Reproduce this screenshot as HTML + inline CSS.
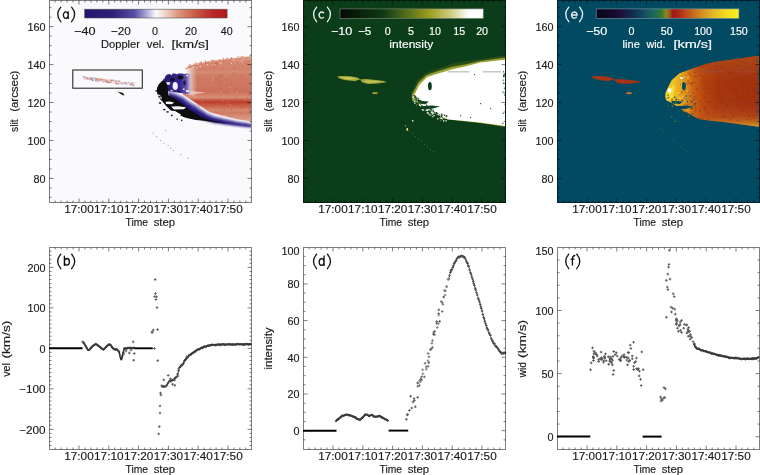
<!DOCTYPE html>
<html><head><meta charset="utf-8"><style>
html,body{margin:0;padding:0;background:#fff;}
svg{display:block;will-change:transform;}
</style></head><body>
<svg width="760" height="475" viewBox="0 0 760 475">
<rect width="760" height="475" fill="#fff"/>
<rect x="49" y="0" width="203" height="203" fill="#fafafd"/>
<rect x="303" y="0" width="203" height="203" fill="#0b3d1a"/>
<rect x="557" y="0" width="203" height="203" fill="#024a61"/>
<defs><linearGradient id="gA" x1="0" y1="56" x2="0" y2="124" gradientUnits="userSpaceOnUse"><stop offset="0" stop-color="#dc9c86"/><stop offset="0.08" stop-color="#d48a72"/><stop offset="0.2" stop-color="#d28068"/><stop offset="0.24" stop-color="#d48c76"/><stop offset="0.28" stop-color="#d07c64"/><stop offset="0.45" stop-color="#cc7560"/><stop offset="0.529" stop-color="#cc7058"/><stop offset="0.574" stop-color="#d4826a"/><stop offset="0.61" stop-color="#d68e78"/><stop offset="0.647" stop-color="#c85a44"/><stop offset="0.676" stop-color="#bc3c2c"/><stop offset="0.706" stop-color="#c4503a"/><stop offset="0.75" stop-color="#cc6a52"/><stop offset="0.794" stop-color="#d48870"/><stop offset="0.838" stop-color="#d07a62"/><stop offset="0.91" stop-color="#d89480"/><stop offset="1" stop-color="#e2ae9e"/></linearGradient><linearGradient id="gAw" x1="187" y1="0" x2="197" y2="0" gradientUnits="userSpaceOnUse"><stop offset="0" stop-color="#f4eef2" stop-opacity="0.95"/><stop offset="0.4" stop-color="#f0d8cf" stop-opacity="0.6"/><stop offset="1" stop-color="#eed0c4" stop-opacity="0"/></linearGradient><linearGradient id="gAb" x1="160" y1="0" x2="193" y2="0" gradientUnits="userSpaceOnUse"><stop offset="0" stop-color="#2a1970"/><stop offset="0.6" stop-color="#35258a"/><stop offset="0.82" stop-color="#6a5eb0"/><stop offset="1" stop-color="#e8e4f2" stop-opacity="0"/></linearGradient><linearGradient id="gAband" x1="0" y1="0" x2="0" y2="1"><stop offset="0" stop-color="#c8c2e2"/><stop offset="0.3" stop-color="#6e62b4"/><stop offset="0.7" stop-color="#3a2a8c"/><stop offset="1" stop-color="#2a1a78"/></linearGradient><linearGradient id="cbA" x1="0" x2="1" y1="0" y2="0"><stop offset="0" stop-color="#24146e"/><stop offset="0.2" stop-color="#2e2078"/><stop offset="0.35" stop-color="#5a4ea6"/><stop offset="0.44" stop-color="#b4b0da"/><stop offset="0.5" stop-color="#fbfbfc"/><stop offset="0.56" stop-color="#f2d8cc"/><stop offset="0.66" stop-color="#dc9478"/><stop offset="0.78" stop-color="#c85a44"/><stop offset="0.9" stop-color="#b8262a"/><stop offset="1" stop-color="#b4161c"/></linearGradient><filter id="bl" x="-5%" y="-5%" width="110%" height="110%"><feGaussianBlur stdDeviation="0.55"/></filter><filter id="bl2" x="-10%" y="-20%" width="120%" height="140%"><feGaussianBlur stdDeviation="0.8"/></filter><clipPath id="clipA"><rect x="50" y="1" width="201" height="201"/></clipPath></defs>
<g clip-path="url(#clipA)" filter="url(#bl)">
<polygon points="187.0,67.5 189.0,66.0 200.0,63.0 220.0,60.0 234.0,58.3 248.0,56.6 252.0,56.2 252.0,121.6 236.8,119.2 225.0,116.3 214.0,113.5 207.7,111.0 201.8,107.0 195.9,103.0 190.0,99.3 186.0,96.5 183.0,94.5 184.5,80.0" fill="url(#gA)"/>
<rect x="200.7" y="64.3" width="1.3" height="1.3" fill="#cc6e58"/>
<rect x="245.5" y="57.9" width="1.3" height="1.3" fill="#d88a70"/>
<rect x="189.3" y="64.2" width="1.3" height="1.3" fill="#d47c64"/>
<rect x="202.1" y="62.2" width="1.3" height="1.3" fill="#f0d0c4"/>
<rect x="216.0" y="63.6" width="1.3" height="1.3" fill="#d47c64"/>
<rect x="211.2" y="64.5" width="1.3" height="1.3" fill="#e8b8a6"/>
<rect x="226.9" y="62.4" width="1.3" height="1.3" fill="#d88a70"/>
<rect x="210.7" y="59.7" width="1.3" height="1.3" fill="#dc9a82"/>
<rect x="195.5" y="68.0" width="1.3" height="1.3" fill="#dc9a82"/>
<rect x="204.9" y="60.6" width="1.3" height="1.3" fill="#cc6e58"/>
<rect x="216.2" y="62.9" width="1.3" height="1.3" fill="#d47c64"/>
<rect x="232.1" y="62.1" width="1.3" height="1.3" fill="#d47c64"/>
<rect x="233.1" y="60.0" width="1.3" height="1.3" fill="#e8b8a6"/>
<rect x="243.0" y="56.0" width="1.3" height="1.3" fill="#e8b8a6"/>
<rect x="217.7" y="60.0" width="1.3" height="1.3" fill="#f0d0c4"/>
<rect x="213.8" y="62.8" width="1.3" height="1.3" fill="#cc6e58"/>
<rect x="212.8" y="64.1" width="1.3" height="1.3" fill="#d88a70"/>
<rect x="208.2" y="63.4" width="1.3" height="1.3" fill="#d88a70"/>
<rect x="200.3" y="63.1" width="1.3" height="1.3" fill="#dc9a82"/>
<rect x="241.5" y="61.3" width="1.3" height="1.3" fill="#f0d0c4"/>
<rect x="230.9" y="60.9" width="1.3" height="1.3" fill="#cc6e58"/>
<rect x="248.7" y="60.0" width="1.3" height="1.3" fill="#d88a70"/>
<rect x="191.9" y="67.2" width="1.3" height="1.3" fill="#f0d0c4"/>
<rect x="239.9" y="59.1" width="1.3" height="1.3" fill="#cc6e58"/>
<rect x="193.2" y="65.8" width="1.3" height="1.3" fill="#f0d0c4"/>
<rect x="250.3" y="55.1" width="1.3" height="1.3" fill="#dc9a82"/>
<rect x="212.1" y="60.3" width="1.3" height="1.3" fill="#cc6e58"/>
<rect x="213.2" y="61.6" width="1.3" height="1.3" fill="#dc9a82"/>
<rect x="187.9" y="68.6" width="1.3" height="1.3" fill="#dc9a82"/>
<rect x="209.9" y="63.1" width="1.3" height="1.3" fill="#d88a70"/>
<rect x="243.1" y="61.1" width="1.3" height="1.3" fill="#d88a70"/>
<rect x="200.6" y="61.3" width="1.3" height="1.3" fill="#dc9a82"/>
<rect x="190.1" y="67.4" width="1.3" height="1.3" fill="#dc9a82"/>
<rect x="247.6" y="60.5" width="1.3" height="1.3" fill="#cc6e58"/>
<rect x="225.3" y="58.5" width="1.3" height="1.3" fill="#dc9a82"/>
<rect x="249.7" y="56.6" width="1.3" height="1.3" fill="#cc6e58"/>
<rect x="248.3" y="60.0" width="1.3" height="1.3" fill="#d47c64"/>
<rect x="209.9" y="64.8" width="1.3" height="1.3" fill="#d47c64"/>
<rect x="227.5" y="60.7" width="1.3" height="1.3" fill="#d88a70"/>
<rect x="191.8" y="69.1" width="1.3" height="1.3" fill="#d88a70"/>
<rect x="202.9" y="64.4" width="1.3" height="1.3" fill="#f0d0c4"/>
<rect x="200.7" y="62.8" width="1.3" height="1.3" fill="#cc6e58"/>
<rect x="219.4" y="61.5" width="1.3" height="1.3" fill="#dc9a82"/>
<rect x="237.0" y="61.9" width="1.3" height="1.3" fill="#cc6e58"/>
<rect x="186.3" y="69.8" width="1.3" height="1.3" fill="#f0d0c4"/>
<rect x="193.8" y="66.6" width="1.3" height="1.3" fill="#cc6e58"/>
<rect x="215.8" y="62.8" width="1.3" height="1.3" fill="#cc6e58"/>
<rect x="225.2" y="59.2" width="1.3" height="1.3" fill="#d47c64"/>
<rect x="186.5" y="66.5" width="1.3" height="1.3" fill="#f0d0c4"/>
<rect x="186.4" y="68.3" width="1.3" height="1.3" fill="#f0d0c4"/>
<rect x="215.1" y="62.4" width="1.3" height="1.3" fill="#cc6e58"/>
<rect x="196.7" y="63.2" width="1.3" height="1.3" fill="#cc6e58"/>
<rect x="240.7" y="57.2" width="1.3" height="1.3" fill="#d47c64"/>
<rect x="191.9" y="68.1" width="1.3" height="1.3" fill="#d88a70"/>
<rect x="230.1" y="57.7" width="1.3" height="1.3" fill="#d88a70"/>
<rect x="199.7" y="65.9" width="1.3" height="1.3" fill="#e8b8a6"/>
<rect x="206.6" y="64.1" width="1.3" height="1.3" fill="#f0d0c4"/>
<rect x="231.1" y="57.4" width="1.3" height="1.3" fill="#cc6e58"/>
<rect x="247.6" y="58.8" width="1.3" height="1.3" fill="#e8b8a6"/>
<rect x="213.9" y="64.1" width="1.3" height="1.3" fill="#e8b8a6"/>
<rect x="190.3" y="68.2" width="1.3" height="1.3" fill="#e8b8a6"/>
<rect x="243.4" y="58.0" width="1.3" height="1.3" fill="#e8b8a6"/>
<rect x="236.9" y="56.3" width="1.3" height="1.3" fill="#e8b8a6"/>
<rect x="205.8" y="65.2" width="1.3" height="1.3" fill="#d88a70"/>
<rect x="197.1" y="63.6" width="1.3" height="1.3" fill="#f0d0c4"/>
<rect x="190.6" y="67.3" width="1.3" height="1.3" fill="#d88a70"/>
<rect x="193.6" y="64.6" width="1.3" height="1.3" fill="#cc6e58"/>
<rect x="215.7" y="62.5" width="1.3" height="1.3" fill="#cc6e58"/>
<rect x="212.7" y="61.7" width="1.3" height="1.3" fill="#d47c64"/>
<rect x="195.3" y="62.5" width="1.3" height="1.3" fill="#d88a70"/>
<rect x="250.1" y="57.1" width="1.3" height="1.3" fill="#f0d0c4"/>
<rect x="199.7" y="65.6" width="1.3" height="1.3" fill="#f0d0c4"/>
<rect x="234.4" y="62.0" width="1.3" height="1.3" fill="#d88a70"/>
<rect x="207.5" y="61.4" width="1.3" height="1.3" fill="#dc9a82"/>
<rect x="241.6" y="61.2" width="1.3" height="1.3" fill="#dc9a82"/>
<rect x="238.5" y="56.2" width="1.3" height="1.3" fill="#f0d0c4"/>
<rect x="218.8" y="59.5" width="1.3" height="1.3" fill="#d47c64"/>
<rect x="223.1" y="57.9" width="1.3" height="1.3" fill="#f0d0c4"/>
<rect x="193.0" y="66.0" width="1.3" height="1.3" fill="#e8b8a6"/>
<rect x="228.8" y="60.2" width="1.3" height="1.3" fill="#d47c64"/>
<rect x="188.5" y="69.9" width="1.3" height="1.3" fill="#dc9a82"/>
<rect x="207.5" y="61.5" width="1.3" height="1.3" fill="#d88a70"/>
<rect x="216.5" y="63.3" width="1.3" height="1.3" fill="#cc6e58"/>
<rect x="199.6" y="62.0" width="1.3" height="1.3" fill="#dc9a82"/>
<rect x="196.3" y="66.8" width="1.3" height="1.3" fill="#e8b8a6"/>
<rect x="239.4" y="55.9" width="1.3" height="1.3" fill="#f0d0c4"/>
<rect x="222.7" y="60.2" width="1.3" height="1.3" fill="#cc6e58"/>
<rect x="201.4" y="64.6" width="1.3" height="1.3" fill="#d88a70"/>
<rect x="212.9" y="62.0" width="1.3" height="1.3" fill="#dc9a82"/>
<rect x="241.6" y="60.1" width="1.3" height="1.3" fill="#dc9a82"/>
<rect x="193.2" y="63.4" width="1.3" height="1.3" fill="#dc9a82"/>
<rect x="241.4" y="56.1" width="1.3" height="1.3" fill="#d88a70"/>
<rect x="217.3" y="59.5" width="1.3" height="1.3" fill="#dc9a82"/>
<rect x="208.2" y="63.7" width="1.3" height="1.3" fill="#d88a70"/>
<rect x="205.1" y="62.0" width="1.3" height="1.3" fill="#cc6e58"/>
<rect x="213.3" y="59.9" width="1.3" height="1.3" fill="#dc9a82"/>
<rect x="232.3" y="58.9" width="1.3" height="1.3" fill="#dc9a82"/>
<rect x="222.4" y="58.2" width="1.3" height="1.3" fill="#d47c64"/>
<rect x="224.9" y="62.1" width="1.3" height="1.3" fill="#d47c64"/>
<rect x="227.0" y="57.6" width="1.3" height="1.3" fill="#d47c64"/>
<rect x="188.5" y="68.2" width="1.3" height="1.3" fill="#f0d0c4"/>
<rect x="205.8" y="65.8" width="1.3" height="1.3" fill="#d47c64"/>
<rect x="215.4" y="60.3" width="1.3" height="1.3" fill="#d88a70"/>
<rect x="202.8" y="64.2" width="1.3" height="1.3" fill="#d47c64"/>
<rect x="199.8" y="62.0" width="1.3" height="1.3" fill="#dc9a82"/>
<rect x="246.8" y="57.1" width="1.3" height="1.3" fill="#d88a70"/>
<rect x="237.2" y="57.6" width="1.3" height="1.3" fill="#d47c64"/>
<rect x="230.6" y="62.4" width="1.3" height="1.3" fill="#f0d0c4"/>
<rect x="228.7" y="62.3" width="1.3" height="1.3" fill="#d47c64"/>
<rect x="229.1" y="61.4" width="1.3" height="1.3" fill="#d88a70"/>
<rect x="220.1" y="62.9" width="1.3" height="1.3" fill="#f0d0c4"/>
<rect x="185.3" y="67.9" width="1.3" height="1.3" fill="#d47c64"/>
<rect x="187.9" y="65.5" width="1.3" height="1.3" fill="#dc9a82"/>
<rect x="228.5" y="59.3" width="1.3" height="1.3" fill="#dc9a82"/>
<rect x="207.5" y="65.0" width="1.3" height="1.3" fill="#dc9a82"/>
<rect x="240.7" y="59.6" width="1.3" height="1.3" fill="#f0d0c4"/>
<rect x="247.9" y="58.2" width="1.3" height="1.3" fill="#dc9a82"/>
<rect x="187.4" y="69.9" width="1.3" height="1.3" fill="#d88a70"/>
<rect x="219.9" y="59.6" width="1.3" height="1.3" fill="#d88a70"/>
<rect x="234.4" y="61.9" width="1.3" height="1.3" fill="#dc9a82"/>
<rect x="223.6" y="109.8" width="1.5" height="1" fill="#c85a44" opacity="0.7"/>
<rect x="240.5" y="75.3" width="1.5" height="1" fill="#c85a44" opacity="0.7"/>
<rect x="229.4" y="87.0" width="1.5" height="1" fill="#e0a890" opacity="0.7"/>
<rect x="205.4" y="95.0" width="1.5" height="1" fill="#d08068" opacity="0.7"/>
<rect x="224.0" y="115.1" width="1.5" height="1" fill="#e0a890" opacity="0.7"/>
<rect x="220.5" y="115.5" width="1.5" height="1" fill="#e0a890" opacity="0.7"/>
<rect x="241.5" y="115.2" width="1.5" height="1" fill="#e0a890" opacity="0.7"/>
<rect x="232.1" y="103.6" width="1.5" height="1" fill="#c04a34" opacity="0.7"/>
<rect x="231.8" y="70.6" width="1.5" height="1" fill="#e0a890" opacity="0.7"/>
<rect x="244.7" y="70.2" width="1.5" height="1" fill="#d89078" opacity="0.7"/>
<rect x="220.4" y="88.6" width="1.5" height="1" fill="#c04a34" opacity="0.7"/>
<rect x="248.0" y="94.3" width="1.5" height="1" fill="#c85a44" opacity="0.7"/>
<rect x="198.3" y="103.4" width="1.5" height="1" fill="#c85a44" opacity="0.7"/>
<rect x="225.7" y="79.3" width="1.5" height="1" fill="#c85a44" opacity="0.7"/>
<rect x="241.9" y="91.6" width="1.5" height="1" fill="#d08068" opacity="0.7"/>
<rect x="231.0" y="109.0" width="1.5" height="1" fill="#c04a34" opacity="0.7"/>
<rect x="242.1" y="94.2" width="1.5" height="1" fill="#d08068" opacity="0.7"/>
<rect x="244.3" y="78.9" width="1.5" height="1" fill="#d08068" opacity="0.7"/>
<rect x="219.2" y="83.1" width="1.5" height="1" fill="#c85a44" opacity="0.7"/>
<rect x="224.8" y="75.1" width="1.5" height="1" fill="#e0a890" opacity="0.7"/>
<rect x="237.2" y="69.9" width="1.5" height="1" fill="#e0a890" opacity="0.7"/>
<rect x="232.8" y="73.3" width="1.5" height="1" fill="#c04a34" opacity="0.7"/>
<rect x="240.9" y="107.2" width="1.5" height="1" fill="#c04a34" opacity="0.7"/>
<rect x="191.7" y="116.6" width="1.5" height="1" fill="#d89078" opacity="0.7"/>
<rect x="242.3" y="84.0" width="1.5" height="1" fill="#d89078" opacity="0.7"/>
<rect x="218.5" y="74.6" width="1.5" height="1" fill="#c85a44" opacity="0.7"/>
<rect x="229.5" y="104.8" width="1.5" height="1" fill="#d89078" opacity="0.7"/>
<rect x="248.5" y="109.0" width="1.5" height="1" fill="#c85a44" opacity="0.7"/>
<rect x="244.3" y="104.7" width="1.5" height="1" fill="#c85a44" opacity="0.7"/>
<rect x="201.4" y="100.8" width="1.5" height="1" fill="#d89078" opacity="0.7"/>
<rect x="244.9" y="76.0" width="1.5" height="1" fill="#d89078" opacity="0.7"/>
<rect x="209.1" y="85.3" width="1.5" height="1" fill="#d89078" opacity="0.7"/>
<rect x="197.2" y="76.5" width="1.5" height="1" fill="#d08068" opacity="0.7"/>
<rect x="192.2" y="86.9" width="1.5" height="1" fill="#d08068" opacity="0.7"/>
<rect x="190.4" y="80.4" width="1.5" height="1" fill="#e0a890" opacity="0.7"/>
<rect x="213.2" y="66.3" width="1.5" height="1" fill="#c04a34" opacity="0.7"/>
<rect x="235.3" y="88.9" width="1.5" height="1" fill="#c85a44" opacity="0.7"/>
<rect x="223.2" y="68.6" width="1.5" height="1" fill="#d08068" opacity="0.7"/>
<rect x="194.7" y="85.8" width="1.5" height="1" fill="#e0a890" opacity="0.7"/>
<rect x="244.1" y="112.0" width="1.5" height="1" fill="#d89078" opacity="0.7"/>
<rect x="222.2" y="100.5" width="1.5" height="1" fill="#d08068" opacity="0.7"/>
<rect x="236.2" y="78.3" width="1.5" height="1" fill="#d08068" opacity="0.7"/>
<rect x="196.5" y="113.9" width="1.5" height="1" fill="#d08068" opacity="0.7"/>
<rect x="231.0" y="91.5" width="1.5" height="1" fill="#d89078" opacity="0.7"/>
<rect x="230.7" y="90.0" width="1.5" height="1" fill="#d89078" opacity="0.7"/>
<rect x="233.8" y="99.3" width="1.5" height="1" fill="#c04a34" opacity="0.7"/>
<rect x="235.3" y="97.5" width="1.5" height="1" fill="#c85a44" opacity="0.7"/>
<rect x="200.9" y="110.9" width="1.5" height="1" fill="#e0a890" opacity="0.7"/>
<rect x="197.5" y="113.3" width="1.5" height="1" fill="#c85a44" opacity="0.7"/>
<rect x="246.2" y="97.5" width="1.5" height="1" fill="#c04a34" opacity="0.7"/>
<rect x="215.6" y="78.5" width="1.5" height="1" fill="#c85a44" opacity="0.7"/>
<rect x="217.9" y="79.2" width="1.5" height="1" fill="#c85a44" opacity="0.7"/>
<rect x="233.0" y="67.9" width="1.5" height="1" fill="#c85a44" opacity="0.7"/>
<rect x="236.0" y="91.9" width="1.5" height="1" fill="#e0a890" opacity="0.7"/>
<rect x="211.9" y="76.6" width="1.5" height="1" fill="#e0a890" opacity="0.7"/>
<rect x="193.3" y="69.5" width="1.5" height="1" fill="#e0a890" opacity="0.7"/>
<rect x="220.8" y="75.6" width="1.5" height="1" fill="#c04a34" opacity="0.7"/>
<rect x="211.6" y="80.3" width="1.5" height="1" fill="#e0a890" opacity="0.7"/>
<rect x="217.3" y="106.5" width="1.5" height="1" fill="#d89078" opacity="0.7"/>
<rect x="211.5" y="108.6" width="1.5" height="1" fill="#d89078" opacity="0.7"/>
<rect x="199.2" y="94.5" width="1.5" height="1" fill="#d89078" opacity="0.7"/>
<rect x="224.4" y="112.0" width="1.5" height="1" fill="#d89078" opacity="0.7"/>
<rect x="201.3" y="72.4" width="1.5" height="1" fill="#e0a890" opacity="0.7"/>
<rect x="230.9" y="83.5" width="1.5" height="1" fill="#c85a44" opacity="0.7"/>
<rect x="226.1" y="70.1" width="1.5" height="1" fill="#e0a890" opacity="0.7"/>
<rect x="238.7" y="92.0" width="1.5" height="1" fill="#c85a44" opacity="0.7"/>
<rect x="224.7" y="73.1" width="1.5" height="1" fill="#d08068" opacity="0.7"/>
<rect x="212.5" y="78.1" width="1.5" height="1" fill="#e0a890" opacity="0.7"/>
<rect x="244.4" y="114.2" width="1.5" height="1" fill="#e0a890" opacity="0.7"/>
<rect x="209.3" y="111.8" width="1.5" height="1" fill="#d08068" opacity="0.7"/>
<rect x="228.7" y="115.7" width="1.5" height="1" fill="#d08068" opacity="0.7"/>
<rect x="244.6" y="98.7" width="1.5" height="1" fill="#d89078" opacity="0.7"/>
<rect x="226.7" y="102.0" width="1.5" height="1" fill="#d89078" opacity="0.7"/>
<rect x="196.6" y="103.6" width="1.5" height="1" fill="#c85a44" opacity="0.7"/>
<rect x="220.0" y="90.8" width="1.5" height="1" fill="#e0a890" opacity="0.7"/>
<rect x="202.1" y="105.0" width="1.5" height="1" fill="#c85a44" opacity="0.7"/>
<rect x="192.3" y="89.5" width="1.5" height="1" fill="#e0a890" opacity="0.7"/>
<rect x="196.8" y="77.6" width="1.5" height="1" fill="#c85a44" opacity="0.7"/>
<rect x="198.3" y="105.6" width="1.5" height="1" fill="#c04a34" opacity="0.7"/>
<rect x="246.3" y="63.4" width="1.5" height="1" fill="#c04a34" opacity="0.7"/>
<polygon points="185.0,70.0 197.0,66.0 197.0,98.0 186.0,93.0" fill="url(#gAw)"/>
<polygon points="184.0,90.4 195.0,91.5 205.6,92.6 195.0,94.0 186.0,94.6" fill="#efd8d0" opacity="0.75"/>
<polygon points="164.0,78.0 167.0,74.5 173.0,73.6 181.0,73.6 188.0,73.8 193.0,74.5 195.0,80.0 195.5,88.0 193.0,94.0 186.0,94.0 178.0,92.5 170.0,92.0 164.0,89.0 161.0,84.0" fill="url(#gAb)"/>
<ellipse cx="175.2" cy="86" rx="2.6" ry="4.0" fill="#f6f4fa"/>
<ellipse cx="180.5" cy="77.2" rx="2.8" ry="2.0" fill="#0a0a14"/>
<ellipse cx="172.5" cy="79.5" rx="2.2" ry="1.6" fill="#0a0a14"/>
<ellipse cx="168" cy="83.5" rx="2.4" ry="1.4" fill="#e4e0f0"/>
<ellipse cx="184.5" cy="83" rx="1.2" ry="2.4" fill="#1a1050"/>
<rect x="175.5" y="72.5" width="2.5" height="1.6" fill="#f8f8fb"/>
<rect x="183.5" y="72.3" width="2" height="1.4" fill="#f8f8fb"/>
<rect x="170.5" y="73.5" width="1.6" height="1.6" fill="#f8f8fb"/>
<rect x="160.5" y="84" width="3" height="3" fill="#0a0a12"/>
<rect x="163" y="88" width="4" height="3" fill="#0a0a12"/>
<rect x="186" y="90" width="3" height="2" fill="#e0dcee"/>
<rect x="163" y="77" width="2" height="1.5" fill="#f4f2f8"/>
<rect x="166" y="88" width="2.5" height="1.5" fill="#0a0a14"/>
<rect x="170.5" y="90" width="2" height="1.5" fill="#e8e4f2"/>
<rect x="186" y="75" width="2" height="1.2" fill="#e8e4f2"/>
<rect x="178" y="91" width="2" height="1.3" fill="#0a0a14"/>
<rect x="169" y="76" width="1.5" height="1.2" fill="#0a0a14"/>
<rect x="183" y="88.5" width="1.6" height="1.4" fill="#f0eef6"/>
<g filter="url(#bl2)">
<polygon points="168.0,91.5 172.0,92.4 175.0,93.0 179.0,94.8 183.0,96.5 186.5,99.0 190.0,101.5 193.0,103.3 195.9,105.1 199.0,107.3 201.8,109.2 205.0,111.4 207.7,113.3 211.0,114.6 214.0,115.7 219.0,117.0 225.0,118.5 231.0,119.9 236.8,121.2 244.0,122.2 252.0,123.4 252.0,124.0 244.0,122.9 236.8,121.9 231.0,120.7 225.0,119.4 219.0,118.0 214.0,116.8 211.0,115.7 207.7,114.5 205.0,112.8 201.8,110.7 199.0,108.8 195.9,106.7 193.0,105.0 190.0,103.2 186.5,100.6 183.0,98.0 179.0,96.0 175.0,94.1 172.0,93.3 168.0,92.2" fill="#a098d0"/>
<polygon points="168.0,92.1 172.0,93.2 175.0,94.0 179.0,95.9 183.0,97.8 186.5,100.4 190.0,103.0 193.0,104.8 195.9,106.6 199.0,108.7 201.8,110.6 205.0,112.6 207.7,114.4 211.0,115.6 214.0,116.7 219.0,117.9 225.0,119.3 231.0,120.6 236.8,121.8 244.0,122.8 252.0,123.9 252.0,124.8 244.0,123.7 236.8,122.8 231.0,121.7 225.0,120.5 219.0,119.2 214.0,118.1 211.0,117.1 207.7,116.0 205.0,114.4 201.8,112.7 199.0,110.8 195.9,108.8 193.0,107.0 190.0,105.2 186.5,102.6 183.0,99.9 179.0,97.7 175.0,95.5 172.0,94.4 168.0,93.1" fill="#4e40a0"/>
<polygon points="168.0,93.0 172.0,94.4 175.0,95.4 179.0,97.5 183.0,99.7 186.5,102.4 190.0,105.1 193.0,106.9 195.9,108.6 199.0,110.7 201.8,112.5 205.0,114.3 207.7,115.8 211.0,117.0 214.0,118.0 219.0,119.1 225.0,120.4 231.0,121.6 236.8,122.7 244.0,123.7 252.0,124.7 252.0,127.5 244.0,126.7 236.8,126.1 231.0,125.3 225.0,124.6 219.0,123.6 214.0,122.9 211.0,122.1 207.7,121.3 205.0,120.5 201.8,119.6 199.0,118.0 195.9,116.2 193.0,114.5 190.0,112.7 186.5,109.7 183.0,106.6 179.0,103.5 175.0,100.4 172.0,98.6 168.0,96.2" fill="#281880"/>
</g>
<polygon points="157.0,88.0 159.0,84.0 162.0,81.0 165.0,80.5 167.0,84.0 168.0,90.0 168.0,95.0 175.0,98.5 183.0,104.0 190.0,109.8 195.9,113.3 201.8,116.9 207.7,119.2 214.0,121.0 225.0,123.0 227.0,123.8 220.0,123.0 214.0,122.2 207.7,121.2 201.8,120.6 195.9,120.0 190.0,118.8 185.0,117.5 179.7,115.2 171.0,110.8 166.0,105.7 160.0,99.0 157.0,93.0" fill="#08080f"/>
<polygon points="165.6,101.8 170.0,101.6 174.0,102.6 172.0,104.2 166.0,104.0" fill="#f8f8fb"/>
<polygon points="171.0,106.4 178.0,106.2 186.0,107.2 184.0,109.3 174.0,109.5" fill="#f8f8fb"/>
<polygon points="163.0,107.0 167.0,108.5 170.0,111.5 168.0,113.0 164.0,110.5" fill="#f8f8fb"/>
<polygon points="169.5,110.5 175.0,111.0 181.0,114.5 179.0,116.8 173.0,115.0" fill="#f8f8fb"/>
<polygon points="158.5,99.5 162.0,101.0 164.5,105.0 161.0,104.0" fill="#f8f8fb"/>
<polygon points="158.0,94.0 161.0,96.0 162.0,99.0 159.0,98.0" fill="#f8f8fb"/>
<rect x="155.5" y="90.2" width="1.8" height="1.4" fill="#111"/>
<rect x="158.4" y="96.1" width="2.3" height="1.4" fill="#111"/>
<rect x="158.9" y="102.3" width="2.3" height="1.4" fill="#111"/>
<rect x="163.2" y="108.9" width="2.1" height="1.4" fill="#111"/>
<rect x="166.5" y="111.2" width="2.2" height="1.4" fill="#111"/>
<rect x="170.9" y="114.7" width="1.7" height="1.4" fill="#111"/>
<rect x="176.5" y="118.5" width="1.2" height="1.4" fill="#111"/>
<rect x="181.1" y="119.7" width="1.3" height="1.4" fill="#111"/>
<rect x="72.8" y="70" width="69.5" height="18.2" fill="none" stroke="#2a2a2a" stroke-width="1.1"/>
<polygon points="82.0,76.2 95.0,77.5 110.0,79.5 122.0,81.5 134.0,83.5 134.0,85.0 122.0,84.0 110.0,82.5 95.0,80.2 82.0,78.2" fill="#ecd8dc" opacity="0.7"/>
<rect x="90.4" y="78.3" width="1.6" height="1.3" fill="#e3a58c" opacity="0.85"/>
<rect x="109.9" y="80.6" width="1.6" height="1.3" fill="#f0e0e0" opacity="0.85"/>
<rect x="97.8" y="79.2" width="1.6" height="1.3" fill="#d07050" opacity="0.85"/>
<rect x="104.8" y="80.0" width="1.6" height="1.3" fill="#d9896a" opacity="0.85"/>
<rect x="119.4" y="81.7" width="1.6" height="1.3" fill="#e8bca8" opacity="0.5"/>
<rect x="105.3" y="79.8" width="1.6" height="1.3" fill="#d07050" opacity="0.85"/>
<rect x="93.6" y="77.2" width="1.6" height="1.3" fill="#a7a2da" opacity="0.85"/>
<rect x="95.5" y="78.6" width="1.6" height="1.3" fill="#f0e0e0" opacity="0.85"/>
<rect x="109.8" y="79.8" width="1.6" height="1.3" fill="#d9896a" opacity="0.85"/>
<rect x="90.9" y="78.1" width="1.6" height="1.3" fill="#8c86cc" opacity="0.85"/>
<rect x="115.1" y="80.4" width="1.6" height="1.3" fill="#8c86cc" opacity="0.85"/>
<rect x="105.0" y="79.3" width="1.6" height="1.3" fill="#d9896a" opacity="0.85"/>
<rect x="103.0" y="79.4" width="1.6" height="1.3" fill="#d9896a" opacity="0.85"/>
<rect x="118.6" y="80.6" width="1.6" height="1.3" fill="#d07050" opacity="0.5"/>
<rect x="84.0" y="77.4" width="1.6" height="1.3" fill="#a7a2da" opacity="0.85"/>
<rect x="94.6" y="78.5" width="1.6" height="1.3" fill="#a7a2da" opacity="0.85"/>
<rect x="90.6" y="78.7" width="1.6" height="1.3" fill="#e8bca8" opacity="0.85"/>
<rect x="129.5" y="83.7" width="1.6" height="1.3" fill="#c8c4e8" opacity="0.5"/>
<rect x="96.3" y="79.9" width="1.6" height="1.3" fill="#f0e0e0" opacity="0.85"/>
<rect x="123.0" y="84.0" width="1.6" height="1.3" fill="#f0e0e0" opacity="0.5"/>
<rect x="95.0" y="78.2" width="1.6" height="1.3" fill="#e8bca8" opacity="0.85"/>
<rect x="114.7" y="81.0" width="1.6" height="1.3" fill="#e3a58c" opacity="0.85"/>
<rect x="84.9" y="77.4" width="1.6" height="1.3" fill="#e3a58c" opacity="0.85"/>
<rect x="112.8" y="79.7" width="1.6" height="1.3" fill="#d9896a" opacity="0.85"/>
<rect x="117.4" y="80.4" width="1.6" height="1.3" fill="#d9896a" opacity="0.85"/>
<rect x="107.1" y="79.5" width="1.6" height="1.3" fill="#e8bca8" opacity="0.85"/>
<rect x="92.4" y="80.0" width="1.6" height="1.3" fill="#f0e0e0" opacity="0.85"/>
<rect x="99.7" y="79.4" width="1.6" height="1.3" fill="#e8bca8" opacity="0.85"/>
<rect x="130.9" y="82.2" width="1.6" height="1.3" fill="#c8c4e8" opacity="0.5"/>
<rect x="121.1" y="82.7" width="1.6" height="1.3" fill="#d07050" opacity="0.5"/>
<rect x="86.6" y="77.2" width="1.6" height="1.3" fill="#d07050" opacity="0.85"/>
<rect x="88.0" y="77.6" width="1.6" height="1.3" fill="#e8bca8" opacity="0.85"/>
<rect x="109.9" y="81.7" width="1.6" height="1.3" fill="#d07050" opacity="0.85"/>
<rect x="91.1" y="79.1" width="1.6" height="1.3" fill="#d07050" opacity="0.85"/>
<rect x="125.5" y="83.0" width="1.6" height="1.3" fill="#8c86cc" opacity="0.5"/>
<rect x="100.9" y="79.4" width="1.6" height="1.3" fill="#a7a2da" opacity="0.85"/>
<rect x="105.1" y="80.8" width="1.6" height="1.3" fill="#e8bca8" opacity="0.85"/>
<rect x="96.0" y="78.0" width="1.6" height="1.3" fill="#d07050" opacity="0.85"/>
<rect x="131.4" y="82.3" width="1.6" height="1.3" fill="#8c86cc" opacity="0.5"/>
<rect x="119.0" y="80.6" width="1.6" height="1.3" fill="#f0e0e0" opacity="0.5"/>
<rect x="86.8" y="78.4" width="1.6" height="1.3" fill="#e3a58c" opacity="0.85"/>
<rect x="98.6" y="79.7" width="1.6" height="1.3" fill="#d9896a" opacity="0.85"/>
<rect x="127.7" y="84.3" width="1.6" height="1.3" fill="#f0e0e0" opacity="0.5"/>
<rect x="106.3" y="81.5" width="1.6" height="1.3" fill="#e8bca8" opacity="0.85"/>
<rect x="133.8" y="82.5" width="1.6" height="1.3" fill="#a7a2da" opacity="0.5"/>
<rect x="102.8" y="81.3" width="1.6" height="1.3" fill="#e3a58c" opacity="0.85"/>
<rect x="99.6" y="78.9" width="1.6" height="1.3" fill="#f0e0e0" opacity="0.85"/>
<rect x="86.2" y="78.2" width="1.6" height="1.3" fill="#a7a2da" opacity="0.85"/>
<rect x="117.8" y="83.3" width="1.6" height="1.3" fill="#8c86cc" opacity="0.85"/>
<rect x="112.4" y="79.7" width="1.6" height="1.3" fill="#a7a2da" opacity="0.85"/>
<rect x="97.0" y="78.3" width="1.6" height="1.3" fill="#d07050" opacity="0.85"/>
<rect x="108.3" y="81.9" width="1.6" height="1.3" fill="#e8bca8" opacity="0.85"/>
<rect x="123.0" y="82.7" width="1.6" height="1.3" fill="#a7a2da" opacity="0.5"/>
<rect x="106.3" y="80.7" width="1.6" height="1.3" fill="#d9896a" opacity="0.85"/>
<rect x="124.9" y="81.7" width="1.6" height="1.3" fill="#d9896a" opacity="0.5"/>
<rect x="126.7" y="81.8" width="1.6" height="1.3" fill="#c8c4e8" opacity="0.5"/>
<rect x="86.5" y="77.7" width="1.6" height="1.3" fill="#a7a2da" opacity="0.85"/>
<rect x="124.9" y="83.4" width="1.6" height="1.3" fill="#e3a58c" opacity="0.5"/>
<rect x="115.4" y="82.3" width="1.6" height="1.3" fill="#e8bca8" opacity="0.85"/>
<rect x="102.9" y="80.4" width="1.6" height="1.3" fill="#e3a58c" opacity="0.85"/>
<rect x="97.2" y="80.5" width="1.6" height="1.3" fill="#f0e0e0" opacity="0.85"/>
<rect x="124.4" y="81.9" width="1.6" height="1.3" fill="#d9896a" opacity="0.5"/>
<rect x="106.1" y="81.0" width="1.6" height="1.3" fill="#e3a58c" opacity="0.85"/>
<rect x="99.8" y="78.6" width="1.6" height="1.3" fill="#e3a58c" opacity="0.85"/>
<rect x="130.0" y="84.0" width="1.6" height="1.3" fill="#e8bca8" opacity="0.5"/>
<rect x="104.0" y="80.5" width="1.6" height="1.3" fill="#a7a2da" opacity="0.85"/>
<rect x="95.0" y="79.9" width="1.6" height="1.3" fill="#d9896a" opacity="0.85"/>
<rect x="99.4" y="79.3" width="1.6" height="1.3" fill="#e3a58c" opacity="0.85"/>
<rect x="95.0" y="78.4" width="1.6" height="1.3" fill="#a7a2da" opacity="0.85"/>
<rect x="119.8" y="83.3" width="1.6" height="1.3" fill="#f0e0e0" opacity="0.5"/>
<rect x="130.4" y="83.6" width="1.6" height="1.3" fill="#d07050" opacity="0.5"/>
<rect x="101.1" y="78.8" width="1.6" height="1.3" fill="#d07050" opacity="0.85"/>
<rect x="107.2" y="81.3" width="1.6" height="1.3" fill="#d07050" opacity="0.85"/>
<rect x="106.4" y="80.7" width="1.6" height="1.3" fill="#d9896a" opacity="0.85"/>
<rect x="97.2" y="80.5" width="1.6" height="1.3" fill="#8c86cc" opacity="0.85"/>
<rect x="128.4" y="81.9" width="1.6" height="1.3" fill="#8c86cc" opacity="0.5"/>
<rect x="97.3" y="79.3" width="1.6" height="1.3" fill="#f0e0e0" opacity="0.85"/>
<rect x="84.1" y="78.2" width="1.6" height="1.3" fill="#c8c4e8" opacity="0.85"/>
<rect x="107.6" y="79.2" width="1.6" height="1.3" fill="#f0e0e0" opacity="0.85"/>
<rect x="120.6" y="83.0" width="1.6" height="1.3" fill="#c8c4e8" opacity="0.5"/>
<rect x="89.4" y="78.0" width="1.6" height="1.3" fill="#d07050" opacity="0.85"/>
<rect x="105.1" y="79.3" width="1.6" height="1.3" fill="#f0e0e0" opacity="0.85"/>
<rect x="121.7" y="83.0" width="1.6" height="1.3" fill="#d07050" opacity="0.5"/>
<rect x="132.9" y="85.0" width="1.6" height="1.3" fill="#e8bca8" opacity="0.5"/>
<rect x="131.0" y="83.4" width="1.6" height="1.3" fill="#f0e0e0" opacity="0.5"/>
<rect x="106.7" y="81.9" width="1.6" height="1.3" fill="#a7a2da" opacity="0.85"/>
<rect x="100.7" y="80.7" width="1.6" height="1.3" fill="#c8c4e8" opacity="0.85"/>
<rect x="83.5" y="77.0" width="1.6" height="1.3" fill="#e8bca8" opacity="0.85"/>
<rect x="124.0" y="82.1" width="1.6" height="1.3" fill="#a7a2da" opacity="0.5"/>
<rect x="130.4" y="83.6" width="1.6" height="1.3" fill="#d9896a" opacity="0.5"/>
<rect x="88.8" y="78.2" width="1.6" height="1.3" fill="#d9896a" opacity="0.85"/>
<rect x="90.6" y="77.0" width="1.6" height="1.3" fill="#a7a2da" opacity="0.85"/>
<rect x="133.2" y="84.8" width="1.6" height="1.3" fill="#e8bca8" opacity="0.5"/>
<rect x="132.9" y="84.7" width="1.6" height="1.3" fill="#d9896a" opacity="0.5"/>
<rect x="107.5" y="79.7" width="1.6" height="1.3" fill="#c8c4e8" opacity="0.85"/>
<rect x="104.5" y="79.7" width="1.6" height="1.3" fill="#d9896a" opacity="0.85"/>
<rect x="113.4" y="82.2" width="1.6" height="1.3" fill="#f0e0e0" opacity="0.85"/>
<rect x="98.2" y="78.6" width="1.6" height="1.3" fill="#f0e0e0" opacity="0.85"/>
<rect x="103.7" y="79.3" width="1.6" height="1.3" fill="#d9896a" opacity="0.85"/>
<rect x="83.5" y="76.0" width="1.6" height="1.3" fill="#8c86cc" opacity="0.85"/>
<rect x="129.5" y="84.3" width="1.6" height="1.3" fill="#a7a2da" opacity="0.5"/>
<rect x="131.6" y="84.4" width="1.6" height="1.3" fill="#d07050" opacity="0.5"/>
<rect x="108.5" y="81.7" width="1.6" height="1.3" fill="#8c86cc" opacity="0.85"/>
<rect x="96.5" y="78.1" width="1.6" height="1.3" fill="#d9896a" opacity="0.85"/>
<rect x="107.3" y="79.2" width="1.6" height="1.3" fill="#f0e0e0" opacity="0.85"/>
<rect x="106.3" y="80.9" width="1.6" height="1.3" fill="#d07050" opacity="0.85"/>
<rect x="101.3" y="80.1" width="1.6" height="1.3" fill="#c8c4e8" opacity="0.85"/>
<rect x="91.5" y="79.0" width="1.6" height="1.3" fill="#e3a58c" opacity="0.85"/>
<rect x="103.2" y="79.5" width="1.6" height="1.3" fill="#f0e0e0" opacity="0.85"/>
<rect x="96.5" y="78.4" width="1.6" height="1.3" fill="#c8c4e8" opacity="0.85"/>
<rect x="131.9" y="82.7" width="1.6" height="1.3" fill="#e8bca8" opacity="0.5"/>
<rect x="89.3" y="76.8" width="1.6" height="1.3" fill="#f0e0e0" opacity="0.85"/>
<rect x="126.3" y="84.0" width="1.6" height="1.3" fill="#c8c4e8" opacity="0.5"/>
<rect x="83.6" y="77.6" width="1.6" height="1.3" fill="#e3a58c" opacity="0.85"/>
<rect x="107.4" y="79.9" width="1.6" height="1.3" fill="#c8c4e8" opacity="0.85"/>
<rect x="87.3" y="78.4" width="1.6" height="1.3" fill="#e8bca8" opacity="0.85"/>
<rect x="83.7" y="77.4" width="1.6" height="1.3" fill="#f0e0e0" opacity="0.85"/>
<rect x="92.1" y="79.8" width="1.6" height="1.3" fill="#8c86cc" opacity="0.85"/>
<rect x="116.0" y="83.0" width="1.6" height="1.3" fill="#d07050" opacity="0.85"/>
<rect x="98.4" y="78.7" width="1.6" height="1.3" fill="#d9896a" opacity="0.85"/>
<rect x="131.1" y="83.1" width="1.6" height="1.3" fill="#d07050" opacity="0.5"/>
<rect x="110.9" y="79.6" width="1.6" height="1.3" fill="#d07050" opacity="0.85"/>
<rect x="95.0" y="80.3" width="1.6" height="1.3" fill="#e3a58c" opacity="0.85"/>
<rect x="107.8" y="81.9" width="1.6" height="1.3" fill="#e3a58c" opacity="0.85"/>
<rect x="118.3" y="80.8" width="1.6" height="1.3" fill="#e3a58c" opacity="0.85"/>
<rect x="114.8" y="82.4" width="1.6" height="1.3" fill="#d9896a" opacity="0.85"/>
<rect x="131.0" y="85.0" width="1.6" height="1.3" fill="#e3a58c" opacity="0.5"/>
<rect x="104.4" y="81.6" width="1.6" height="1.3" fill="#f0e0e0" opacity="0.85"/>
<rect x="95.9" y="79.2" width="1.6" height="1.3" fill="#d9896a" opacity="0.85"/>
<rect x="91.1" y="78.3" width="1.6" height="1.3" fill="#8c86cc" opacity="0.85"/>
<path d="M117.5,91.5 L123,93 L124.5,95.8 L121,94.2 Z" fill="#111"/>
<rect x="152.5" y="132.5" width="1.2" height="1.2" fill="#c8a0a8"/>
<rect x="156" y="136" width="1.2" height="1.2" fill="#b0b0d0"/>
<rect x="160" y="140" width="1.2" height="1.2" fill="#c8a0a8"/>
<rect x="163.5" y="142.5" width="1.2" height="1.2" fill="#c8a0a8"/>
<rect x="167.5" y="145" width="1.2" height="1.2" fill="#b0b0d0"/>
<rect x="170" y="147.5" width="1.2" height="1.2" fill="#c8a0a8"/>
<rect x="172.5" y="150" width="1.2" height="1.2" fill="#c8a0a8"/>
<rect x="180" y="154" width="1.2" height="1.2" fill="#c8a0a8"/>
<rect x="187.5" y="157.5" width="1.2" height="1.2" fill="#c0a0b0"/>
<rect x="165" y="130" width="1.2" height="1.2" fill="#b8b8d8"/>
</g>
<rect x="84.7" y="9.2" width="142.4" height="8.8" fill="url(#cbA)" stroke="#555" stroke-width="0.6"/>
<defs><linearGradient id="cbC" x1="0" x2="1" y1="0" y2="0"><stop offset="0" stop-color="#020a02"/><stop offset="0.3" stop-color="#0f3a14"/><stop offset="0.45" stop-color="#4c6a18"/><stop offset="0.62" stop-color="#9c9c1c"/><stop offset="0.78" stop-color="#cfcf86"/><stop offset="0.9" stop-color="#ffffff"/><stop offset="1" stop-color="#ffffff"/></linearGradient><clipPath id="clipC"><rect x="304" y="1" width="201" height="201"/></clipPath></defs>
<g clip-path="url(#clipC)" filter="url(#bl)">
<polygon points="411.2,97.0 411.6,92.5 413.7,88.0 417.6,80.3 425.5,73.2 436.6,69.2 452.4,63.7 465.0,61.3 480.3,59.3 502.1,55.9 507.0,55.5 507.0,127.0 503.8,126.8 480.3,123.4 465.0,121.5 455.0,120.6 444.5,119.0 430.0,111.0 418.0,103.0 412.5,100.5" fill="#2c5018"/>
<polygon points="411.8,97.2 412.4,93.5 414.5,90.0 418.4,82.6 426.3,75.2 436.6,71.6 452.4,66.8 465.0,64.4 480.3,61.0 502.1,58.0 507.0,57.6 507.0,126.6 503.8,126.4 480.3,123.0 465.0,121.2 455.0,120.3 444.5,118.6 430.0,110.6 418.5,102.8 413.0,100.2" fill="#9ca030"/>
<polygon points="412.4,97.4 415.3,92.9 419.2,85.0 427.1,77.1 436.6,74.0 452.4,69.2 465.0,66.6 480.3,62.6 502.1,60.1 507.0,59.8 507.0,126.3 503.8,125.8 480.3,122.4 455.0,119.9 448.0,119.5 441.2,116.5 433.8,112.8 426.4,108.4 419.0,102.5" fill="#ffffff"/>
<rect x="447.6" y="71.3" width="22" height="1.1" fill="#a8b8a4"/>
<rect x="482.8" y="71.3" width="18" height="1.1" fill="#a8b8a4"/>
<ellipse cx="429.9" cy="86.2" rx="1.9" ry="4.1" fill="#0b3d1a"/>
<polygon points="420.8,106.2 432.0,105.4 440.0,106.6 432.0,108.8 421.0,109.4" fill="#0b3d1a"/>
<polygon points="417.6,100.8 428.7,101.6 426.0,104.0 418.0,103.6" fill="#0b3d1a"/>
<polygon points="424.0,110.0 432.0,113.5 436.0,116.5 428.0,114.5" fill="#0b3d1a"/>
<rect x="417.8" y="98.3" width="1.4" height="1.3" fill="#1a4a20"/>
<rect x="435.8" y="112.0" width="1.4" height="1.3" fill="#0b3d1a"/>
<rect x="434.3" y="112.3" width="1.4" height="1.3" fill="#1a4a20"/>
<rect x="418.9" y="100.2" width="1.4" height="1.3" fill="#0b3d1a"/>
<rect x="419.3" y="99.8" width="1.4" height="1.3" fill="#1a4a20"/>
<rect x="414.6" y="95.7" width="1.4" height="1.3" fill="#3a5a2a"/>
<rect x="420.1" y="100.6" width="1.4" height="1.3" fill="#0b3d1a"/>
<rect x="425.9" y="104.5" width="1.4" height="1.3" fill="#0b3d1a"/>
<rect x="416.4" y="99.9" width="1.4" height="1.3" fill="#0b3d1a"/>
<rect x="417.2" y="99.7" width="1.4" height="1.3" fill="#3a5a2a"/>
<rect x="415.5" y="98.9" width="1.4" height="1.3" fill="#0b3d1a"/>
<rect x="445.9" y="115.1" width="1.4" height="1.3" fill="#1a4a20"/>
<rect x="415.1" y="97.5" width="1.4" height="1.3" fill="#0b3d1a"/>
<rect x="416.4" y="97.5" width="1.4" height="1.3" fill="#0b3d1a"/>
<rect x="413.7" y="97.0" width="1.4" height="1.3" fill="#3a5a2a"/>
<rect x="441.2" y="114.8" width="1.4" height="1.3" fill="#0b3d1a"/>
<rect x="428.3" y="107.5" width="1.4" height="1.3" fill="#0b3d1a"/>
<rect x="417.9" y="99.9" width="1.4" height="1.3" fill="#0b3d1a"/>
<rect x="419.6" y="100.8" width="1.4" height="1.3" fill="#3a5a2a"/>
<rect x="441.0" y="115.5" width="1.4" height="1.3" fill="#1a4a20"/>
<rect x="423.5" y="103.1" width="1.4" height="1.3" fill="#1a4a20"/>
<rect x="414.8" y="95.8" width="1.4" height="1.3" fill="#0b3d1a"/>
<rect x="433.3" y="111.6" width="1.4" height="1.3" fill="#3a5a2a"/>
<rect x="413.5" y="95.1" width="1.4" height="1.3" fill="#0b3d1a"/>
<rect x="445.7" y="116.0" width="1.4" height="1.3" fill="#3a5a2a"/>
<rect x="436.0" y="112.7" width="1.4" height="1.3" fill="#0b3d1a"/>
<rect x="430.8" y="109.3" width="1.4" height="1.3" fill="#1a4a20"/>
<rect x="432.5" y="111.0" width="1.4" height="1.3" fill="#0b3d1a"/>
<rect x="429.7" y="108.9" width="1.4" height="1.3" fill="#0b3d1a"/>
<rect x="432.5" y="109.5" width="1.4" height="1.3" fill="#3a5a2a"/>
<rect x="443.9" y="114.6" width="1.4" height="1.3" fill="#0b3d1a"/>
<rect x="422.5" y="101.8" width="1.4" height="1.3" fill="#0b3d1a"/>
<rect x="419.0" y="100.3" width="1.4" height="1.3" fill="#1a4a20"/>
<rect x="437.2" y="113.1" width="1.4" height="1.3" fill="#3a5a2a"/>
<rect x="421.2" y="102.6" width="1.4" height="1.3" fill="#0b3d1a"/>
<rect x="427.9" y="107.5" width="1.4" height="1.3" fill="#3a5a2a"/>
<rect x="439.0" y="114.5" width="1.4" height="1.3" fill="#3a5a2a"/>
<rect x="430.4" y="109.1" width="1.4" height="1.3" fill="#3a5a2a"/>
<rect x="414.7" y="97.5" width="1.4" height="1.3" fill="#3a5a2a"/>
<rect x="441.0" y="113.6" width="1.4" height="1.3" fill="#1a4a20"/>
<rect x="420.0" y="105.2" width="1.4" height="1.3" fill="#e8eee0"/>
<rect x="445.4" y="120.2" width="1.4" height="1.3" fill="#e8eee0"/>
<rect x="413.9" y="100.9" width="1.4" height="1.3" fill="#ffffff"/>
<rect x="426.7" y="112.5" width="1.4" height="1.3" fill="#c8d0a0"/>
<rect x="412.4" y="99.3" width="1.4" height="1.3" fill="#c8d0a0"/>
<rect x="425.6" y="109.6" width="1.4" height="1.3" fill="#ffffff"/>
<rect x="431.9" y="112.6" width="1.4" height="1.3" fill="#e8eee0"/>
<rect x="412.0" y="120.1" width="1.4" height="1.3" fill="#ffffff"/>
<rect x="416.7" y="101.4" width="1.4" height="1.3" fill="#c8d0a0"/>
<rect x="426.8" y="109.8" width="1.4" height="1.3" fill="#ffffff"/>
<rect x="430.3" y="114.9" width="1.4" height="1.3" fill="#6a7a2a"/>
<rect x="437.1" y="118.2" width="1.4" height="1.3" fill="#e8eee0"/>
<rect x="427.0" y="111.9" width="1.4" height="1.3" fill="#ffffff"/>
<rect x="429.3" y="114.3" width="1.4" height="1.3" fill="#e8eee0"/>
<rect x="428.2" y="113.5" width="1.4" height="1.3" fill="#c8d0a0"/>
<rect x="430.8" y="111.8" width="1.4" height="1.3" fill="#e8eee0"/>
<rect x="432.4" y="112.6" width="1.4" height="1.3" fill="#ffffff"/>
<rect x="439.1" y="117.3" width="1.4" height="1.3" fill="#6a7a2a"/>
<rect x="440.3" y="117.1" width="1.4" height="1.3" fill="#c8d0a0"/>
<rect x="416.8" y="101.9" width="1.4" height="1.3" fill="#6a7a2a"/>
<rect x="431.9" y="116.0" width="1.4" height="1.3" fill="#c8d0a0"/>
<rect x="426.8" y="109.4" width="1.4" height="1.3" fill="#ffffff"/>
<rect x="414.2" y="102.8" width="1.4" height="1.3" fill="#c8d0a0"/>
<rect x="414.2" y="99.2" width="1.4" height="1.3" fill="#6a7a2a"/>
<rect x="443.0" y="120.3" width="1.4" height="1.3" fill="#ffffff"/>
<rect x="440.1" y="117.6" width="1.4" height="1.3" fill="#6a7a2a"/>
<rect x="442.0" y="118.1" width="1.4" height="1.3" fill="#c8d0a0"/>
<rect x="418.9" y="104.3" width="1.4" height="1.3" fill="#ffffff"/>
<rect x="413.8" y="100.9" width="1.4" height="1.3" fill="#e8eee0"/>
<rect x="431.5" y="112.1" width="1.4" height="1.3" fill="#e8eee0"/>
<rect x="439.9" y="119.6" width="1.4" height="1.3" fill="#6a7a2a"/>
<rect x="421.7" y="109.1" width="1.4" height="1.3" fill="#e8eee0"/>
<rect x="418.9" y="104.0" width="1.4" height="1.3" fill="#e8eee0"/>
<rect x="431.8" y="113.4" width="1.4" height="1.3" fill="#c8d0a0"/>
<rect x="422.7" y="109.4" width="1.4" height="1.3" fill="#e8eee0"/>
<rect x="427.2" y="112.2" width="1.4" height="1.3" fill="#c8d0a0"/>
<rect x="433.4" y="114.9" width="1.4" height="1.3" fill="#e8eee0"/>
<rect x="418.2" y="102.7" width="1.4" height="1.3" fill="#6a7a2a"/>
<rect x="416.1" y="104.4" width="1.4" height="1.3" fill="#6a7a2a"/>
<rect x="440.6" y="117.8" width="1.4" height="1.3" fill="#ffffff"/>
<rect x="503.0" y="76.0" width="1.2" height="1.2" fill="#2a5a2a"/>
<rect x="504.6" y="104.3" width="1.2" height="1.2" fill="#2a5a2a"/>
<rect x="504.2" y="75.4" width="1.2" height="1.2" fill="#2a5a2a"/>
<rect x="503.1" y="74.5" width="1.2" height="1.2" fill="#2a5a2a"/>
<rect x="502.9" y="82.5" width="1.2" height="1.2" fill="#2a5a2a"/>
<rect x="502.2" y="122.8" width="1.2" height="1.2" fill="#2a5a2a"/>
<rect x="504.2" y="73.5" width="1.2" height="1.2" fill="#2a5a2a"/>
<rect x="502.9" y="71.2" width="1.2" height="1.2" fill="#2a5a2a"/>
<rect x="502.5" y="91.4" width="1.2" height="1.2" fill="#2a5a2a"/>
<rect x="502.6" y="112.7" width="1.2" height="1.2" fill="#2a5a2a"/>
<rect x="503.1" y="75.1" width="1.2" height="1.2" fill="#2a5a2a"/>
<rect x="504.1" y="94.5" width="1.2" height="1.2" fill="#2a5a2a"/>
<rect x="503.8" y="87.6" width="1.2" height="1.2" fill="#2a5a2a"/>
<rect x="502.5" y="79.6" width="1.2" height="1.2" fill="#2a5a2a"/>
<rect x="474" y="74" width="1.2" height="1.2" fill="#3a6a3a"/>
<rect x="470" y="117" width="1.2" height="1.2" fill="#3a6a3a"/>
<rect x="460" y="115" width="1.2" height="1.2" fill="#3a6a3a"/>
<rect x="480" y="103" width="1.2" height="1.2" fill="#3a6a3a"/>
<rect x="490" y="108" width="1.2" height="1.2" fill="#3a6a3a"/>
<polygon points="337.0,76.8 341.0,75.9 350.0,76.3 357.0,77.6 360.5,79.2 355.0,80.9 346.0,80.3 340.0,78.8" fill="#aaad38"/>
<polygon points="360.0,79.6 366.0,79.0 376.0,80.0 384.0,81.0 386.5,82.2 378.0,83.6 368.0,84.0 362.0,82.2" fill="#a4a836"/>
<polygon points="341.0,77.2 350.0,77.2 357.0,78.4 350.0,79.4 343.0,78.6" fill="#c8c868"/>
<polygon points="364.0,80.6 374.0,80.8 382.0,81.6 374.0,82.6 366.0,82.2" fill="#c4c464"/>
<ellipse cx="375" cy="93.2" rx="3" ry="1.1" fill="#9a9a30"/>
<rect x="406.5" y="128" width="1.6" height="2.8" fill="#d8d890"/>
<rect x="412" y="133" width="1" height="1" fill="#3a6a2a"/>
<rect x="415" y="136" width="1" height="1" fill="#3a6a2a"/>
<rect x="418" y="139" width="1" height="1" fill="#3a6a2a"/>
<rect x="421" y="141" width="1" height="1" fill="#3a6a2a"/>
<rect x="424" y="144" width="1" height="1" fill="#3a6a2a"/>
<rect x="427" y="146" width="1" height="1" fill="#3a6a2a"/>
<rect x="430" y="149" width="1" height="1" fill="#3a6a2a"/>
<rect x="433" y="151" width="1" height="1" fill="#3a6a2a"/>
<rect x="409" y="131" width="1" height="1" fill="#3a6a2a"/>
<rect x="405" y="125" width="1" height="1.5" fill="#8a9a40"/>
</g>
<rect x="340" y="8.9" width="143.2" height="9.4" fill="url(#cbC)" stroke="#7a8c7a" stroke-width="0.6"/>
<defs><linearGradient id="gE" x1="665" y1="0" x2="760" y2="0" gradientUnits="userSpaceOnUse"><stop offset="0" stop-color="#f4d628"/><stop offset="0.1" stop-color="#eebc26"/><stop offset="0.2" stop-color="#e09a20"/><stop offset="0.3" stop-color="#cc6616"/><stop offset="0.42" stop-color="#b84610"/><stop offset="0.55" stop-color="#a63612"/><stop offset="1" stop-color="#982c12"/></linearGradient><linearGradient id="cbE" x1="0" x2="1" y1="0" y2="0"><stop offset="0" stop-color="#0a0618"/><stop offset="0.12" stop-color="#140a2c"/><stop offset="0.17" stop-color="#1e1040"/><stop offset="0.24" stop-color="#12284a"/><stop offset="0.32" stop-color="#144660"/><stop offset="0.38" stop-color="#18625e"/><stop offset="0.43" stop-color="#24704a"/><stop offset="0.46" stop-color="#3a7a30"/><stop offset="0.49" stop-color="#8a8a22"/><stop offset="0.515" stop-color="#9a5a1c"/><stop offset="0.535" stop-color="#a01c18"/><stop offset="0.56" stop-color="#a81c18"/><stop offset="0.62" stop-color="#b8441a"/><stop offset="0.72" stop-color="#d08422"/><stop offset="0.82" stop-color="#e4b828"/><stop offset="0.92" stop-color="#f4e020"/><stop offset="1" stop-color="#fcf01a"/></linearGradient><clipPath id="clipE"><rect x="558" y="1" width="201" height="201"/></clipPath><clipPath id="clipEb"><polygon points="665.2,97.0 665.6,92.5 667.7,88.0 671.6,80.3 679.5,73.2 690.6,69.2 706.4,63.7 719.0,61.3 734.3,59.3 756.1,55.9 761.0,55.5 761.0,127.0 757.8,126.8 734.3,123.4 719.0,121.5 709.0,120.6 698.5,119.0 684.0,111.0 672.0,103.0 666.5,100.5"/></clipPath></defs>
<g clip-path="url(#clipE)" filter="url(#bl)">
<polygon points="665.2,97.0 665.6,92.5 667.7,88.0 671.6,80.3 679.5,73.2 690.6,69.2 706.4,63.7 719.0,61.3 734.3,59.3 756.1,55.9 761.0,55.5 761.0,127.0 757.8,126.8 734.3,123.4 719.0,121.5 709.0,120.6 698.5,119.0 684.0,111.0 672.0,103.0 666.5,100.5" fill="url(#gE)"/>
<defs><linearGradient id="gEv" x1="0" y1="56" x2="0" y2="127" gradientUnits="userSpaceOnUse"><stop offset="0" stop-color="#c86a28" stop-opacity="0.5"/><stop offset="0.2" stop-color="#b84a14" stop-opacity="0.3"/><stop offset="0.45" stop-color="#a83608" stop-opacity="0.35"/><stop offset="0.65" stop-color="#b04010" stop-opacity="0.2"/><stop offset="0.85" stop-color="#d07020" stop-opacity="0.35"/><stop offset="0.96" stop-color="#e0a028" stop-opacity="0.7"/><stop offset="1" stop-color="#e8b830" stop-opacity="0.8"/></linearGradient></defs>
<defs><linearGradient id="mEg" x1="686" y1="0" x2="712" y2="0" gradientUnits="userSpaceOnUse"><stop offset="0" stop-color="#000"/><stop offset="1" stop-color="#fff"/></linearGradient><mask id="mE" maskUnits="userSpaceOnUse" x="557" y="0" width="203" height="203"><rect x="557" y="0" width="203" height="203" fill="url(#mEg)"/></mask></defs>
<g mask="url(#mE)">
<polygon points="674.0,56.0 761.0,55.0 761.0,128.0 674.0,128.0" fill="url(#gEv)" clip-path="url(#clipEb)"/>
<polygon points="679.5,73.2 690.6,69.2 706.4,63.7 719.0,61.3 734.3,59.3 756.1,55.9 761.0,55.5 761.0,71.0 734.0,70.5 709.0,71.5 692.0,73.5 682.0,75.0" fill="#a84418" opacity="0.5" clip-path="url(#clipEb)"/>
</g>
<rect x="708.0" y="63.3" width="1.6" height="1.2" fill="#a03414" opacity="0.55" clip-path="url(#clipEb)"/>
<rect x="746.8" y="90.8" width="1.6" height="1.2" fill="#a03414" opacity="0.55" clip-path="url(#clipEb)"/>
<rect x="692.1" y="92.8" width="1.6" height="1.2" fill="#922c12" opacity="0.55" clip-path="url(#clipEb)"/>
<rect x="732.9" y="72.9" width="1.6" height="1.2" fill="#a03414" opacity="0.55" clip-path="url(#clipEb)"/>
<rect x="756.9" y="81.2" width="1.6" height="1.2" fill="#a03414" opacity="0.55" clip-path="url(#clipEb)"/>
<rect x="716.7" y="70.0" width="1.6" height="1.2" fill="#922c12" opacity="0.55" clip-path="url(#clipEb)"/>
<rect x="705.1" y="107.1" width="1.6" height="1.2" fill="#a03414" opacity="0.55" clip-path="url(#clipEb)"/>
<rect x="703.7" y="81.4" width="1.6" height="1.2" fill="#8c2810" opacity="0.55" clip-path="url(#clipEb)"/>
<rect x="746.1" y="90.0" width="1.6" height="1.2" fill="#a03414" opacity="0.55" clip-path="url(#clipEb)"/>
<rect x="690.2" y="119.8" width="1.6" height="1.2" fill="#b04a1c" opacity="0.55" clip-path="url(#clipEb)"/>
<rect x="717.4" y="97.0" width="1.6" height="1.2" fill="#8c2810" opacity="0.55" clip-path="url(#clipEb)"/>
<rect x="727.9" y="105.0" width="1.6" height="1.2" fill="#a03414" opacity="0.55" clip-path="url(#clipEb)"/>
<rect x="725.4" y="97.1" width="1.6" height="1.2" fill="#b04a1c" opacity="0.55" clip-path="url(#clipEb)"/>
<rect x="721.3" y="124.2" width="1.6" height="1.2" fill="#b04a1c" opacity="0.55" clip-path="url(#clipEb)"/>
<rect x="751.9" y="86.3" width="1.6" height="1.2" fill="#a03414" opacity="0.55" clip-path="url(#clipEb)"/>
<rect x="736.8" y="81.5" width="1.6" height="1.2" fill="#922c12" opacity="0.55" clip-path="url(#clipEb)"/>
<rect x="707.6" y="70.2" width="1.6" height="1.2" fill="#b04a1c" opacity="0.55" clip-path="url(#clipEb)"/>
<rect x="733.8" y="95.7" width="1.6" height="1.2" fill="#922c12" opacity="0.55" clip-path="url(#clipEb)"/>
<rect x="735.0" y="79.7" width="1.6" height="1.2" fill="#8c2810" opacity="0.55" clip-path="url(#clipEb)"/>
<rect x="703.6" y="106.6" width="1.6" height="1.2" fill="#8c2810" opacity="0.55" clip-path="url(#clipEb)"/>
<rect x="721.3" y="89.2" width="1.6" height="1.2" fill="#922c12" opacity="0.55" clip-path="url(#clipEb)"/>
<rect x="722.2" y="82.5" width="1.6" height="1.2" fill="#a43a16" opacity="0.55" clip-path="url(#clipEb)"/>
<rect x="726.5" y="105.0" width="1.6" height="1.2" fill="#8c2810" opacity="0.55" clip-path="url(#clipEb)"/>
<rect x="718.4" y="69.2" width="1.6" height="1.2" fill="#a43a16" opacity="0.55" clip-path="url(#clipEb)"/>
<rect x="722.2" y="65.9" width="1.6" height="1.2" fill="#922c12" opacity="0.55" clip-path="url(#clipEb)"/>
<rect x="747.5" y="92.5" width="1.6" height="1.2" fill="#922c12" opacity="0.55" clip-path="url(#clipEb)"/>
<rect x="699.9" y="90.1" width="1.6" height="1.2" fill="#b04a1c" opacity="0.55" clip-path="url(#clipEb)"/>
<rect x="696.4" y="75.5" width="1.6" height="1.2" fill="#8c2810" opacity="0.55" clip-path="url(#clipEb)"/>
<rect x="753.8" y="89.9" width="1.6" height="1.2" fill="#922c12" opacity="0.55" clip-path="url(#clipEb)"/>
<rect x="689.8" y="82.7" width="1.6" height="1.2" fill="#8c2810" opacity="0.55" clip-path="url(#clipEb)"/>
<rect x="699.2" y="110.3" width="1.6" height="1.2" fill="#8c2810" opacity="0.55" clip-path="url(#clipEb)"/>
<rect x="731.4" y="74.5" width="1.6" height="1.2" fill="#b04a1c" opacity="0.55" clip-path="url(#clipEb)"/>
<rect x="741.3" y="107.1" width="1.6" height="1.2" fill="#a43a16" opacity="0.55" clip-path="url(#clipEb)"/>
<rect x="685.9" y="105.1" width="1.6" height="1.2" fill="#a43a16" opacity="0.55" clip-path="url(#clipEb)"/>
<rect x="696.0" y="88.6" width="1.6" height="1.2" fill="#a43a16" opacity="0.55" clip-path="url(#clipEb)"/>
<rect x="704.1" y="109.1" width="1.6" height="1.2" fill="#8c2810" opacity="0.55" clip-path="url(#clipEb)"/>
<rect x="681.4" y="90.9" width="1.6" height="1.2" fill="#a03414" opacity="0.55" clip-path="url(#clipEb)"/>
<rect x="688.6" y="118.3" width="1.6" height="1.2" fill="#922c12" opacity="0.55" clip-path="url(#clipEb)"/>
<rect x="737.6" y="91.8" width="1.6" height="1.2" fill="#a03414" opacity="0.55" clip-path="url(#clipEb)"/>
<rect x="712.2" y="111.9" width="1.6" height="1.2" fill="#b04a1c" opacity="0.55" clip-path="url(#clipEb)"/>
<rect x="701.6" y="76.2" width="1.6" height="1.2" fill="#922c12" opacity="0.55" clip-path="url(#clipEb)"/>
<rect x="690.3" y="60.1" width="1.6" height="1.2" fill="#922c12" opacity="0.55" clip-path="url(#clipEb)"/>
<rect x="729.2" y="72.2" width="1.6" height="1.2" fill="#8c2810" opacity="0.55" clip-path="url(#clipEb)"/>
<rect x="718.4" y="121.9" width="1.6" height="1.2" fill="#b04a1c" opacity="0.55" clip-path="url(#clipEb)"/>
<rect x="698.6" y="100.1" width="1.6" height="1.2" fill="#a03414" opacity="0.55" clip-path="url(#clipEb)"/>
<rect x="737.7" y="119.7" width="1.6" height="1.2" fill="#8c2810" opacity="0.55" clip-path="url(#clipEb)"/>
<rect x="687.4" y="72.6" width="1.6" height="1.2" fill="#a43a16" opacity="0.55" clip-path="url(#clipEb)"/>
<rect x="716.8" y="107.5" width="1.6" height="1.2" fill="#8c2810" opacity="0.55" clip-path="url(#clipEb)"/>
<rect x="687.3" y="80.6" width="1.6" height="1.2" fill="#a03414" opacity="0.55" clip-path="url(#clipEb)"/>
<rect x="736.5" y="75.4" width="1.6" height="1.2" fill="#a43a16" opacity="0.55" clip-path="url(#clipEb)"/>
<rect x="728.0" y="117.3" width="1.6" height="1.2" fill="#8c2810" opacity="0.55" clip-path="url(#clipEb)"/>
<rect x="685.6" y="104.8" width="1.6" height="1.2" fill="#a03414" opacity="0.55" clip-path="url(#clipEb)"/>
<rect x="709.3" y="88.5" width="1.6" height="1.2" fill="#a03414" opacity="0.55" clip-path="url(#clipEb)"/>
<rect x="713.4" y="69.8" width="1.6" height="1.2" fill="#a43a16" opacity="0.55" clip-path="url(#clipEb)"/>
<rect x="683.6" y="103.7" width="1.6" height="1.2" fill="#922c12" opacity="0.55" clip-path="url(#clipEb)"/>
<rect x="691.7" y="60.2" width="1.6" height="1.2" fill="#a03414" opacity="0.55" clip-path="url(#clipEb)"/>
<rect x="736.1" y="113.9" width="1.6" height="1.2" fill="#b04a1c" opacity="0.55" clip-path="url(#clipEb)"/>
<rect x="686.1" y="111.7" width="1.6" height="1.2" fill="#922c12" opacity="0.55" clip-path="url(#clipEb)"/>
<rect x="678.9" y="93.9" width="1.6" height="1.2" fill="#b04a1c" opacity="0.55" clip-path="url(#clipEb)"/>
<rect x="728.2" y="87.6" width="1.6" height="1.2" fill="#8c2810" opacity="0.55" clip-path="url(#clipEb)"/>
<rect x="742.0" y="81.1" width="1.6" height="1.2" fill="#8c2810" opacity="0.55" clip-path="url(#clipEb)"/>
<rect x="690.6" y="84.3" width="1.6" height="1.2" fill="#922c12" opacity="0.55" clip-path="url(#clipEb)"/>
<rect x="703.3" y="96.4" width="1.6" height="1.2" fill="#a03414" opacity="0.55" clip-path="url(#clipEb)"/>
<rect x="731.3" y="74.3" width="1.6" height="1.2" fill="#a43a16" opacity="0.55" clip-path="url(#clipEb)"/>
<rect x="680.0" y="59.8" width="1.6" height="1.2" fill="#b04a1c" opacity="0.55" clip-path="url(#clipEb)"/>
<rect x="695.9" y="88.4" width="1.6" height="1.2" fill="#a03414" opacity="0.55" clip-path="url(#clipEb)"/>
<rect x="699.2" y="109.0" width="1.6" height="1.2" fill="#a03414" opacity="0.55" clip-path="url(#clipEb)"/>
<rect x="708.5" y="118.2" width="1.6" height="1.2" fill="#8c2810" opacity="0.55" clip-path="url(#clipEb)"/>
<rect x="719.7" y="86.6" width="1.6" height="1.2" fill="#b04a1c" opacity="0.55" clip-path="url(#clipEb)"/>
<rect x="742.0" y="69.9" width="1.6" height="1.2" fill="#922c12" opacity="0.55" clip-path="url(#clipEb)"/>
<rect x="718.0" y="64.7" width="1.6" height="1.2" fill="#a03414" opacity="0.55" clip-path="url(#clipEb)"/>
<rect x="753.1" y="67.9" width="1.6" height="1.2" fill="#a03414" opacity="0.55" clip-path="url(#clipEb)"/>
<rect x="688.1" y="125.0" width="1.6" height="1.2" fill="#8c2810" opacity="0.55" clip-path="url(#clipEb)"/>
<rect x="696.1" y="93.2" width="1.6" height="1.2" fill="#b04a1c" opacity="0.55" clip-path="url(#clipEb)"/>
<rect x="687.8" y="91.5" width="1.6" height="1.2" fill="#922c12" opacity="0.55" clip-path="url(#clipEb)"/>
<rect x="742.2" y="107.6" width="1.6" height="1.2" fill="#922c12" opacity="0.55" clip-path="url(#clipEb)"/>
<rect x="679.6" y="59.5" width="1.6" height="1.2" fill="#a03414" opacity="0.55" clip-path="url(#clipEb)"/>
<rect x="678.4" y="105.5" width="1.6" height="1.2" fill="#922c12" opacity="0.55" clip-path="url(#clipEb)"/>
<rect x="750.5" y="61.2" width="1.6" height="1.2" fill="#b04a1c" opacity="0.55" clip-path="url(#clipEb)"/>
<rect x="702.4" y="89.7" width="1.6" height="1.2" fill="#b04a1c" opacity="0.55" clip-path="url(#clipEb)"/>
<rect x="740.3" y="111.7" width="1.6" height="1.2" fill="#b04a1c" opacity="0.55" clip-path="url(#clipEb)"/>
<rect x="728.1" y="63.9" width="1.6" height="1.2" fill="#a43a16" opacity="0.55" clip-path="url(#clipEb)"/>
<rect x="687.1" y="103.6" width="1.6" height="1.2" fill="#8c2810" opacity="0.55" clip-path="url(#clipEb)"/>
<rect x="684.7" y="107.9" width="1.6" height="1.2" fill="#a03414" opacity="0.55" clip-path="url(#clipEb)"/>
<rect x="737.9" y="106.4" width="1.6" height="1.2" fill="#8c2810" opacity="0.55" clip-path="url(#clipEb)"/>
<rect x="728.4" y="63.5" width="1.6" height="1.2" fill="#b04a1c" opacity="0.55" clip-path="url(#clipEb)"/>
<rect x="719.0" y="122.5" width="1.6" height="1.2" fill="#a43a16" opacity="0.55" clip-path="url(#clipEb)"/>
<rect x="717.7" y="82.3" width="1.6" height="1.2" fill="#922c12" opacity="0.55" clip-path="url(#clipEb)"/>
<rect x="752.1" y="86.3" width="1.6" height="1.2" fill="#b04a1c" opacity="0.55" clip-path="url(#clipEb)"/>
<rect x="722.8" y="84.2" width="1.6" height="1.2" fill="#922c12" opacity="0.55" clip-path="url(#clipEb)"/>
<rect x="705.5" y="120.8" width="1.6" height="1.2" fill="#b04a1c" opacity="0.55" clip-path="url(#clipEb)"/>
<rect x="702.4" y="107.5" width="1.6" height="1.2" fill="#b04a1c" opacity="0.55" clip-path="url(#clipEb)"/>
<rect x="740.9" y="108.1" width="1.6" height="1.2" fill="#8c2810" opacity="0.55" clip-path="url(#clipEb)"/>
<rect x="706.6" y="101.6" width="1.6" height="1.2" fill="#922c12" opacity="0.55" clip-path="url(#clipEb)"/>
<rect x="754.5" y="89.9" width="1.6" height="1.2" fill="#8c2810" opacity="0.55" clip-path="url(#clipEb)"/>
<rect x="735.6" y="98.2" width="1.6" height="1.2" fill="#8c2810" opacity="0.55" clip-path="url(#clipEb)"/>
<rect x="757.8" y="61.3" width="1.6" height="1.2" fill="#922c12" opacity="0.55" clip-path="url(#clipEb)"/>
<rect x="697.3" y="70.2" width="1.6" height="1.2" fill="#a43a16" opacity="0.55" clip-path="url(#clipEb)"/>
<rect x="730.3" y="119.2" width="1.6" height="1.2" fill="#922c12" opacity="0.55" clip-path="url(#clipEb)"/>
<rect x="698.4" y="117.2" width="1.6" height="1.2" fill="#a03414" opacity="0.55" clip-path="url(#clipEb)"/>
<rect x="724.2" y="83.3" width="1.6" height="1.2" fill="#a43a16" opacity="0.55" clip-path="url(#clipEb)"/>
<rect x="707.2" y="112.7" width="1.6" height="1.2" fill="#922c12" opacity="0.55" clip-path="url(#clipEb)"/>
<rect x="707.1" y="106.6" width="1.6" height="1.2" fill="#b04a1c" opacity="0.55" clip-path="url(#clipEb)"/>
<rect x="720.1" y="67.2" width="1.6" height="1.2" fill="#8c2810" opacity="0.55" clip-path="url(#clipEb)"/>
<rect x="739.3" y="60.1" width="1.6" height="1.2" fill="#922c12" opacity="0.55" clip-path="url(#clipEb)"/>
<rect x="736.2" y="65.0" width="1.6" height="1.2" fill="#922c12" opacity="0.55" clip-path="url(#clipEb)"/>
<rect x="716.3" y="83.4" width="1.6" height="1.2" fill="#a03414" opacity="0.55" clip-path="url(#clipEb)"/>
<rect x="722.7" y="99.1" width="1.6" height="1.2" fill="#922c12" opacity="0.55" clip-path="url(#clipEb)"/>
<rect x="709.6" y="101.3" width="1.6" height="1.2" fill="#8c2810" opacity="0.55" clip-path="url(#clipEb)"/>
<rect x="751.2" y="71.0" width="1.6" height="1.2" fill="#a43a16" opacity="0.55" clip-path="url(#clipEb)"/>
<rect x="756.4" y="67.2" width="1.6" height="1.2" fill="#a03414" opacity="0.55" clip-path="url(#clipEb)"/>
<rect x="750.0" y="66.2" width="1.6" height="1.2" fill="#a03414" opacity="0.55" clip-path="url(#clipEb)"/>
<rect x="695.2" y="119.5" width="1.6" height="1.2" fill="#a03414" opacity="0.55" clip-path="url(#clipEb)"/>
<rect x="746.4" y="118.7" width="1.6" height="1.2" fill="#922c12" opacity="0.55" clip-path="url(#clipEb)"/>
<rect x="757.4" y="68.6" width="1.6" height="1.2" fill="#922c12" opacity="0.55" clip-path="url(#clipEb)"/>
<rect x="717.8" y="100.0" width="1.6" height="1.2" fill="#a03414" opacity="0.55" clip-path="url(#clipEb)"/>
<rect x="752.3" y="75.0" width="1.6" height="1.2" fill="#a43a16" opacity="0.55" clip-path="url(#clipEb)"/>
<rect x="725.3" y="81.0" width="1.6" height="1.2" fill="#a03414" opacity="0.55" clip-path="url(#clipEb)"/>
<rect x="708.8" y="123.4" width="1.6" height="1.2" fill="#b04a1c" opacity="0.55" clip-path="url(#clipEb)"/>
<rect x="693.9" y="71.9" width="1.6" height="1.2" fill="#922c12" opacity="0.55" clip-path="url(#clipEb)"/>
<rect x="697.5" y="72.8" width="1.6" height="1.2" fill="#b04a1c" opacity="0.55" clip-path="url(#clipEb)"/>
<rect x="696.3" y="118.4" width="1.6" height="1.2" fill="#b04a1c" opacity="0.55" clip-path="url(#clipEb)"/>
<rect x="722.7" y="109.9" width="1.6" height="1.2" fill="#a03414" opacity="0.55" clip-path="url(#clipEb)"/>
<rect x="694.6" y="106.9" width="1.6" height="1.2" fill="#a43a16" opacity="0.55" clip-path="url(#clipEb)"/>
<rect x="718.6" y="78.0" width="1.6" height="1.2" fill="#8c2810" opacity="0.55" clip-path="url(#clipEb)"/>
<rect x="752.7" y="108.5" width="1.6" height="1.2" fill="#a03414" opacity="0.55" clip-path="url(#clipEb)"/>
<rect x="683.7" y="74.8" width="1.6" height="1.2" fill="#8c2810" opacity="0.55" clip-path="url(#clipEb)"/>
<rect x="701.3" y="81.1" width="1.6" height="1.2" fill="#8c2810" opacity="0.55" clip-path="url(#clipEb)"/>
<rect x="750.4" y="119.2" width="1.6" height="1.2" fill="#a03414" opacity="0.55" clip-path="url(#clipEb)"/>
<rect x="740.5" y="88.4" width="1.6" height="1.2" fill="#b04a1c" opacity="0.55" clip-path="url(#clipEb)"/>
<rect x="682.5" y="118.6" width="1.6" height="1.2" fill="#b04a1c" opacity="0.55" clip-path="url(#clipEb)"/>
<rect x="724.3" y="113.5" width="1.6" height="1.2" fill="#a03414" opacity="0.55" clip-path="url(#clipEb)"/>
<rect x="694.0" y="119.8" width="1.6" height="1.2" fill="#b04a1c" opacity="0.55" clip-path="url(#clipEb)"/>
<rect x="705.9" y="63.9" width="1.6" height="1.2" fill="#922c12" opacity="0.55" clip-path="url(#clipEb)"/>
<rect x="749.9" y="84.7" width="1.6" height="1.2" fill="#b04a1c" opacity="0.55" clip-path="url(#clipEb)"/>
<rect x="741.6" y="110.2" width="1.6" height="1.2" fill="#8c2810" opacity="0.55" clip-path="url(#clipEb)"/>
<rect x="698.1" y="66.3" width="1.6" height="1.2" fill="#a03414" opacity="0.55" clip-path="url(#clipEb)"/>
<rect x="687.8" y="69.6" width="1.6" height="1.2" fill="#b04a1c" opacity="0.55" clip-path="url(#clipEb)"/>
<rect x="705.5" y="69.4" width="1.6" height="1.2" fill="#b04a1c" opacity="0.55" clip-path="url(#clipEb)"/>
<rect x="681.8" y="110.2" width="1.6" height="1.2" fill="#a03414" opacity="0.55" clip-path="url(#clipEb)"/>
<rect x="721.5" y="85.3" width="1.6" height="1.2" fill="#b04a1c" opacity="0.55" clip-path="url(#clipEb)"/>
<rect x="722.5" y="59.3" width="1.6" height="1.2" fill="#922c12" opacity="0.55" clip-path="url(#clipEb)"/>
<rect x="740.3" y="87.3" width="1.6" height="1.2" fill="#8c2810" opacity="0.55" clip-path="url(#clipEb)"/>
<rect x="716.6" y="66.1" width="1.6" height="1.2" fill="#8c2810" opacity="0.55" clip-path="url(#clipEb)"/>
<rect x="707.6" y="115.2" width="1.6" height="1.2" fill="#b04a1c" opacity="0.55" clip-path="url(#clipEb)"/>
<rect x="708.6" y="92.5" width="1.6" height="1.2" fill="#922c12" opacity="0.55" clip-path="url(#clipEb)"/>
<rect x="708.0" y="82.2" width="1.6" height="1.2" fill="#b04a1c" opacity="0.55" clip-path="url(#clipEb)"/>
<rect x="736.5" y="120.6" width="1.6" height="1.2" fill="#b04a1c" opacity="0.55" clip-path="url(#clipEb)"/>
<rect x="716.3" y="91.2" width="1.6" height="1.2" fill="#922c12" opacity="0.55" clip-path="url(#clipEb)"/>
<rect x="678.8" y="63.0" width="1.6" height="1.2" fill="#b04a1c" opacity="0.55" clip-path="url(#clipEb)"/>
<rect x="692.9" y="123.8" width="1.6" height="1.2" fill="#a43a16" opacity="0.55" clip-path="url(#clipEb)"/>
<rect x="730.8" y="69.6" width="1.6" height="1.2" fill="#b04a1c" opacity="0.55" clip-path="url(#clipEb)"/>
<rect x="703.1" y="82.3" width="1.6" height="1.2" fill="#a43a16" opacity="0.55" clip-path="url(#clipEb)"/>
<rect x="745.1" y="114.6" width="1.6" height="1.2" fill="#a43a16" opacity="0.55" clip-path="url(#clipEb)"/>
<rect x="756.4" y="61.6" width="1.6" height="1.2" fill="#922c12" opacity="0.55" clip-path="url(#clipEb)"/>
<rect x="691.2" y="100.9" width="1.6" height="1.2" fill="#a03414" opacity="0.55" clip-path="url(#clipEb)"/>
<rect x="714.1" y="107.9" width="1.6" height="1.2" fill="#a43a16" opacity="0.55" clip-path="url(#clipEb)"/>
<rect x="757.9" y="103.3" width="1.6" height="1.2" fill="#a03414" opacity="0.55" clip-path="url(#clipEb)"/>
<rect x="737.3" y="65.3" width="1.6" height="1.2" fill="#a43a16" opacity="0.55" clip-path="url(#clipEb)"/>
<rect x="731.3" y="71.5" width="1.6" height="1.2" fill="#a43a16" opacity="0.55" clip-path="url(#clipEb)"/>
<rect x="700.4" y="102.4" width="1.6" height="1.2" fill="#a43a16" opacity="0.55" clip-path="url(#clipEb)"/>
<rect x="742.0" y="61.3" width="1.6" height="1.2" fill="#922c12" opacity="0.55" clip-path="url(#clipEb)"/>
<rect x="681.0" y="92.2" width="1.6" height="1.2" fill="#8c2810" opacity="0.55" clip-path="url(#clipEb)"/>
<rect x="704.1" y="87.8" width="1.6" height="1.2" fill="#a03414" opacity="0.55" clip-path="url(#clipEb)"/>
<rect x="702.3" y="79.6" width="1.6" height="1.2" fill="#a43a16" opacity="0.55" clip-path="url(#clipEb)"/>
<rect x="746.8" y="105.0" width="1.6" height="1.2" fill="#a43a16" opacity="0.55" clip-path="url(#clipEb)"/>
<rect x="695.4" y="97.3" width="1.6" height="1.2" fill="#8c2810" opacity="0.55" clip-path="url(#clipEb)"/>
<rect x="734.1" y="81.4" width="1.6" height="1.2" fill="#a03414" opacity="0.55" clip-path="url(#clipEb)"/>
<rect x="719.8" y="102.8" width="1.6" height="1.2" fill="#8c2810" opacity="0.55" clip-path="url(#clipEb)"/>
<rect x="727.6" y="119.3" width="1.6" height="1.2" fill="#b04a1c" opacity="0.55" clip-path="url(#clipEb)"/>
<rect x="746.8" y="76.9" width="1.6" height="1.2" fill="#8c2810" opacity="0.55" clip-path="url(#clipEb)"/>
<rect x="738.7" y="94.5" width="1.6" height="1.2" fill="#b04a1c" opacity="0.55" clip-path="url(#clipEb)"/>
<rect x="713.0" y="84.1" width="1.6" height="1.2" fill="#a03414" opacity="0.55" clip-path="url(#clipEb)"/>
<rect x="750.6" y="93.9" width="1.6" height="1.2" fill="#b04a1c" opacity="0.55" clip-path="url(#clipEb)"/>
<rect x="704.9" y="109.3" width="1.6" height="1.2" fill="#8c2810" opacity="0.55" clip-path="url(#clipEb)"/>
<rect x="701.7" y="62.9" width="1.6" height="1.2" fill="#922c12" opacity="0.55" clip-path="url(#clipEb)"/>
<rect x="736.4" y="97.8" width="1.6" height="1.2" fill="#922c12" opacity="0.55" clip-path="url(#clipEb)"/>
<rect x="755.2" y="92.2" width="1.6" height="1.2" fill="#8c2810" opacity="0.55" clip-path="url(#clipEb)"/>
<rect x="751.7" y="99.9" width="1.6" height="1.2" fill="#a43a16" opacity="0.55" clip-path="url(#clipEb)"/>
<rect x="726.1" y="82.4" width="1.6" height="1.2" fill="#a43a16" opacity="0.55" clip-path="url(#clipEb)"/>
<rect x="730.0" y="88.7" width="1.6" height="1.2" fill="#a03414" opacity="0.55" clip-path="url(#clipEb)"/>
<rect x="698.1" y="117.6" width="1.6" height="1.2" fill="#a03414" opacity="0.55" clip-path="url(#clipEb)"/>
<rect x="719.8" y="90.9" width="1.6" height="1.2" fill="#8c2810" opacity="0.55" clip-path="url(#clipEb)"/>
<rect x="745.8" y="124.9" width="1.6" height="1.2" fill="#a43a16" opacity="0.55" clip-path="url(#clipEb)"/>
<rect x="745.9" y="62.9" width="1.6" height="1.2" fill="#922c12" opacity="0.55" clip-path="url(#clipEb)"/>
<rect x="740.6" y="84.5" width="1.6" height="1.2" fill="#8c2810" opacity="0.55" clip-path="url(#clipEb)"/>
<rect x="694.2" y="75.6" width="1.6" height="1.2" fill="#8c2810" opacity="0.55" clip-path="url(#clipEb)"/>
<rect x="754.8" y="118.8" width="1.6" height="1.2" fill="#b04a1c" opacity="0.55" clip-path="url(#clipEb)"/>
<rect x="678.0" y="69.9" width="1.6" height="1.2" fill="#8c2810" opacity="0.55" clip-path="url(#clipEb)"/>
<rect x="728.0" y="73.9" width="1.6" height="1.2" fill="#a03414" opacity="0.55" clip-path="url(#clipEb)"/>
<rect x="687.5" y="82.6" width="1.6" height="1.2" fill="#8c2810" opacity="0.55" clip-path="url(#clipEb)"/>
<rect x="743.0" y="103.0" width="1.6" height="1.2" fill="#a43a16" opacity="0.55" clip-path="url(#clipEb)"/>
<rect x="704.0" y="78.2" width="1.6" height="1.2" fill="#a03414" opacity="0.55" clip-path="url(#clipEb)"/>
<rect x="681.6" y="110.9" width="1.6" height="1.2" fill="#b04a1c" opacity="0.55" clip-path="url(#clipEb)"/>
<rect x="740.6" y="70.0" width="1.6" height="1.2" fill="#922c12" opacity="0.55" clip-path="url(#clipEb)"/>
<rect x="724.8" y="91.3" width="1.6" height="1.2" fill="#a03414" opacity="0.55" clip-path="url(#clipEb)"/>
<rect x="716.1" y="74.1" width="1.6" height="1.2" fill="#8c2810" opacity="0.55" clip-path="url(#clipEb)"/>
<rect x="722.2" y="82.4" width="1.6" height="1.2" fill="#a03414" opacity="0.55" clip-path="url(#clipEb)"/>
<rect x="683.9" y="113.1" width="1.6" height="1.2" fill="#8c2810" opacity="0.55" clip-path="url(#clipEb)"/>
<rect x="681.0" y="68.6" width="1.6" height="1.2" fill="#a43a16" opacity="0.55" clip-path="url(#clipEb)"/>
<rect x="691.7" y="82.4" width="1.6" height="1.2" fill="#8c2810" opacity="0.55" clip-path="url(#clipEb)"/>
<rect x="716.1" y="92.1" width="1.6" height="1.2" fill="#a03414" opacity="0.55" clip-path="url(#clipEb)"/>
<rect x="683.0" y="108.3" width="1.6" height="1.2" fill="#8c2810" opacity="0.55" clip-path="url(#clipEb)"/>
<rect x="732.3" y="79.4" width="1.6" height="1.2" fill="#a03414" opacity="0.55" clip-path="url(#clipEb)"/>
<rect x="700.9" y="74.7" width="1.6" height="1.2" fill="#b04a1c" opacity="0.55" clip-path="url(#clipEb)"/>
<rect x="724.4" y="68.0" width="1.6" height="1.2" fill="#922c12" opacity="0.55" clip-path="url(#clipEb)"/>
<rect x="731.6" y="85.1" width="1.6" height="1.2" fill="#922c12" opacity="0.55" clip-path="url(#clipEb)"/>
<rect x="751.7" y="114.4" width="1.6" height="1.2" fill="#a03414" opacity="0.55" clip-path="url(#clipEb)"/>
<rect x="684.5" y="119.5" width="1.6" height="1.2" fill="#922c12" opacity="0.55" clip-path="url(#clipEb)"/>
<rect x="702.4" y="66.3" width="1.6" height="1.2" fill="#8c2810" opacity="0.55" clip-path="url(#clipEb)"/>
<rect x="755.1" y="111.5" width="1.6" height="1.2" fill="#922c12" opacity="0.55" clip-path="url(#clipEb)"/>
<rect x="737.5" y="84.5" width="1.6" height="1.2" fill="#922c12" opacity="0.55" clip-path="url(#clipEb)"/>
<rect x="738.8" y="104.0" width="1.6" height="1.2" fill="#922c12" opacity="0.55" clip-path="url(#clipEb)"/>
<rect x="681.4" y="75.8" width="1.6" height="1.2" fill="#b04a1c" opacity="0.55" clip-path="url(#clipEb)"/>
<rect x="692.7" y="118.8" width="1.6" height="1.2" fill="#b04a1c" opacity="0.55" clip-path="url(#clipEb)"/>
<rect x="748.3" y="107.6" width="1.6" height="1.2" fill="#8c2810" opacity="0.55" clip-path="url(#clipEb)"/>
<rect x="733.7" y="81.9" width="1.6" height="1.2" fill="#a03414" opacity="0.55" clip-path="url(#clipEb)"/>
<rect x="696.6" y="121.7" width="1.6" height="1.2" fill="#922c12" opacity="0.55" clip-path="url(#clipEb)"/>
<rect x="707.6" y="81.8" width="1.6" height="1.2" fill="#a03414" opacity="0.55" clip-path="url(#clipEb)"/>
<rect x="690.7" y="82.3" width="1.6" height="1.2" fill="#a43a16" opacity="0.55" clip-path="url(#clipEb)"/>
<rect x="697.6" y="68.5" width="1.6" height="1.2" fill="#b04a1c" opacity="0.55" clip-path="url(#clipEb)"/>
<rect x="693.6" y="96.2" width="1.6" height="1.2" fill="#922c12" opacity="0.55" clip-path="url(#clipEb)"/>
<rect x="756.4" y="108.9" width="1.6" height="1.2" fill="#a03414" opacity="0.55" clip-path="url(#clipEb)"/>
<rect x="724.9" y="116.4" width="1.6" height="1.2" fill="#8c2810" opacity="0.55" clip-path="url(#clipEb)"/>
<rect x="738.1" y="85.1" width="1.6" height="1.2" fill="#b04a1c" opacity="0.55" clip-path="url(#clipEb)"/>
<rect x="757.3" y="108.9" width="1.6" height="1.2" fill="#922c12" opacity="0.55" clip-path="url(#clipEb)"/>
<rect x="685.4" y="83.3" width="1.6" height="1.2" fill="#a43a16" opacity="0.55" clip-path="url(#clipEb)"/>
<rect x="694.9" y="108.7" width="1.6" height="1.2" fill="#a03414" opacity="0.55" clip-path="url(#clipEb)"/>
<rect x="707.0" y="111.1" width="1.6" height="1.2" fill="#b04a1c" opacity="0.55" clip-path="url(#clipEb)"/>
<rect x="702.2" y="118.6" width="1.6" height="1.2" fill="#922c12" opacity="0.55" clip-path="url(#clipEb)"/>
<rect x="729.6" y="109.8" width="1.6" height="1.2" fill="#8c2810" opacity="0.55" clip-path="url(#clipEb)"/>
<rect x="729.4" y="92.6" width="1.6" height="1.2" fill="#b04a1c" opacity="0.55" clip-path="url(#clipEb)"/>
<rect x="756.9" y="79.6" width="1.6" height="1.2" fill="#a03414" opacity="0.55" clip-path="url(#clipEb)"/>
<rect x="738.7" y="76.6" width="1.6" height="1.2" fill="#8c2810" opacity="0.55" clip-path="url(#clipEb)"/>
<rect x="693.5" y="104.5" width="1.6" height="1.2" fill="#922c12" opacity="0.55" clip-path="url(#clipEb)"/>
<rect x="730.2" y="72.3" width="1.6" height="1.2" fill="#8c2810" opacity="0.55" clip-path="url(#clipEb)"/>
<rect x="719.9" y="83.0" width="1.6" height="1.2" fill="#a03414" opacity="0.55" clip-path="url(#clipEb)"/>
<rect x="699.1" y="74.5" width="1.6" height="1.2" fill="#a43a16" opacity="0.55" clip-path="url(#clipEb)"/>
<rect x="756.6" y="65.4" width="1.6" height="1.2" fill="#a03414" opacity="0.55" clip-path="url(#clipEb)"/>
<rect x="754.6" y="59.3" width="1.6" height="1.2" fill="#a03414" opacity="0.55" clip-path="url(#clipEb)"/>
<rect x="711.0" y="114.8" width="1.6" height="1.2" fill="#a03414" opacity="0.55" clip-path="url(#clipEb)"/>
<rect x="721.7" y="120.9" width="1.6" height="1.2" fill="#b04a1c" opacity="0.55" clip-path="url(#clipEb)"/>
<rect x="727.5" y="66.4" width="1.6" height="1.2" fill="#a03414" opacity="0.55" clip-path="url(#clipEb)"/>
<rect x="688.6" y="119.1" width="1.6" height="1.2" fill="#8c2810" opacity="0.55" clip-path="url(#clipEb)"/>
<rect x="742.4" y="89.7" width="1.6" height="1.2" fill="#922c12" opacity="0.55" clip-path="url(#clipEb)"/>
<rect x="698.9" y="74.1" width="1.6" height="1.2" fill="#a03414" opacity="0.55" clip-path="url(#clipEb)"/>
<rect x="739.1" y="108.9" width="1.6" height="1.2" fill="#a43a16" opacity="0.55" clip-path="url(#clipEb)"/>
<rect x="693.5" y="81.8" width="1.6" height="1.2" fill="#a03414" opacity="0.55" clip-path="url(#clipEb)"/>
<rect x="731.8" y="116.4" width="1.6" height="1.2" fill="#a03414" opacity="0.55" clip-path="url(#clipEb)"/>
<rect x="711.7" y="117.4" width="1.6" height="1.2" fill="#a03414" opacity="0.55" clip-path="url(#clipEb)"/>
<rect x="709.3" y="85.5" width="1.6" height="1.2" fill="#b04a1c" opacity="0.55" clip-path="url(#clipEb)"/>
<rect x="706.4" y="118.1" width="1.6" height="1.2" fill="#922c12" opacity="0.55" clip-path="url(#clipEb)"/>
<rect x="746.5" y="89.1" width="1.6" height="1.2" fill="#8c2810" opacity="0.55" clip-path="url(#clipEb)"/>
<rect x="683.7" y="75.0" width="1.6" height="1.2" fill="#a43a16" opacity="0.55" clip-path="url(#clipEb)"/>
<rect x="699.2" y="62.6" width="1.6" height="1.2" fill="#8c2810" opacity="0.55" clip-path="url(#clipEb)"/>
<rect x="725.2" y="81.3" width="1.6" height="1.2" fill="#8c2810" opacity="0.55" clip-path="url(#clipEb)"/>
<rect x="724.3" y="100.0" width="1.6" height="1.2" fill="#b04a1c" opacity="0.55" clip-path="url(#clipEb)"/>
<rect x="747.2" y="61.3" width="1.6" height="1.2" fill="#a43a16" opacity="0.55" clip-path="url(#clipEb)"/>
<rect x="755.7" y="58.1" width="1.6" height="1.2" fill="#8c2810" opacity="0.55" clip-path="url(#clipEb)"/>
<rect x="728.0" y="101.8" width="1.6" height="1.2" fill="#a43a16" opacity="0.55" clip-path="url(#clipEb)"/>
<rect x="694.0" y="69.3" width="1.6" height="1.2" fill="#a43a16" opacity="0.55" clip-path="url(#clipEb)"/>
<rect x="691.5" y="123.5" width="1.6" height="1.2" fill="#922c12" opacity="0.55" clip-path="url(#clipEb)"/>
<rect x="679.9" y="65.0" width="1.6" height="1.2" fill="#b04a1c" opacity="0.55" clip-path="url(#clipEb)"/>
<rect x="694.6" y="110.6" width="1.6" height="1.2" fill="#922c12" opacity="0.55" clip-path="url(#clipEb)"/>
<rect x="740.4" y="65.3" width="1.6" height="1.2" fill="#a43a16" opacity="0.55" clip-path="url(#clipEb)"/>
<rect x="734.3" y="95.6" width="1.6" height="1.2" fill="#b04a1c" opacity="0.55" clip-path="url(#clipEb)"/>
<rect x="731.9" y="114.8" width="1.6" height="1.2" fill="#8c2810" opacity="0.55" clip-path="url(#clipEb)"/>
<rect x="713.6" y="63.8" width="1.6" height="1.2" fill="#b04a1c" opacity="0.55" clip-path="url(#clipEb)"/>
<rect x="683.8" y="90.6" width="1.6" height="1.2" fill="#8c2810" opacity="0.55" clip-path="url(#clipEb)"/>
<rect x="689.3" y="73.1" width="1.6" height="1.2" fill="#922c12" opacity="0.55" clip-path="url(#clipEb)"/>
<rect x="700.2" y="117.4" width="1.6" height="1.2" fill="#a43a16" opacity="0.55" clip-path="url(#clipEb)"/>
<rect x="748.7" y="73.5" width="1.6" height="1.2" fill="#b04a1c" opacity="0.55" clip-path="url(#clipEb)"/>
<rect x="743.8" y="81.7" width="1.6" height="1.2" fill="#a43a16" opacity="0.55" clip-path="url(#clipEb)"/>
<rect x="729.2" y="68.7" width="1.6" height="1.2" fill="#a03414" opacity="0.55" clip-path="url(#clipEb)"/>
<rect x="680.1" y="65.4" width="1.6" height="1.2" fill="#8c2810" opacity="0.55" clip-path="url(#clipEb)"/>
<rect x="748.2" y="115.4" width="1.6" height="1.2" fill="#8c2810" opacity="0.55" clip-path="url(#clipEb)"/>
<rect x="722.4" y="116.6" width="1.6" height="1.2" fill="#8c2810" opacity="0.55" clip-path="url(#clipEb)"/>
<rect x="722.6" y="86.5" width="1.6" height="1.2" fill="#a43a16" opacity="0.55" clip-path="url(#clipEb)"/>
<rect x="701.6" y="87.3" width="1.6" height="1.2" fill="#a03414" opacity="0.55" clip-path="url(#clipEb)"/>
<rect x="714.9" y="66.1" width="1.6" height="1.2" fill="#a03414" opacity="0.55" clip-path="url(#clipEb)"/>
<rect x="728.1" y="98.6" width="1.6" height="1.2" fill="#8c2810" opacity="0.55" clip-path="url(#clipEb)"/>
<rect x="696.1" y="117.4" width="1.6" height="1.2" fill="#a03414" opacity="0.55" clip-path="url(#clipEb)"/>
<rect x="699.4" y="66.4" width="1.6" height="1.2" fill="#922c12" opacity="0.55" clip-path="url(#clipEb)"/>
<rect x="680.1" y="83.9" width="1.6" height="1.2" fill="#8c2810" opacity="0.55" clip-path="url(#clipEb)"/>
<rect x="721.5" y="116.1" width="1.6" height="1.2" fill="#8c2810" opacity="0.55" clip-path="url(#clipEb)"/>
<rect x="685.1" y="120.2" width="1.6" height="1.2" fill="#a43a16" opacity="0.55" clip-path="url(#clipEb)"/>
<rect x="742.9" y="69.8" width="1.6" height="1.2" fill="#b04a1c" opacity="0.55" clip-path="url(#clipEb)"/>
<rect x="743.5" y="112.8" width="1.6" height="1.2" fill="#b04a1c" opacity="0.55" clip-path="url(#clipEb)"/>
<rect x="715.6" y="104.8" width="1.6" height="1.2" fill="#b04a1c" opacity="0.55" clip-path="url(#clipEb)"/>
<rect x="684.1" y="118.7" width="1.6" height="1.2" fill="#b04a1c" opacity="0.55" clip-path="url(#clipEb)"/>
<rect x="725.4" y="62.1" width="1.6" height="1.2" fill="#b04a1c" opacity="0.55" clip-path="url(#clipEb)"/>
<rect x="703.3" y="62.6" width="1.6" height="1.2" fill="#b04a1c" opacity="0.55" clip-path="url(#clipEb)"/>
<rect x="687.6" y="115.7" width="1.6" height="1.2" fill="#a03414" opacity="0.55" clip-path="url(#clipEb)"/>
<rect x="757.1" y="100.3" width="1.6" height="1.2" fill="#922c12" opacity="0.55" clip-path="url(#clipEb)"/>
<rect x="735.2" y="83.8" width="1.6" height="1.2" fill="#b04a1c" opacity="0.55" clip-path="url(#clipEb)"/>
<rect x="705.5" y="114.6" width="1.6" height="1.2" fill="#b04a1c" opacity="0.55" clip-path="url(#clipEb)"/>
<rect x="694.3" y="107.6" width="1.6" height="1.2" fill="#b04a1c" opacity="0.55" clip-path="url(#clipEb)"/>
<rect x="740.6" y="78.1" width="1.6" height="1.2" fill="#922c12" opacity="0.55" clip-path="url(#clipEb)"/>
<rect x="690.4" y="75.2" width="1.6" height="1.2" fill="#a03414" opacity="0.55" clip-path="url(#clipEb)"/>
<rect x="695.1" y="103.0" width="1.6" height="1.2" fill="#a43a16" opacity="0.55" clip-path="url(#clipEb)"/>
<polygon points="667.0,96.0 669.5,90.0 673.0,85.0 675.0,87.0 672.5,97.0 670.0,100.0" fill="#f6e040" opacity="0.9"/>
<rect x="675.9" y="110.5" width="1.6" height="1.4" fill="#d88020" opacity="0.8" clip-path="url(#clipEb)"/>
<rect x="687.1" y="101.7" width="1.6" height="1.4" fill="#d88020" opacity="0.8" clip-path="url(#clipEb)"/>
<rect x="684.3" y="99.9" width="1.6" height="1.4" fill="#e8a020" opacity="0.8" clip-path="url(#clipEb)"/>
<rect x="672.1" y="101.5" width="1.6" height="1.4" fill="#f4e050" opacity="0.8" clip-path="url(#clipEb)"/>
<rect x="677.7" y="99.1" width="1.6" height="1.4" fill="#c85a14" opacity="0.8" clip-path="url(#clipEb)"/>
<rect x="685.3" y="104.9" width="1.6" height="1.4" fill="#e8a020" opacity="0.8" clip-path="url(#clipEb)"/>
<rect x="670.5" y="100.0" width="1.6" height="1.4" fill="#d88020" opacity="0.8" clip-path="url(#clipEb)"/>
<rect x="667.1" y="80.6" width="1.6" height="1.4" fill="#f4e050" opacity="0.8" clip-path="url(#clipEb)"/>
<rect x="675.6" y="100.8" width="1.6" height="1.4" fill="#d88020" opacity="0.8" clip-path="url(#clipEb)"/>
<rect x="685.6" y="102.2" width="1.6" height="1.4" fill="#d88020" opacity="0.8" clip-path="url(#clipEb)"/>
<rect x="679.9" y="111.4" width="1.6" height="1.4" fill="#d88020" opacity="0.8" clip-path="url(#clipEb)"/>
<rect x="675.8" y="110.5" width="1.6" height="1.4" fill="#f0d030" opacity="0.8" clip-path="url(#clipEb)"/>
<rect x="683.4" y="97.0" width="1.6" height="1.4" fill="#c85a14" opacity="0.8" clip-path="url(#clipEb)"/>
<rect x="687.2" y="77.0" width="1.6" height="1.4" fill="#f4e050" opacity="0.8" clip-path="url(#clipEb)"/>
<rect x="681.0" y="83.9" width="1.6" height="1.4" fill="#f4e050" opacity="0.8" clip-path="url(#clipEb)"/>
<rect x="673.8" y="111.9" width="1.6" height="1.4" fill="#f4e050" opacity="0.8" clip-path="url(#clipEb)"/>
<rect x="686.3" y="101.0" width="1.6" height="1.4" fill="#f4e050" opacity="0.8" clip-path="url(#clipEb)"/>
<rect x="670.7" y="78.1" width="1.6" height="1.4" fill="#f4e050" opacity="0.8" clip-path="url(#clipEb)"/>
<rect x="683.5" y="82.0" width="1.6" height="1.4" fill="#f4e050" opacity="0.8" clip-path="url(#clipEb)"/>
<rect x="673.9" y="102.0" width="1.6" height="1.4" fill="#d88020" opacity="0.8" clip-path="url(#clipEb)"/>
<rect x="689.6" y="99.8" width="1.6" height="1.4" fill="#c85a14" opacity="0.8" clip-path="url(#clipEb)"/>
<rect x="668.7" y="96.5" width="1.6" height="1.4" fill="#e8a020" opacity="0.8" clip-path="url(#clipEb)"/>
<rect x="683.6" y="75.6" width="1.6" height="1.4" fill="#f4e050" opacity="0.8" clip-path="url(#clipEb)"/>
<rect x="679.0" y="97.3" width="1.6" height="1.4" fill="#f4e050" opacity="0.8" clip-path="url(#clipEb)"/>
<rect x="686.8" y="90.4" width="1.6" height="1.4" fill="#f0d030" opacity="0.8" clip-path="url(#clipEb)"/>
<rect x="670.5" y="74.2" width="1.6" height="1.4" fill="#f4e050" opacity="0.8" clip-path="url(#clipEb)"/>
<rect x="677.4" y="83.3" width="1.6" height="1.4" fill="#e8a020" opacity="0.8" clip-path="url(#clipEb)"/>
<rect x="681.8" y="78.3" width="1.6" height="1.4" fill="#d88020" opacity="0.8" clip-path="url(#clipEb)"/>
<rect x="675.1" y="98.8" width="1.6" height="1.4" fill="#c85a14" opacity="0.8" clip-path="url(#clipEb)"/>
<rect x="681.4" y="85.8" width="1.6" height="1.4" fill="#f0d030" opacity="0.8" clip-path="url(#clipEb)"/>
<rect x="681.9" y="96.3" width="1.6" height="1.4" fill="#f4e050" opacity="0.8" clip-path="url(#clipEb)"/>
<rect x="674.6" y="74.1" width="1.6" height="1.4" fill="#f4e050" opacity="0.8" clip-path="url(#clipEb)"/>
<rect x="683.4" y="111.2" width="1.6" height="1.4" fill="#f0d030" opacity="0.8" clip-path="url(#clipEb)"/>
<rect x="687.2" y="109.8" width="1.6" height="1.4" fill="#f0d030" opacity="0.8" clip-path="url(#clipEb)"/>
<rect x="668.9" y="105.1" width="1.6" height="1.4" fill="#d88020" opacity="0.8" clip-path="url(#clipEb)"/>
<rect x="677.9" y="92.2" width="1.6" height="1.4" fill="#f4e050" opacity="0.8" clip-path="url(#clipEb)"/>
<rect x="667.2" y="106.3" width="1.6" height="1.4" fill="#c85a14" opacity="0.8" clip-path="url(#clipEb)"/>
<rect x="677.4" y="110.8" width="1.6" height="1.4" fill="#d88020" opacity="0.8" clip-path="url(#clipEb)"/>
<rect x="670.1" y="89.3" width="1.6" height="1.4" fill="#e8a020" opacity="0.8" clip-path="url(#clipEb)"/>
<rect x="677.0" y="93.0" width="1.6" height="1.4" fill="#f0d030" opacity="0.8" clip-path="url(#clipEb)"/>
<rect x="701.6" y="71.3" width="22" height="1.1" fill="#a04a30"/>
<rect x="736.8" y="71.3" width="18" height="1.1" fill="#a04a30"/>
<ellipse cx="683.9" cy="86.2" rx="1.9" ry="4.1" fill="#024a61"/>
<polygon points="674.8,106.2 686.0,105.4 694.0,106.6 686.0,108.8 675.0,109.4" fill="#024a61"/>
<polygon points="671.6,100.8 682.7,101.6 680.0,104.0 672.0,103.6" fill="#024a61"/>
<polygon points="678.0,110.0 686.0,113.5 690.0,116.5 682.0,114.5" fill="#024a61"/>
<ellipse cx="669.5" cy="90.5" rx="2" ry="2.2" fill="#ffffff"/>
<ellipse cx="681.5" cy="78" rx="1.6" ry="1.1" fill="#ffffff"/>
<rect x="667.3" y="97.1" width="1.4" height="1.3" fill="#1a5a60"/>
<rect x="672.7" y="102.7" width="1.4" height="1.3" fill="#054763"/>
<rect x="689.5" y="95.3" width="1.4" height="1.3" fill="#1a5a60"/>
<rect x="694.4" y="103.2" width="1.4" height="1.3" fill="#054763"/>
<rect x="685.3" y="113.0" width="1.4" height="1.3" fill="#054763"/>
<rect x="670.4" y="116.6" width="1.4" height="1.3" fill="#054763"/>
<rect x="670.3" y="119.6" width="1.4" height="1.3" fill="#054763"/>
<rect x="676.6" y="103.0" width="1.4" height="1.3" fill="#1a5a60"/>
<rect x="693.1" y="98.8" width="1.4" height="1.3" fill="#1a5a60"/>
<rect x="675.6" y="98.8" width="1.4" height="1.3" fill="#1a5a60"/>
<rect x="667.9" y="119.9" width="1.4" height="1.3" fill="#054763"/>
<rect x="682.2" y="110.9" width="1.4" height="1.3" fill="#6a6a20"/>
<rect x="674.0" y="96.7" width="1.4" height="1.3" fill="#1a5a60"/>
<rect x="670.9" y="116.2" width="1.4" height="1.3" fill="#6a6a20"/>
<rect x="672.5" y="102.5" width="1.4" height="1.3" fill="#6a6a20"/>
<rect x="671.3" y="98.6" width="1.4" height="1.3" fill="#6a6a20"/>
<rect x="687.7" y="115.3" width="1.4" height="1.3" fill="#6a6a20"/>
<rect x="668.4" y="120.4" width="1.4" height="1.3" fill="#1a5a60"/>
<rect x="671.1" y="111.1" width="1.4" height="1.3" fill="#054763"/>
<rect x="689.6" y="114.4" width="1.4" height="1.3" fill="#1a5a60"/>
<rect x="685.7" y="98.7" width="1.4" height="1.3" fill="#6a6a20"/>
<rect x="665.3" y="115.3" width="1.4" height="1.3" fill="#054763"/>
<rect x="666.5" y="106.3" width="1.4" height="1.3" fill="#054763"/>
<rect x="675.3" y="102.2" width="1.4" height="1.3" fill="#6a6a20"/>
<rect x="678.7" y="120.9" width="1.4" height="1.3" fill="#1a5a60"/>
<rect x="691.6" y="113.1" width="1.4" height="1.3" fill="#1a5a60"/>
<rect x="686.6" y="101.0" width="1.4" height="1.3" fill="#054763"/>
<rect x="672.0" y="106.1" width="1.4" height="1.3" fill="#6a6a20"/>
<rect x="671.1" y="118.6" width="1.4" height="1.3" fill="#054763"/>
<rect x="690.1" y="106.9" width="1.4" height="1.3" fill="#1a5a60"/>
<rect x="680.8" y="112.2" width="1.4" height="1.3" fill="#054763"/>
<rect x="685.6" y="95.4" width="1.4" height="1.3" fill="#1a5a60"/>
<rect x="690.8" y="101.4" width="1.4" height="1.3" fill="#1a5a60"/>
<rect x="674.4" y="118.2" width="1.4" height="1.3" fill="#1a5a60"/>
<rect x="683.7" y="112.3" width="1.4" height="1.3" fill="#1a5a60"/>
<rect x="674.8" y="120.6" width="1.4" height="1.3" fill="#6a6a20"/>
<rect x="681.7" y="99.8" width="1.4" height="1.3" fill="#054763"/>
<rect x="692.2" y="105.5" width="1.4" height="1.3" fill="#6a6a20"/>
<rect x="667.5" y="105.2" width="1.4" height="1.3" fill="#6a6a20"/>
<rect x="668.8" y="109.4" width="1.4" height="1.3" fill="#1a5a60"/>
<rect x="691.2" y="107.9" width="1.4" height="1.3" fill="#054763"/>
<rect x="678.6" y="117.2" width="1.4" height="1.3" fill="#054763"/>
<rect x="671.5" y="104.8" width="1.4" height="1.3" fill="#6a6a20"/>
<rect x="667.4" y="94.5" width="1.4" height="1.3" fill="#6a6a20"/>
<rect x="678.2" y="115.3" width="1.4" height="1.3" fill="#1a5a60"/>
<rect x="758.2" y="70.4" width="1.2" height="1.2" fill="#2a5a6a"/>
<rect x="757.5" y="75.6" width="1.2" height="1.2" fill="#2a5a6a"/>
<rect x="757.0" y="87.8" width="1.2" height="1.2" fill="#2a5a6a"/>
<rect x="758.9" y="85.6" width="1.2" height="1.2" fill="#2a5a6a"/>
<rect x="756.0" y="114.0" width="1.2" height="1.2" fill="#2a5a6a"/>
<rect x="757.7" y="78.4" width="1.2" height="1.2" fill="#2a5a6a"/>
<rect x="758.9" y="70.2" width="1.2" height="1.2" fill="#2a5a6a"/>
<rect x="758.5" y="61.2" width="1.2" height="1.2" fill="#2a5a6a"/>
<rect x="758.2" y="71.3" width="1.2" height="1.2" fill="#2a5a6a"/>
<rect x="758.4" y="99.5" width="1.2" height="1.2" fill="#2a5a6a"/>
<rect x="756.2" y="60.6" width="1.2" height="1.2" fill="#2a5a6a"/>
<rect x="757.2" y="104.8" width="1.2" height="1.2" fill="#2a5a6a"/>
<rect x="757.6" y="90.7" width="1.2" height="1.2" fill="#2a5a6a"/>
<rect x="756.3" y="109.9" width="1.2" height="1.2" fill="#2a5a6a"/>
<polygon points="591.0,76.8 595.0,75.9 604.0,76.3 611.0,77.6 614.5,79.2 609.0,80.9 600.0,80.3 594.0,78.8" fill="#a83414"/>
<polygon points="614.0,79.6 620.0,79.0 630.0,80.0 638.0,81.0 640.5,82.2 632.0,83.6 622.0,84.0 616.0,82.2" fill="#a43214"/>
<ellipse cx="629" cy="93.2" rx="3" ry="1.1" fill="#c8702a"/>
<rect x="666" y="133" width="1" height="1" fill="#2a6050"/>
<rect x="669" y="136" width="1" height="1" fill="#2a6050"/>
<rect x="672" y="139" width="1" height="1" fill="#2a6050"/>
<rect x="675" y="141" width="1" height="1" fill="#2a6050"/>
<rect x="678" y="144" width="1" height="1" fill="#2a6050"/>
<rect x="681" y="146" width="1" height="1" fill="#2a6050"/>
<rect x="684" y="149" width="1" height="1" fill="#2a6050"/>
<rect x="687" y="151" width="1" height="1" fill="#2a6050"/>
<rect x="663" y="131" width="1" height="1" fill="#2a6050"/>
<rect x="660.5" y="128" width="1" height="1" fill="#2a6050"/>
</g>
<rect x="596.2" y="8.9" width="142.7" height="9.4" fill="url(#cbE)" stroke="#7a9aa8" stroke-width="0.6"/>
<g>
<path d="M49.0,348.3 L82.6,348.3" stroke="#000" stroke-width="1.9" fill="none" stroke-linejoin="round" stroke-linecap="butt"/>
<path d="M82.80,341.80 C83.17,342.33 84.07,343.60 85.00,345.00 C85.93,346.40 87.23,349.87 88.40,350.20 C89.57,350.53 90.78,348.00 92.00,347.00 C93.22,346.00 94.53,344.28 95.70,344.20 C96.87,344.12 97.70,345.57 99.00,346.50 C100.30,347.43 102.33,349.72 103.50,349.80 C104.67,349.88 104.97,347.93 106.00,347.00 C107.03,346.07 108.43,343.87 109.70,344.20 C110.97,344.53 112.38,348.10 113.60,349.00 C114.82,349.90 116.07,349.03 117.00,349.60 C117.93,350.17 118.47,350.72 119.20,352.40 C119.93,354.08 120.57,360.27 121.40,359.70 C122.23,359.13 123.17,350.90 124.20,349.00 C125.23,347.10 125.92,348.47 127.60,348.30 C129.28,348.13 133.18,348.05 134.30,348.00" stroke="#222" stroke-width="1.5" fill="none" stroke-linejoin="round" stroke-linecap="butt"/>
<path d="M81.8,342.2h2.4M83.0,341.0v2.4" stroke="#3a3a3a" stroke-width="1.0"/>
<path d="M83.0,343.4h2.4M84.2,342.2v2.4" stroke="#3a3a3a" stroke-width="1.0"/>
<path d="M84.3,345.8h2.4M85.5,344.6v2.4" stroke="#3a3a3a" stroke-width="1.0"/>
<path d="M85.6,347.9h2.4M86.8,346.7v2.4" stroke="#3a3a3a" stroke-width="1.0"/>
<path d="M86.9,349.9h2.4M88.1,348.7v2.4" stroke="#3a3a3a" stroke-width="1.0"/>
<path d="M88.2,349.6h2.4M89.4,348.4v2.4" stroke="#3a3a3a" stroke-width="1.0"/>
<path d="M89.5,348.1h2.4M90.7,346.9v2.4" stroke="#3a3a3a" stroke-width="1.0"/>
<path d="M90.8,346.6h2.4M92.0,345.4v2.4" stroke="#3a3a3a" stroke-width="1.0"/>
<path d="M92.0,345.7h2.4M93.2,344.5v2.4" stroke="#3a3a3a" stroke-width="1.0"/>
<path d="M93.3,344.8h2.4M94.5,343.6v2.4" stroke="#3a3a3a" stroke-width="1.0"/>
<path d="M94.6,344.1h2.4M95.8,342.9v2.4" stroke="#3a3a3a" stroke-width="1.0"/>
<path d="M95.8,344.7h2.4M97.0,343.5v2.4" stroke="#3a3a3a" stroke-width="1.0"/>
<path d="M97.1,345.6h2.4M98.3,344.4v2.4" stroke="#3a3a3a" stroke-width="1.0"/>
<path d="M98.5,346.6h2.4M99.7,345.4v2.4" stroke="#3a3a3a" stroke-width="1.0"/>
<path d="M99.7,347.7h2.4M100.9,346.5v2.4" stroke="#3a3a3a" stroke-width="1.0"/>
<path d="M100.9,348.8h2.4M102.1,347.6v2.4" stroke="#3a3a3a" stroke-width="1.0"/>
<path d="M102.0,349.4h2.4M103.2,348.2v2.4" stroke="#3a3a3a" stroke-width="1.0"/>
<path d="M103.0,348.7h2.4M104.2,347.5v2.4" stroke="#3a3a3a" stroke-width="1.0"/>
<path d="M104.5,347.2h2.4M105.7,346.0v2.4" stroke="#3a3a3a" stroke-width="1.0"/>
<path d="M105.9,346.1h2.4M107.1,344.9v2.4" stroke="#3a3a3a" stroke-width="1.0"/>
<path d="M107.2,344.8h2.4M108.4,343.6v2.4" stroke="#3a3a3a" stroke-width="1.0"/>
<path d="M108.1,344.6h2.4M109.3,343.4v2.4" stroke="#3a3a3a" stroke-width="1.0"/>
<path d="M109.3,345.0h2.4M110.5,343.8v2.4" stroke="#3a3a3a" stroke-width="1.0"/>
<path d="M110.6,347.0h2.4M111.8,345.8v2.4" stroke="#3a3a3a" stroke-width="1.0"/>
<path d="M111.9,348.3h2.4M113.1,347.1v2.4" stroke="#3a3a3a" stroke-width="1.0"/>
<path d="M113.0,349.3h2.4M114.2,348.1v2.4" stroke="#3a3a3a" stroke-width="1.0"/>
<path d="M114.3,349.7h2.4M115.5,348.5v2.4" stroke="#3a3a3a" stroke-width="1.0"/>
<path d="M115.4,349.1h2.4M116.6,347.9v2.4" stroke="#3a3a3a" stroke-width="1.0"/>
<path d="M116.7,350.4h2.4M117.9,349.2v2.4" stroke="#3a3a3a" stroke-width="1.0"/>
<path d="M117.8,351.7h2.4M119.0,350.5v2.4" stroke="#3a3a3a" stroke-width="1.0"/>
<path d="M119.3,356.7h2.4M120.5,355.5v2.4" stroke="#3a3a3a" stroke-width="1.0"/>
<path d="M120.6,357.8h2.4M121.8,356.6v2.4" stroke="#3a3a3a" stroke-width="1.0"/>
<path d="M122.1,352.6h2.4M123.3,351.4v2.4" stroke="#3a3a3a" stroke-width="1.0"/>
<path d="M123.0,348.5h2.4M124.2,347.3v2.4" stroke="#3a3a3a" stroke-width="1.0"/>
<path d="M124.2,348.6h2.4M125.4,347.4v2.4" stroke="#3a3a3a" stroke-width="1.0"/>
<path d="M125.5,348.8h2.4M126.7,347.6v2.4" stroke="#3a3a3a" stroke-width="1.0"/>
<path d="M126.6,347.9h2.4M127.8,346.7v2.4" stroke="#3a3a3a" stroke-width="1.0"/>
<path d="M127.9,347.9h2.4M129.1,346.7v2.4" stroke="#3a3a3a" stroke-width="1.0"/>
<path d="M129.3,347.8h2.4M130.5,346.6v2.4" stroke="#3a3a3a" stroke-width="1.0"/>
<path d="M130.3,348.2h2.4M131.5,347.0v2.4" stroke="#3a3a3a" stroke-width="1.0"/>
<path d="M131.6,348.2h2.4M132.8,347.0v2.4" stroke="#3a3a3a" stroke-width="1.0"/>
<path d="M132.6,347.7h2.4M133.8,346.5v2.4" stroke="#3a3a3a" stroke-width="1.0"/>
<path d="M134.3,348.3 L152.7,348.3" stroke="#000" stroke-width="1.9" fill="none" stroke-linejoin="round" stroke-linecap="butt"/>
<path d="M81.5,341.8h2.6M82.8,340.5v2.6" stroke="#5e5e5e" stroke-width="1.0"/>
<path d="M131.9,341.8h2.6M133.2,340.5v2.6" stroke="#5e5e5e" stroke-width="1.0"/>
<path d="M128.0,353.0h2.6M129.3,351.7v2.6" stroke="#5e5e5e" stroke-width="1.0"/>
<path d="M133.0,353.5h2.6M134.3,352.2v2.6" stroke="#5e5e5e" stroke-width="1.0"/>
<path d="M132.4,360.2h2.6M133.7,358.9v2.6" stroke="#5e5e5e" stroke-width="1.0"/>
<path d="M122.4,353.9h2.6M123.7,352.6v2.6" stroke="#5e5e5e" stroke-width="1.0"/>
<path d="M150.9,331.7h2.6M152.2,330.4v2.6" stroke="#5e5e5e" stroke-width="1.0"/>
<path d="M152.0,330.0h2.6M153.3,328.7v2.6" stroke="#5e5e5e" stroke-width="1.0"/>
<path d="M156.3,329.5h2.6M157.6,328.2v2.6" stroke="#5e5e5e" stroke-width="1.0"/>
<path d="M156.5,360.6h2.6M157.8,359.3v2.6" stroke="#5e5e5e" stroke-width="1.0"/>
<path d="M153.1,348.5h2.6M154.4,347.2v2.6" stroke="#5e5e5e" stroke-width="1.0"/>
<path d="M153.9,279.6h2.6M155.2,278.3v2.6" stroke="#5e5e5e" stroke-width="1.0"/>
<path d="M154.2,293.6h2.6M155.5,292.3v2.6" stroke="#5e5e5e" stroke-width="1.0"/>
<path d="M153.4,296.5h2.6M154.7,295.2v2.6" stroke="#5e5e5e" stroke-width="1.0"/>
<path d="M155.2,296.8h2.6M156.5,295.5v2.6" stroke="#5e5e5e" stroke-width="1.0"/>
<path d="M154.6,299.5h2.6M155.9,298.2v2.6" stroke="#5e5e5e" stroke-width="1.0"/>
<path d="M155.7,307.6h2.6M157.0,306.3v2.6" stroke="#5e5e5e" stroke-width="1.0"/>
<path d="M150.8,332.7h2.6M152.1,331.4v2.6" stroke="#5e5e5e" stroke-width="1.0"/>
<path d="M159.2,393.0h2.6M160.5,391.7v2.6" stroke="#5e5e5e" stroke-width="1.0"/>
<path d="M159.6,395.0h2.6M160.9,393.7v2.6" stroke="#5e5e5e" stroke-width="1.0"/>
<path d="M158.7,405.9h2.6M160.0,404.6v2.6" stroke="#5e5e5e" stroke-width="1.0"/>
<path d="M158.7,413.0h2.6M160.0,411.7v2.6" stroke="#5e5e5e" stroke-width="1.0"/>
<path d="M158.1,426.6h2.6M159.4,425.3v2.6" stroke="#5e5e5e" stroke-width="1.0"/>
<path d="M157.4,433.9h2.6M158.7,432.6v2.6" stroke="#5e5e5e" stroke-width="1.0"/>
<path d="M162.5,379.8h2.6M163.8,378.5v2.6" stroke="#5e5e5e" stroke-width="1.0"/>
<path d="M166.9,375.4h2.6M168.2,374.1v2.6" stroke="#5e5e5e" stroke-width="1.0"/>
<path d="M171.3,384.2h2.6M172.6,382.9v2.6" stroke="#5e5e5e" stroke-width="1.0"/>
<path d="M173.5,385.3h2.6M174.8,384.0v2.6" stroke="#5e5e5e" stroke-width="1.0"/>
<path d="M169.1,378.7h2.6M170.4,377.4v2.6" stroke="#5e5e5e" stroke-width="1.0"/>
<path d="M119.2,356.0h2.6M120.5,354.7v2.6" stroke="#5e5e5e" stroke-width="1.0"/>
<path d="M124.7,351.0h2.6M126.0,349.7v2.6" stroke="#5e5e5e" stroke-width="1.0"/>
<path d="M129.7,350.0h2.6M131.0,348.7v2.6" stroke="#5e5e5e" stroke-width="1.0"/>
<path d="M162.20,386.40 C162.83,386.40 164.82,387.32 166.00,386.40 C167.18,385.48 168.02,382.00 169.30,380.90 C170.58,379.80 172.42,380.53 173.70,379.80 C174.98,379.07 176.07,378.53 177.00,376.50 C177.93,374.47 178.92,369.08 179.30,367.60" stroke="#555" stroke-width="1.0" fill="none" stroke-linejoin="round" stroke-linecap="butt"/>
<path d="M179.30,367.60 C179.85,367.05 181.50,365.77 182.60,364.30 C183.70,362.83 184.80,360.27 185.90,358.80 C187.00,357.33 187.55,356.87 189.20,355.50 C190.85,354.13 193.40,352.00 195.80,350.60 C198.20,349.20 201.02,348.05 203.60,347.10 C206.18,346.15 208.55,345.32 211.30,344.90 C214.05,344.48 216.98,344.67 220.10,344.60 C223.22,344.53 224.85,344.57 230.00,344.50 C235.15,344.43 247.50,344.25 251.00,344.20" stroke="#222" stroke-width="1.5" fill="none" stroke-linejoin="round" stroke-linecap="butt"/>
<path d="M161.1,386.7h2.4M162.3,385.5v2.4" stroke="#3a3a3a" stroke-width="1.0"/>
<path d="M162.4,386.4h2.4M163.6,385.2v2.4" stroke="#3a3a3a" stroke-width="1.0"/>
<path d="M163.6,386.6h2.4M164.8,385.4v2.4" stroke="#3a3a3a" stroke-width="1.0"/>
<path d="M164.6,386.2h2.4M165.8,385.0v2.4" stroke="#3a3a3a" stroke-width="1.0"/>
<path d="M165.7,385.2h2.4M166.9,384.0v2.4" stroke="#3a3a3a" stroke-width="1.0"/>
<path d="M166.7,383.3h2.4M167.9,382.1v2.4" stroke="#3a3a3a" stroke-width="1.0"/>
<path d="M167.8,381.6h2.4M169.0,380.4v2.4" stroke="#3a3a3a" stroke-width="1.0"/>
<path d="M168.8,380.6h2.4M170.0,379.4v2.4" stroke="#3a3a3a" stroke-width="1.0"/>
<path d="M169.7,380.9h2.4M170.9,379.7v2.4" stroke="#3a3a3a" stroke-width="1.0"/>
<path d="M171.0,380.4h2.4M172.2,379.2v2.4" stroke="#3a3a3a" stroke-width="1.0"/>
<path d="M172.0,379.8h2.4M173.2,378.6v2.4" stroke="#3a3a3a" stroke-width="1.0"/>
<path d="M173.2,379.0h2.4M174.4,377.8v2.4" stroke="#3a3a3a" stroke-width="1.0"/>
<path d="M174.1,377.7h2.4M175.3,376.5v2.4" stroke="#3a3a3a" stroke-width="1.0"/>
<path d="M175.2,377.0h2.4M176.4,375.8v2.4" stroke="#3a3a3a" stroke-width="1.0"/>
<path d="M176.4,374.0h2.4M177.6,372.8v2.4" stroke="#3a3a3a" stroke-width="1.0"/>
<path d="M177.4,370.6h2.4M178.6,369.4v2.4" stroke="#3a3a3a" stroke-width="1.0"/>
<path d="M178.4,367.5h2.4M179.6,366.3v2.4" stroke="#3a3a3a" stroke-width="1.0"/>
<path d="M179.3,366.8h2.4M180.5,365.6v2.4" stroke="#3a3a3a" stroke-width="1.0"/>
<path d="M180.1,365.1h2.4M181.3,363.9v2.4" stroke="#3a3a3a" stroke-width="1.0"/>
<path d="M181.1,364.6h2.4M182.3,363.4v2.4" stroke="#3a3a3a" stroke-width="1.0"/>
<path d="M182.1,363.6h2.4M183.3,362.4v2.4" stroke="#3a3a3a" stroke-width="1.0"/>
<path d="M183.2,360.7h2.4M184.4,359.5v2.4" stroke="#3a3a3a" stroke-width="1.0"/>
<path d="M184.5,359.6h2.4M185.7,358.4v2.4" stroke="#3a3a3a" stroke-width="1.0"/>
<path d="M185.4,358.2h2.4M186.6,357.0v2.4" stroke="#3a3a3a" stroke-width="1.0"/>
<path d="M186.4,357.5h2.4M187.6,356.3v2.4" stroke="#3a3a3a" stroke-width="1.0"/>
<path d="M187.5,355.8h2.4M188.7,354.6v2.4" stroke="#3a3a3a" stroke-width="1.0"/>
<path d="M188.7,354.9h2.4M189.9,353.7v2.4" stroke="#3a3a3a" stroke-width="1.0"/>
<path d="M189.7,354.6h2.4M190.9,353.4v2.4" stroke="#3a3a3a" stroke-width="1.0"/>
<path d="M190.8,353.4h2.4M192.0,352.2v2.4" stroke="#3a3a3a" stroke-width="1.0"/>
<path d="M191.9,352.9h2.4M193.1,351.7v2.4" stroke="#3a3a3a" stroke-width="1.0"/>
<path d="M193.0,352.1h2.4M194.2,350.9v2.4" stroke="#3a3a3a" stroke-width="1.0"/>
<path d="M193.9,351.6h2.4M195.1,350.4v2.4" stroke="#3a3a3a" stroke-width="1.0"/>
<path d="M194.7,350.8h2.4M195.9,349.6v2.4" stroke="#3a3a3a" stroke-width="1.0"/>
<path d="M195.9,350.0h2.4M197.1,348.8v2.4" stroke="#3a3a3a" stroke-width="1.0"/>
<path d="M197.0,349.2h2.4M198.2,348.0v2.4" stroke="#3a3a3a" stroke-width="1.0"/>
<path d="M198.2,349.4h2.4M199.4,348.2v2.4" stroke="#3a3a3a" stroke-width="1.0"/>
<path d="M199.2,348.4h2.4M200.4,347.2v2.4" stroke="#3a3a3a" stroke-width="1.0"/>
<path d="M200.3,347.8h2.4M201.5,346.6v2.4" stroke="#3a3a3a" stroke-width="1.0"/>
<path d="M201.3,348.0h2.4M202.5,346.8v2.4" stroke="#3a3a3a" stroke-width="1.0"/>
<path d="M202.1,347.0h2.4M203.3,345.8v2.4" stroke="#3a3a3a" stroke-width="1.0"/>
<path d="M203.1,346.4h2.4M204.3,345.2v2.4" stroke="#3a3a3a" stroke-width="1.0"/>
<path d="M204.1,346.9h2.4M205.3,345.7v2.4" stroke="#3a3a3a" stroke-width="1.0"/>
<path d="M205.4,346.4h2.4M206.6,345.2v2.4" stroke="#3a3a3a" stroke-width="1.0"/>
<path d="M206.6,345.5h2.4M207.8,344.3v2.4" stroke="#3a3a3a" stroke-width="1.0"/>
<path d="M207.4,345.7h2.4M208.6,344.5v2.4" stroke="#3a3a3a" stroke-width="1.0"/>
<path d="M208.5,345.5h2.4M209.7,344.3v2.4" stroke="#3a3a3a" stroke-width="1.0"/>
<path d="M209.4,345.2h2.4M210.6,344.0v2.4" stroke="#3a3a3a" stroke-width="1.0"/>
<path d="M210.3,345.0h2.4M211.5,343.8v2.4" stroke="#3a3a3a" stroke-width="1.0"/>
<path d="M211.4,344.7h2.4M212.6,343.5v2.4" stroke="#3a3a3a" stroke-width="1.0"/>
<path d="M212.7,345.0h2.4M213.9,343.8v2.4" stroke="#3a3a3a" stroke-width="1.0"/>
<path d="M213.8,345.1h2.4M215.0,343.9v2.4" stroke="#3a3a3a" stroke-width="1.0"/>
<path d="M214.9,345.1h2.4M216.1,343.9v2.4" stroke="#3a3a3a" stroke-width="1.0"/>
<path d="M216.1,344.7h2.4M217.3,343.5v2.4" stroke="#3a3a3a" stroke-width="1.0"/>
<path d="M217.2,344.5h2.4M218.4,343.3v2.4" stroke="#3a3a3a" stroke-width="1.0"/>
<path d="M218.3,344.6h2.4M219.5,343.4v2.4" stroke="#3a3a3a" stroke-width="1.0"/>
<path d="M219.1,345.1h2.4M220.3,343.9v2.4" stroke="#3a3a3a" stroke-width="1.0"/>
<path d="M220.1,344.4h2.4M221.3,343.2v2.4" stroke="#3a3a3a" stroke-width="1.0"/>
<path d="M221.3,344.4h2.4M222.5,343.2v2.4" stroke="#3a3a3a" stroke-width="1.0"/>
<path d="M222.4,344.2h2.4M223.6,343.0v2.4" stroke="#3a3a3a" stroke-width="1.0"/>
<path d="M223.4,344.7h2.4M224.6,343.5v2.4" stroke="#3a3a3a" stroke-width="1.0"/>
<path d="M224.6,344.6h2.4M225.8,343.4v2.4" stroke="#3a3a3a" stroke-width="1.0"/>
<path d="M225.5,344.5h2.4M226.7,343.3v2.4" stroke="#3a3a3a" stroke-width="1.0"/>
<path d="M226.7,344.3h2.4M227.9,343.1v2.4" stroke="#3a3a3a" stroke-width="1.0"/>
<path d="M227.9,344.1h2.4M229.1,342.9v2.4" stroke="#3a3a3a" stroke-width="1.0"/>
<path d="M229.0,344.4h2.4M230.2,343.2v2.4" stroke="#3a3a3a" stroke-width="1.0"/>
<path d="M229.9,344.7h2.4M231.1,343.5v2.4" stroke="#3a3a3a" stroke-width="1.0"/>
<path d="M231.1,344.2h2.4M232.3,343.0v2.4" stroke="#3a3a3a" stroke-width="1.0"/>
<path d="M232.0,344.9h2.4M233.2,343.7v2.4" stroke="#3a3a3a" stroke-width="1.0"/>
<path d="M233.1,344.5h2.4M234.3,343.3v2.4" stroke="#3a3a3a" stroke-width="1.0"/>
<path d="M234.3,344.5h2.4M235.5,343.3v2.4" stroke="#3a3a3a" stroke-width="1.0"/>
<path d="M235.3,344.5h2.4M236.5,343.3v2.4" stroke="#3a3a3a" stroke-width="1.0"/>
<path d="M236.6,343.9h2.4M237.8,342.7v2.4" stroke="#3a3a3a" stroke-width="1.0"/>
<path d="M237.7,344.4h2.4M238.9,343.2v2.4" stroke="#3a3a3a" stroke-width="1.0"/>
<path d="M238.8,344.3h2.4M240.0,343.1v2.4" stroke="#3a3a3a" stroke-width="1.0"/>
<path d="M239.9,344.2h2.4M241.1,343.0v2.4" stroke="#3a3a3a" stroke-width="1.0"/>
<path d="M241.0,344.7h2.4M242.2,343.5v2.4" stroke="#3a3a3a" stroke-width="1.0"/>
<path d="M242.3,344.4h2.4M243.5,343.2v2.4" stroke="#3a3a3a" stroke-width="1.0"/>
<path d="M243.1,344.8h2.4M244.3,343.6v2.4" stroke="#3a3a3a" stroke-width="1.0"/>
<path d="M244.1,344.0h2.4M245.3,342.8v2.4" stroke="#3a3a3a" stroke-width="1.0"/>
<path d="M245.0,344.2h2.4M246.2,343.0v2.4" stroke="#3a3a3a" stroke-width="1.0"/>
<path d="M246.2,344.1h2.4M247.4,342.9v2.4" stroke="#3a3a3a" stroke-width="1.0"/>
<path d="M247.2,344.6h2.4M248.4,343.4v2.4" stroke="#3a3a3a" stroke-width="1.0"/>
<path d="M248.4,344.1h2.4M249.6,342.9v2.4" stroke="#3a3a3a" stroke-width="1.0"/>
<path d="M249.2,344.2h2.4M250.4,343.0v2.4" stroke="#3a3a3a" stroke-width="1.0"/>
<path d="M160.4,385.7h2.6M161.7,384.4v2.6" stroke="#5e5e5e" stroke-width="1.0"/>
<path d="M164.4,386.1h2.6M165.7,384.8v2.6" stroke="#5e5e5e" stroke-width="1.0"/>
<path d="M168.9,381.6h2.6M170.2,380.3v2.6" stroke="#5e5e5e" stroke-width="1.0"/>
<path d="M173.2,380.2h2.6M174.5,378.9v2.6" stroke="#5e5e5e" stroke-width="1.0"/>
<path d="M176.6,376.0h2.6M177.9,374.7v2.6" stroke="#5e5e5e" stroke-width="1.0"/>
<path d="M177.5,368.6h2.6M178.8,367.3v2.6" stroke="#5e5e5e" stroke-width="1.0"/>
<path d="M181.1,365.1h2.6M182.4,363.8v2.6" stroke="#5e5e5e" stroke-width="1.0"/>
<path d="M185.4,356.9h2.6M186.7,355.6v2.6" stroke="#5e5e5e" stroke-width="1.0"/>
<path d="M303.0,430.7 L336.5,430.7" stroke="#000" stroke-width="1.9" fill="none" stroke-linejoin="round" stroke-linecap="butt"/>
<path d="M335.90,421.10 C336.50,420.60 338.52,418.93 339.50,418.10 C340.48,417.27 340.62,416.70 341.80,416.10 C342.98,415.50 345.22,414.67 346.60,414.50 C347.98,414.33 348.92,414.70 350.10,415.10 C351.28,415.50 352.32,416.20 353.70,416.90 C355.08,417.60 357.22,418.90 358.40,419.30 C359.58,419.70 359.62,420.10 360.80,419.30 C361.98,418.50 364.12,415.10 365.50,414.50 C366.88,413.90 368.02,415.60 369.10,415.70 C370.18,415.80 371.02,414.90 372.00,415.10 C372.98,415.30 373.70,416.73 375.00,416.90 C376.30,417.07 378.22,415.80 379.80,416.10 C381.38,416.40 383.03,417.87 384.50,418.70 C385.97,419.53 387.92,420.70 388.60,421.10" stroke="#222" stroke-width="1.5" fill="none" stroke-linejoin="round" stroke-linecap="butt"/>
<path d="M334.8,421.0h2.4M336.0,419.8v2.4" stroke="#3a3a3a" stroke-width="1.0"/>
<path d="M336.0,419.6h2.4M337.2,418.4v2.4" stroke="#3a3a3a" stroke-width="1.0"/>
<path d="M337.0,419.5h2.4M338.2,418.3v2.4" stroke="#3a3a3a" stroke-width="1.0"/>
<path d="M338.2,417.9h2.4M339.4,416.7v2.4" stroke="#3a3a3a" stroke-width="1.0"/>
<path d="M339.4,417.4h2.4M340.6,416.2v2.4" stroke="#3a3a3a" stroke-width="1.0"/>
<path d="M340.7,415.7h2.4M341.9,414.5v2.4" stroke="#3a3a3a" stroke-width="1.0"/>
<path d="M341.9,416.0h2.4M343.1,414.8v2.4" stroke="#3a3a3a" stroke-width="1.0"/>
<path d="M343.1,415.5h2.4M344.3,414.3v2.4" stroke="#3a3a3a" stroke-width="1.0"/>
<path d="M344.5,414.8h2.4M345.7,413.6v2.4" stroke="#3a3a3a" stroke-width="1.0"/>
<path d="M345.8,414.8h2.4M347.0,413.6v2.4" stroke="#3a3a3a" stroke-width="1.0"/>
<path d="M347.0,415.1h2.4M348.2,413.9v2.4" stroke="#3a3a3a" stroke-width="1.0"/>
<path d="M347.9,415.3h2.4M349.1,414.1v2.4" stroke="#3a3a3a" stroke-width="1.0"/>
<path d="M349.0,415.6h2.4M350.2,414.4v2.4" stroke="#3a3a3a" stroke-width="1.0"/>
<path d="M350.1,415.8h2.4M351.3,414.6v2.4" stroke="#3a3a3a" stroke-width="1.0"/>
<path d="M351.2,416.4h2.4M352.4,415.2v2.4" stroke="#3a3a3a" stroke-width="1.0"/>
<path d="M352.3,416.6h2.4M353.5,415.4v2.4" stroke="#3a3a3a" stroke-width="1.0"/>
<path d="M353.5,417.1h2.4M354.7,415.9v2.4" stroke="#3a3a3a" stroke-width="1.0"/>
<path d="M354.5,417.4h2.4M355.7,416.2v2.4" stroke="#3a3a3a" stroke-width="1.0"/>
<path d="M355.6,418.8h2.4M356.8,417.6v2.4" stroke="#3a3a3a" stroke-width="1.0"/>
<path d="M357.0,419.3h2.4M358.2,418.1v2.4" stroke="#3a3a3a" stroke-width="1.0"/>
<path d="M358.1,419.6h2.4M359.3,418.4v2.4" stroke="#3a3a3a" stroke-width="1.0"/>
<path d="M359.2,419.6h2.4M360.4,418.4v2.4" stroke="#3a3a3a" stroke-width="1.0"/>
<path d="M360.3,418.1h2.4M361.5,416.9v2.4" stroke="#3a3a3a" stroke-width="1.0"/>
<path d="M361.4,417.7h2.4M362.6,416.5v2.4" stroke="#3a3a3a" stroke-width="1.0"/>
<path d="M362.4,416.6h2.4M363.6,415.4v2.4" stroke="#3a3a3a" stroke-width="1.0"/>
<path d="M363.7,414.7h2.4M364.9,413.5v2.4" stroke="#3a3a3a" stroke-width="1.0"/>
<path d="M364.8,414.7h2.4M366.0,413.5v2.4" stroke="#3a3a3a" stroke-width="1.0"/>
<path d="M366.2,414.7h2.4M367.4,413.5v2.4" stroke="#3a3a3a" stroke-width="1.0"/>
<path d="M367.5,415.8h2.4M368.7,414.6v2.4" stroke="#3a3a3a" stroke-width="1.0"/>
<path d="M368.5,416.0h2.4M369.7,414.8v2.4" stroke="#3a3a3a" stroke-width="1.0"/>
<path d="M369.9,414.9h2.4M371.1,413.7v2.4" stroke="#3a3a3a" stroke-width="1.0"/>
<path d="M371.4,415.2h2.4M372.6,414.0v2.4" stroke="#3a3a3a" stroke-width="1.0"/>
<path d="M372.7,416.6h2.4M373.9,415.4v2.4" stroke="#3a3a3a" stroke-width="1.0"/>
<path d="M373.7,416.5h2.4M374.9,415.3v2.4" stroke="#3a3a3a" stroke-width="1.0"/>
<path d="M374.9,416.6h2.4M376.1,415.4v2.4" stroke="#3a3a3a" stroke-width="1.0"/>
<path d="M376.4,416.6h2.4M377.6,415.4v2.4" stroke="#3a3a3a" stroke-width="1.0"/>
<path d="M377.3,416.2h2.4M378.5,415.0v2.4" stroke="#3a3a3a" stroke-width="1.0"/>
<path d="M378.4,415.9h2.4M379.6,414.7v2.4" stroke="#3a3a3a" stroke-width="1.0"/>
<path d="M379.7,417.1h2.4M380.9,415.9v2.4" stroke="#3a3a3a" stroke-width="1.0"/>
<path d="M381.0,417.8h2.4M382.2,416.6v2.4" stroke="#3a3a3a" stroke-width="1.0"/>
<path d="M382.3,418.1h2.4M383.5,416.9v2.4" stroke="#3a3a3a" stroke-width="1.0"/>
<path d="M383.6,419.2h2.4M384.8,418.0v2.4" stroke="#3a3a3a" stroke-width="1.0"/>
<path d="M385.0,419.6h2.4M386.2,418.4v2.4" stroke="#3a3a3a" stroke-width="1.0"/>
<path d="M386.2,420.3h2.4M387.4,419.1v2.4" stroke="#3a3a3a" stroke-width="1.0"/>
<path d="M388.6,430.6 L408.2,430.6" stroke="#000" stroke-width="1.9" fill="none" stroke-linejoin="round" stroke-linecap="butt"/>
<path d="M405.1,419.3h2.6M406.4,418.0v2.6" stroke="#5e5e5e" stroke-width="1.0"/>
<path d="M406.3,414.5h2.6M407.6,413.2v2.6" stroke="#5e5e5e" stroke-width="1.0"/>
<path d="M408.1,410.4h2.6M409.4,409.1v2.6" stroke="#5e5e5e" stroke-width="1.0"/>
<path d="M410.5,408.0h2.6M411.8,406.7v2.6" stroke="#5e5e5e" stroke-width="1.0"/>
<path d="M414.0,406.8h2.6M415.3,405.5v2.6" stroke="#5e5e5e" stroke-width="1.0"/>
<path d="M411.7,402.0h2.6M413.0,400.7v2.6" stroke="#5e5e5e" stroke-width="1.0"/>
<path d="M412.8,398.6h2.6M414.1,397.3v2.6" stroke="#5e5e5e" stroke-width="1.0"/>
<path d="M416.4,397.4h2.6M417.7,396.1v2.6" stroke="#5e5e5e" stroke-width="1.0"/>
<path d="M409.3,396.2h2.6M410.6,394.9v2.6" stroke="#5e5e5e" stroke-width="1.0"/>
<path d="M405.9,414.9h2.6M407.2,413.6v2.6" stroke="#5e5e5e" stroke-width="1.0"/>
<path d="M413.0,400.5h2.6M414.3,399.2v2.6" stroke="#5e5e5e" stroke-width="1.0"/>
<path d="M416.6,386.2h2.6M417.9,384.9v2.6" stroke="#5e5e5e" stroke-width="1.0"/>
<path d="M416.9,383.1h2.6M418.2,381.8v2.6" stroke="#808080" stroke-width="1.0"/>
<path d="M416.2,382.9h2.6M417.5,381.6v2.6" stroke="#707070" stroke-width="1.0"/>
<path d="M419.0,381.6h2.6M420.3,380.3v2.6" stroke="#808080" stroke-width="1.0"/>
<path d="M418.2,385.5h2.6M419.5,384.2v2.6" stroke="#808080" stroke-width="1.0"/>
<path d="M418.3,380.6h2.6M419.6,379.3v2.6" stroke="#808080" stroke-width="1.0"/>
<path d="M420.4,379.9h2.6M421.7,378.6v2.6" stroke="#808080" stroke-width="1.0"/>
<path d="M419.2,380.8h2.6M420.5,379.5v2.6" stroke="#808080" stroke-width="1.0"/>
<path d="M420.4,376.7h2.6M421.7,375.4v2.6" stroke="#707070" stroke-width="1.0"/>
<path d="M419.6,379.0h2.6M420.9,377.7v2.6" stroke="#5a5a5a" stroke-width="1.0"/>
<path d="M423.1,376.9h2.6M424.4,375.6v2.6" stroke="#707070" stroke-width="1.0"/>
<path d="M421.3,369.8h2.6M422.6,368.5v2.6" stroke="#808080" stroke-width="1.0"/>
<path d="M421.6,373.8h2.6M422.9,372.5v2.6" stroke="#808080" stroke-width="1.0"/>
<path d="M424.9,366.8h2.6M426.2,365.5v2.6" stroke="#707070" stroke-width="1.0"/>
<path d="M425.0,369.2h2.6M426.3,367.9v2.6" stroke="#808080" stroke-width="1.0"/>
<path d="M423.7,363.3h2.6M425.0,362.0v2.6" stroke="#707070" stroke-width="1.0"/>
<path d="M426.9,366.3h2.6M428.2,365.0v2.6" stroke="#707070" stroke-width="1.0"/>
<path d="M427.5,362.6h2.6M428.8,361.3v2.6" stroke="#5a5a5a" stroke-width="1.0"/>
<path d="M426.6,360.8h2.6M427.9,359.5v2.6" stroke="#808080" stroke-width="1.0"/>
<path d="M427.7,356.8h2.6M429.0,355.5v2.6" stroke="#707070" stroke-width="1.0"/>
<path d="M426.8,353.5h2.6M428.1,352.2v2.6" stroke="#707070" stroke-width="1.0"/>
<path d="M429.1,349.6h2.6M430.4,348.3v2.6" stroke="#5a5a5a" stroke-width="1.0"/>
<path d="M430.5,348.2h2.6M431.8,346.9v2.6" stroke="#707070" stroke-width="1.0"/>
<path d="M429.5,349.5h2.6M430.8,348.2v2.6" stroke="#707070" stroke-width="1.0"/>
<path d="M431.2,347.3h2.6M432.5,346.0v2.6" stroke="#808080" stroke-width="1.0"/>
<path d="M430.6,343.2h2.6M431.9,341.9v2.6" stroke="#707070" stroke-width="1.0"/>
<path d="M431.2,340.5h2.6M432.5,339.2v2.6" stroke="#808080" stroke-width="1.0"/>
<path d="M433.3,334.7h2.6M434.6,333.4v2.6" stroke="#808080" stroke-width="1.0"/>
<path d="M432.1,334.2h2.6M433.4,332.9v2.6" stroke="#5a5a5a" stroke-width="1.0"/>
<path d="M432.6,332.2h2.6M433.9,330.9v2.6" stroke="#5a5a5a" stroke-width="1.0"/>
<path d="M433.3,331.4h2.6M434.6,330.1v2.6" stroke="#707070" stroke-width="1.0"/>
<path d="M436.1,327.4h2.6M437.4,326.1v2.6" stroke="#808080" stroke-width="1.0"/>
<path d="M435.6,323.4h2.6M436.9,322.1v2.6" stroke="#5a5a5a" stroke-width="1.0"/>
<path d="M435.3,321.6h2.6M436.6,320.3v2.6" stroke="#5a5a5a" stroke-width="1.0"/>
<path d="M437.0,323.6h2.6M438.3,322.3v2.6" stroke="#808080" stroke-width="1.0"/>
<path d="M438.4,321.3h2.6M439.7,320.0v2.6" stroke="#5a5a5a" stroke-width="1.0"/>
<path d="M437.3,313.7h2.6M438.6,312.4v2.6" stroke="#5a5a5a" stroke-width="1.0"/>
<path d="M437.5,315.0h2.6M438.8,313.7v2.6" stroke="#808080" stroke-width="1.0"/>
<path d="M437.5,309.9h2.6M438.8,308.6v2.6" stroke="#5a5a5a" stroke-width="1.0"/>
<path d="M440.9,311.5h2.6M442.2,310.2v2.6" stroke="#707070" stroke-width="1.0"/>
<path d="M441.6,304.4h2.6M442.9,303.1v2.6" stroke="#808080" stroke-width="1.0"/>
<path d="M439.9,301.6h2.6M441.2,300.3v2.6" stroke="#707070" stroke-width="1.0"/>
<path d="M441.0,302.8h2.6M442.3,301.5v2.6" stroke="#707070" stroke-width="1.0"/>
<path d="M443.8,295.1h2.6M445.1,293.8v2.6" stroke="#808080" stroke-width="1.0"/>
<path d="M442.4,297.1h2.6M443.7,295.8v2.6" stroke="#5a5a5a" stroke-width="1.0"/>
<path d="M444.1,290.8h2.6M445.4,289.5v2.6" stroke="#707070" stroke-width="1.0"/>
<path d="M443.1,290.6h2.6M444.4,289.3v2.6" stroke="#808080" stroke-width="1.0"/>
<path d="M445.3,286.9h2.6M446.6,285.6v2.6" stroke="#808080" stroke-width="1.0"/>
<path d="M445.4,286.5h2.6M446.7,285.2v2.6" stroke="#808080" stroke-width="1.0"/>
<path d="M447.4,279.2h2.6M448.7,277.9v2.6" stroke="#5a5a5a" stroke-width="1.0"/>
<path d="M447.7,278.1h2.6M449.0,276.8v2.6" stroke="#808080" stroke-width="1.0"/>
<path d="M446.7,279.4h2.6M448.0,278.1v2.6" stroke="#808080" stroke-width="1.0"/>
<path d="M449.5,270.2h2.6M450.8,268.9v2.6" stroke="#707070" stroke-width="1.0"/>
<path d="M449.30,275.50 C450.08,273.58 452.72,266.83 454.00,264.00 C455.28,261.17 455.85,259.87 457.00,258.50 C458.15,257.13 459.65,255.97 460.90,255.80 C462.15,255.63 463.35,256.13 464.50,257.50 C465.65,258.87 466.67,261.08 467.80,264.00 C468.93,266.92 470.13,271.17 471.30,275.00 C472.47,278.83 473.35,282.17 474.80,287.00 C476.25,291.83 478.07,297.43 480.00,304.00 C481.93,310.57 484.18,319.97 486.40,326.40 C488.62,332.83 491.53,339.08 493.30,342.60 C495.07,346.12 495.65,345.77 497.00,347.50 C498.35,349.23 500.23,352.00 501.40,353.00 C502.57,354.00 503.23,353.67 504.00,353.50 C504.77,353.33 505.67,352.25 506.00,352.00" stroke="#777" stroke-width="0.9" fill="none" stroke-linejoin="round" stroke-linecap="butt"/>
<path d="M448.3,275.6h2.4M449.5,274.4v2.4" stroke="#4a4a4a" stroke-width="1.0"/>
<path d="M449.2,272.5h2.4M450.4,271.3v2.4" stroke="#4a4a4a" stroke-width="1.0"/>
<path d="M449.8,270.9h2.4M451.0,269.7v2.4" stroke="#4a4a4a" stroke-width="1.0"/>
<path d="M450.7,269.5h2.4M451.9,268.3v2.4" stroke="#4a4a4a" stroke-width="1.0"/>
<path d="M451.6,267.4h2.4M452.8,266.2v2.4" stroke="#4a4a4a" stroke-width="1.0"/>
<path d="M452.2,265.8h2.4M453.4,264.6v2.4" stroke="#4a4a4a" stroke-width="1.0"/>
<path d="M452.8,263.7h2.4M454.0,262.5v2.4" stroke="#4a4a4a" stroke-width="1.0"/>
<path d="M453.5,262.9h2.4M454.7,261.7v2.4" stroke="#4a4a4a" stroke-width="1.0"/>
<path d="M454.1,261.6h2.4M455.3,260.4v2.4" stroke="#4a4a4a" stroke-width="1.0"/>
<path d="M454.9,260.6h2.4M456.1,259.4v2.4" stroke="#4a4a4a" stroke-width="1.0"/>
<path d="M455.6,258.8h2.4M456.8,257.6v2.4" stroke="#4a4a4a" stroke-width="1.0"/>
<path d="M456.3,258.1h2.4M457.5,256.9v2.4" stroke="#4a4a4a" stroke-width="1.0"/>
<path d="M457.1,257.1h2.4M458.3,255.9v2.4" stroke="#4a4a4a" stroke-width="1.0"/>
<path d="M457.6,256.7h2.4M458.8,255.5v2.4" stroke="#4a4a4a" stroke-width="1.0"/>
<path d="M458.3,257.2h2.4M459.5,256.0v2.4" stroke="#4a4a4a" stroke-width="1.0"/>
<path d="M459.1,256.4h2.4M460.3,255.2v2.4" stroke="#4a4a4a" stroke-width="1.0"/>
<path d="M459.9,256.3h2.4M461.1,255.1v2.4" stroke="#4a4a4a" stroke-width="1.0"/>
<path d="M460.5,255.9h2.4M461.7,254.7v2.4" stroke="#4a4a4a" stroke-width="1.0"/>
<path d="M461.3,256.2h2.4M462.5,255.0v2.4" stroke="#4a4a4a" stroke-width="1.0"/>
<path d="M462.0,256.4h2.4M463.2,255.2v2.4" stroke="#4a4a4a" stroke-width="1.0"/>
<path d="M462.7,257.5h2.4M463.9,256.3v2.4" stroke="#4a4a4a" stroke-width="1.0"/>
<path d="M463.3,257.1h2.4M464.5,255.9v2.4" stroke="#4a4a4a" stroke-width="1.0"/>
<path d="M464.1,258.6h2.4M465.3,257.4v2.4" stroke="#4a4a4a" stroke-width="1.0"/>
<path d="M464.9,260.8h2.4M466.1,259.6v2.4" stroke="#4a4a4a" stroke-width="1.0"/>
<path d="M465.8,262.4h2.4M467.0,261.2v2.4" stroke="#4a4a4a" stroke-width="1.0"/>
<path d="M466.5,263.4h2.4M467.7,262.2v2.4" stroke="#4a4a4a" stroke-width="1.0"/>
<path d="M467.0,265.8h2.4M468.2,264.6v2.4" stroke="#4a4a4a" stroke-width="1.0"/>
<path d="M467.6,266.6h2.4M468.8,265.4v2.4" stroke="#4a4a4a" stroke-width="1.0"/>
<path d="M468.4,269.9h2.4M469.6,268.7v2.4" stroke="#4a4a4a" stroke-width="1.0"/>
<path d="M469.2,272.6h2.4M470.4,271.4v2.4" stroke="#4a4a4a" stroke-width="1.0"/>
<path d="M470.0,274.3h2.4M471.2,273.1v2.4" stroke="#4a4a4a" stroke-width="1.0"/>
<path d="M470.6,276.9h2.4M471.8,275.7v2.4" stroke="#4a4a4a" stroke-width="1.0"/>
<path d="M471.4,279.0h2.4M472.6,277.8v2.4" stroke="#4a4a4a" stroke-width="1.0"/>
<path d="M472.0,281.4h2.4M473.2,280.2v2.4" stroke="#4a4a4a" stroke-width="1.0"/>
<path d="M472.5,283.5h2.4M473.7,282.3v2.4" stroke="#4a4a4a" stroke-width="1.0"/>
<path d="M473.2,285.4h2.4M474.4,284.2v2.4" stroke="#4a4a4a" stroke-width="1.0"/>
<path d="M474.0,288.3h2.4M475.2,287.1v2.4" stroke="#4a4a4a" stroke-width="1.0"/>
<path d="M474.5,289.9h2.4M475.7,288.7v2.4" stroke="#4a4a4a" stroke-width="1.0"/>
<path d="M475.3,292.6h2.4M476.5,291.4v2.4" stroke="#4a4a4a" stroke-width="1.0"/>
<path d="M476.1,294.9h2.4M477.3,293.7v2.4" stroke="#4a4a4a" stroke-width="1.0"/>
<path d="M477.0,298.4h2.4M478.2,297.2v2.4" stroke="#4a4a4a" stroke-width="1.0"/>
<path d="M477.7,300.0h2.4M478.9,298.8v2.4" stroke="#4a4a4a" stroke-width="1.0"/>
<path d="M478.4,302.1h2.4M479.6,300.9v2.4" stroke="#4a4a4a" stroke-width="1.0"/>
<path d="M479.1,304.5h2.4M480.3,303.3v2.4" stroke="#4a4a4a" stroke-width="1.0"/>
<path d="M479.7,306.8h2.4M480.9,305.6v2.4" stroke="#4a4a4a" stroke-width="1.0"/>
<path d="M480.2,308.7h2.4M481.4,307.5v2.4" stroke="#4a4a4a" stroke-width="1.0"/>
<path d="M480.9,311.0h2.4M482.1,309.8v2.4" stroke="#4a4a4a" stroke-width="1.0"/>
<path d="M481.6,314.5h2.4M482.8,313.3v2.4" stroke="#4a4a4a" stroke-width="1.0"/>
<path d="M482.4,317.3h2.4M483.6,316.1v2.4" stroke="#4a4a4a" stroke-width="1.0"/>
<path d="M483.0,318.8h2.4M484.2,317.6v2.4" stroke="#4a4a4a" stroke-width="1.0"/>
<path d="M483.6,321.2h2.4M484.8,320.0v2.4" stroke="#4a4a4a" stroke-width="1.0"/>
<path d="M484.3,323.4h2.4M485.5,322.2v2.4" stroke="#4a4a4a" stroke-width="1.0"/>
<path d="M485.1,325.5h2.4M486.3,324.3v2.4" stroke="#4a4a4a" stroke-width="1.0"/>
<path d="M485.6,327.8h2.4M486.8,326.6v2.4" stroke="#4a4a4a" stroke-width="1.0"/>
<path d="M486.4,329.3h2.4M487.6,328.1v2.4" stroke="#4a4a4a" stroke-width="1.0"/>
<path d="M487.0,330.0h2.4M488.2,328.8v2.4" stroke="#4a4a4a" stroke-width="1.0"/>
<path d="M487.8,332.7h2.4M489.0,331.5v2.4" stroke="#4a4a4a" stroke-width="1.0"/>
<path d="M488.4,334.2h2.4M489.6,333.0v2.4" stroke="#4a4a4a" stroke-width="1.0"/>
<path d="M489.3,335.3h2.4M490.5,334.1v2.4" stroke="#4a4a4a" stroke-width="1.0"/>
<path d="M490.0,338.4h2.4M491.2,337.2v2.4" stroke="#4a4a4a" stroke-width="1.0"/>
<path d="M490.9,340.2h2.4M492.1,339.0v2.4" stroke="#4a4a4a" stroke-width="1.0"/>
<path d="M491.6,341.5h2.4M492.8,340.3v2.4" stroke="#4a4a4a" stroke-width="1.0"/>
<path d="M492.1,343.0h2.4M493.3,341.8v2.4" stroke="#4a4a4a" stroke-width="1.0"/>
<path d="M492.9,343.5h2.4M494.1,342.3v2.4" stroke="#4a4a4a" stroke-width="1.0"/>
<path d="M493.4,343.9h2.4M494.6,342.7v2.4" stroke="#4a4a4a" stroke-width="1.0"/>
<path d="M494.1,345.7h2.4M495.3,344.5v2.4" stroke="#4a4a4a" stroke-width="1.0"/>
<path d="M494.8,346.6h2.4M496.0,345.4v2.4" stroke="#4a4a4a" stroke-width="1.0"/>
<path d="M495.3,346.6h2.4M496.5,345.4v2.4" stroke="#4a4a4a" stroke-width="1.0"/>
<path d="M495.9,347.4h2.4M497.1,346.2v2.4" stroke="#4a4a4a" stroke-width="1.0"/>
<path d="M496.7,348.5h2.4M497.9,347.3v2.4" stroke="#4a4a4a" stroke-width="1.0"/>
<path d="M497.4,349.7h2.4M498.6,348.5v2.4" stroke="#4a4a4a" stroke-width="1.0"/>
<path d="M498.0,350.8h2.4M499.2,349.6v2.4" stroke="#4a4a4a" stroke-width="1.0"/>
<path d="M498.8,351.7h2.4M500.0,350.5v2.4" stroke="#4a4a4a" stroke-width="1.0"/>
<path d="M499.5,352.0h2.4M500.7,350.8v2.4" stroke="#4a4a4a" stroke-width="1.0"/>
<path d="M500.2,353.6h2.4M501.4,352.4v2.4" stroke="#4a4a4a" stroke-width="1.0"/>
<path d="M501.1,353.2h2.4M502.3,352.0v2.4" stroke="#4a4a4a" stroke-width="1.0"/>
<path d="M501.8,352.8h2.4M503.0,351.6v2.4" stroke="#4a4a4a" stroke-width="1.0"/>
<path d="M502.6,353.6h2.4M503.8,352.4v2.4" stroke="#4a4a4a" stroke-width="1.0"/>
<path d="M503.3,352.8h2.4M504.5,351.6v2.4" stroke="#4a4a4a" stroke-width="1.0"/>
<path d="M503.9,352.9h2.4M505.1,351.7v2.4" stroke="#4a4a4a" stroke-width="1.0"/>
<path d="M557.0,436.6 L590.3,436.6" stroke="#000" stroke-width="2.0" fill="none" stroke-linejoin="round" stroke-linecap="butt"/>
<path d="M642.6,436.6 L661.6,436.6" stroke="#000" stroke-width="2.0" fill="none" stroke-linejoin="round" stroke-linecap="butt"/>
<path d="M589.2,369.7h2.6M590.5,368.4v2.6" stroke="#5e5e5e" stroke-width="1.0"/>
<path d="M589.9,362.9h2.6M591.2,361.6v2.6" stroke="#5e5e5e" stroke-width="1.0"/>
<path d="M591.2,347.8h2.6M592.5,346.5v2.6" stroke="#5e5e5e" stroke-width="1.0"/>
<path d="M592.6,351.2h2.6M593.9,349.9v2.6" stroke="#5e5e5e" stroke-width="1.0"/>
<path d="M594.0,352.6h2.6M595.3,351.3v2.6" stroke="#5e5e5e" stroke-width="1.0"/>
<path d="M595.3,354.7h2.6M596.6,353.4v2.6" stroke="#5e5e5e" stroke-width="1.0"/>
<path d="M596.0,356.0h2.6M597.3,354.7v2.6" stroke="#5e5e5e" stroke-width="1.0"/>
<path d="M597.4,361.5h2.6M598.7,360.2v2.6" stroke="#5e5e5e" stroke-width="1.0"/>
<path d="M598.8,358.8h2.6M600.1,357.5v2.6" stroke="#5e5e5e" stroke-width="1.0"/>
<path d="M600.8,358.8h2.6M602.1,357.5v2.6" stroke="#5e5e5e" stroke-width="1.0"/>
<path d="M602.2,362.2h2.6M603.5,360.9v2.6" stroke="#5e5e5e" stroke-width="1.0"/>
<path d="M603.6,357.4h2.6M604.9,356.1v2.6" stroke="#5e5e5e" stroke-width="1.0"/>
<path d="M604.9,360.8h2.6M606.2,359.5v2.6" stroke="#5e5e5e" stroke-width="1.0"/>
<path d="M607.0,356.7h2.6M608.3,355.4v2.6" stroke="#5e5e5e" stroke-width="1.0"/>
<path d="M609.0,359.5h2.6M610.3,358.2v2.6" stroke="#5e5e5e" stroke-width="1.0"/>
<path d="M610.4,362.9h2.6M611.7,361.6v2.6" stroke="#5e5e5e" stroke-width="1.0"/>
<path d="M611.1,364.9h2.6M612.4,363.6v2.6" stroke="#5e5e5e" stroke-width="1.0"/>
<path d="M612.5,370.4h2.6M613.8,369.1v2.6" stroke="#5e5e5e" stroke-width="1.0"/>
<path d="M611.8,374.5h2.6M613.1,373.2v2.6" stroke="#5e5e5e" stroke-width="1.0"/>
<path d="M613.8,354.7h2.6M615.1,353.4v2.6" stroke="#5e5e5e" stroke-width="1.0"/>
<path d="M615.9,356.0h2.6M617.2,354.7v2.6" stroke="#5e5e5e" stroke-width="1.0"/>
<path d="M617.9,359.5h2.6M619.2,358.2v2.6" stroke="#5e5e5e" stroke-width="1.0"/>
<path d="M619.3,360.8h2.6M620.6,359.5v2.6" stroke="#5e5e5e" stroke-width="1.0"/>
<path d="M620.7,356.0h2.6M622.0,354.7v2.6" stroke="#5e5e5e" stroke-width="1.0"/>
<path d="M622.7,354.7h2.6M624.0,353.4v2.6" stroke="#5e5e5e" stroke-width="1.0"/>
<path d="M623.4,357.4h2.6M624.7,356.1v2.6" stroke="#5e5e5e" stroke-width="1.0"/>
<path d="M625.5,360.1h2.6M626.8,358.8v2.6" stroke="#5e5e5e" stroke-width="1.0"/>
<path d="M626.2,364.9h2.6M627.5,363.6v2.6" stroke="#5e5e5e" stroke-width="1.0"/>
<path d="M627.5,352.6h2.6M628.8,351.3v2.6" stroke="#5e5e5e" stroke-width="1.0"/>
<path d="M628.9,345.1h2.6M630.2,343.8v2.6" stroke="#5e5e5e" stroke-width="1.0"/>
<path d="M629.6,348.5h2.6M630.9,347.2v2.6" stroke="#5e5e5e" stroke-width="1.0"/>
<path d="M632.3,342.3h2.6M633.6,341.0v2.6" stroke="#5e5e5e" stroke-width="1.0"/>
<path d="M631.0,358.8h2.6M632.3,357.5v2.6" stroke="#5e5e5e" stroke-width="1.0"/>
<path d="M634.4,361.5h2.6M635.7,360.2v2.6" stroke="#5e5e5e" stroke-width="1.0"/>
<path d="M635.1,358.1h2.6M636.4,356.8v2.6" stroke="#5e5e5e" stroke-width="1.0"/>
<path d="M632.3,366.3h2.6M633.6,365.0v2.6" stroke="#5e5e5e" stroke-width="1.0"/>
<path d="M636.4,369.7h2.6M637.7,368.4v2.6" stroke="#5e5e5e" stroke-width="1.0"/>
<path d="M637.8,375.9h2.6M639.1,374.6v2.6" stroke="#5e5e5e" stroke-width="1.0"/>
<path d="M639.2,379.3h2.6M640.5,378.0v2.6" stroke="#5e5e5e" stroke-width="1.0"/>
<path d="M639.9,385.5h2.6M641.2,384.2v2.6" stroke="#5e5e5e" stroke-width="1.0"/>
<path d="M640.5,351.9h2.6M641.8,350.6v2.6" stroke="#5e5e5e" stroke-width="1.0"/>
<path d="M641.9,369.7h2.6M643.2,368.4v2.6" stroke="#5e5e5e" stroke-width="1.0"/>
<path d="M659.2,397.0h2.6M660.5,395.7v2.6" stroke="#5e5e5e" stroke-width="1.0"/>
<path d="M660.2,399.0h2.6M661.5,397.7v2.6" stroke="#5e5e5e" stroke-width="1.0"/>
<path d="M661.2,400.0h2.6M662.5,398.7v2.6" stroke="#5e5e5e" stroke-width="1.0"/>
<path d="M662.5,398.0h2.6M663.8,396.7v2.6" stroke="#5e5e5e" stroke-width="1.0"/>
<path d="M663.5,397.5h2.6M664.8,396.2v2.6" stroke="#5e5e5e" stroke-width="1.0"/>
<path d="M662.7,387.6h2.6M664.0,386.3v2.6" stroke="#5e5e5e" stroke-width="1.0"/>
<path d="M664.1,388.8h2.6M665.4,387.5v2.6" stroke="#5e5e5e" stroke-width="1.0"/>
<path d="M659.7,401.0h2.6M661.0,399.7v2.6" stroke="#5e5e5e" stroke-width="1.0"/>
<path d="M668.1,250.3h2.6M669.4,249.0v2.6" stroke="#5e5e5e" stroke-width="1.0"/>
<path d="M667.6,264.4h2.6M668.9,263.1v2.6" stroke="#5e5e5e" stroke-width="1.0"/>
<path d="M667.2,267.1h2.6M668.5,265.8v2.6" stroke="#5e5e5e" stroke-width="1.0"/>
<path d="M666.6,274.1h2.6M667.9,272.8v2.6" stroke="#5e5e5e" stroke-width="1.0"/>
<path d="M668.7,279.1h2.6M670.0,277.8v2.6" stroke="#5e5e5e" stroke-width="1.0"/>
<path d="M665.1,280.4h2.6M666.4,279.1v2.6" stroke="#5e5e5e" stroke-width="1.0"/>
<path d="M666.0,287.1h2.6M667.3,285.8v2.6" stroke="#5e5e5e" stroke-width="1.0"/>
<path d="M666.6,289.6h2.6M667.9,288.3v2.6" stroke="#5e5e5e" stroke-width="1.0"/>
<path d="M671.9,293.8h2.6M673.2,292.5v2.6" stroke="#5e5e5e" stroke-width="1.0"/>
<path d="M672.9,296.6h2.6M674.2,295.3v2.6" stroke="#5e5e5e" stroke-width="1.0"/>
<path d="M669.7,307.1h2.6M671.0,305.8v2.6" stroke="#5e5e5e" stroke-width="1.0"/>
<path d="M671.4,308.2h2.6M672.7,306.9v2.6" stroke="#5e5e5e" stroke-width="1.0"/>
<path d="M673.5,309.2h2.6M674.8,307.9v2.6" stroke="#5e5e5e" stroke-width="1.0"/>
<path d="M670.2,312.0h2.6M671.5,310.7v2.6" stroke="#5e5e5e" stroke-width="1.0"/>
<path d="M674.0,314.1h2.6M675.3,312.8v2.6" stroke="#5e5e5e" stroke-width="1.0"/>
<path d="M665.1,317.2h2.6M666.4,315.9v2.6" stroke="#5e5e5e" stroke-width="1.0"/>
<path d="M675.0,319.1h2.6M676.3,317.8v2.6" stroke="#5e5e5e" stroke-width="1.0"/>
<path d="M675.6,321.8h2.6M676.9,320.5v2.6" stroke="#5e5e5e" stroke-width="1.0"/>
<path d="M680.3,320.4h2.6M681.6,319.1v2.6" stroke="#5e5e5e" stroke-width="1.0"/>
<path d="M678.2,325.0h2.6M679.5,323.7v2.6" stroke="#5e5e5e" stroke-width="1.0"/>
<path d="M676.1,328.2h2.6M677.4,326.9v2.6" stroke="#5e5e5e" stroke-width="1.0"/>
<path d="M679.2,330.3h2.6M680.5,329.0v2.6" stroke="#5e5e5e" stroke-width="1.0"/>
<path d="M677.1,331.3h2.6M678.4,330.0v2.6" stroke="#5e5e5e" stroke-width="1.0"/>
<path d="M680.3,332.4h2.6M681.6,331.1v2.6" stroke="#5e5e5e" stroke-width="1.0"/>
<path d="M682.4,328.2h2.6M683.7,326.9v2.6" stroke="#5e5e5e" stroke-width="1.0"/>
<path d="M685.5,325.0h2.6M686.8,323.7v2.6" stroke="#5e5e5e" stroke-width="1.0"/>
<path d="M686.6,329.2h2.6M687.9,327.9v2.6" stroke="#5e5e5e" stroke-width="1.0"/>
<path d="M688.3,331.3h2.6M689.6,330.0v2.6" stroke="#5e5e5e" stroke-width="1.0"/>
<path d="M689.1,334.5h2.6M690.4,333.2v2.6" stroke="#5e5e5e" stroke-width="1.0"/>
<path d="M690.4,337.6h2.6M691.7,336.3v2.6" stroke="#5e5e5e" stroke-width="1.0"/>
<path d="M691.9,341.8h2.6M693.2,340.5v2.6" stroke="#5e5e5e" stroke-width="1.0"/>
<path d="M692.9,343.9h2.6M694.2,342.6v2.6" stroke="#5e5e5e" stroke-width="1.0"/>
<path d="M604.2,353.9h2.6M605.5,352.6v2.6" stroke="#555" stroke-width="1.0"/>
<path d="M592.0,357.7h2.6M593.3,356.4v2.6" stroke="#555" stroke-width="1.0"/>
<path d="M594.7,354.1h2.6M596.0,352.8v2.6" stroke="#555" stroke-width="1.0"/>
<path d="M609.6,361.9h2.6M610.9,360.6v2.6" stroke="#555" stroke-width="1.0"/>
<path d="M592.4,358.1h2.6M593.7,356.8v2.6" stroke="#555" stroke-width="1.0"/>
<path d="M627.6,361.5h2.6M628.9,360.2v2.6" stroke="#555" stroke-width="1.0"/>
<path d="M602.4,360.9h2.6M603.7,359.6v2.6" stroke="#555" stroke-width="1.0"/>
<path d="M600.2,357.7h2.6M601.5,356.4v2.6" stroke="#555" stroke-width="1.0"/>
<path d="M592.6,353.8h2.6M593.9,352.5v2.6" stroke="#555" stroke-width="1.0"/>
<path d="M628.4,360.4h2.6M629.7,359.1v2.6" stroke="#555" stroke-width="1.0"/>
<path d="M623.1,356.9h2.6M624.4,355.6v2.6" stroke="#555" stroke-width="1.0"/>
<path d="M635.3,368.8h2.6M636.6,367.5v2.6" stroke="#555" stroke-width="1.0"/>
<path d="M603.4,358.2h2.6M604.7,356.9v2.6" stroke="#555" stroke-width="1.0"/>
<path d="M619.3,360.2h2.6M620.6,358.9v2.6" stroke="#555" stroke-width="1.0"/>
<path d="M622.5,356.9h2.6M623.8,355.6v2.6" stroke="#555" stroke-width="1.0"/>
<path d="M592.2,360.5h2.6M593.5,359.2v2.6" stroke="#555" stroke-width="1.0"/>
<path d="M619.6,357.6h2.6M620.9,356.3v2.6" stroke="#555" stroke-width="1.0"/>
<path d="M603.0,356.3h2.6M604.3,355.0v2.6" stroke="#555" stroke-width="1.0"/>
<path d="M627.0,358.0h2.6M628.3,356.7v2.6" stroke="#555" stroke-width="1.0"/>
<path d="M638.1,371.0h2.6M639.4,369.7v2.6" stroke="#555" stroke-width="1.0"/>
<path d="M625.4,357.3h2.6M626.7,356.0v2.6" stroke="#555" stroke-width="1.0"/>
<path d="M637.1,368.5h2.6M638.4,367.2v2.6" stroke="#555" stroke-width="1.0"/>
<path d="M612.5,351.5h2.6M613.8,350.2v2.6" stroke="#555" stroke-width="1.0"/>
<path d="M630.9,356.0h2.6M632.2,354.7v2.6" stroke="#555" stroke-width="1.0"/>
<path d="M600.0,359.6h2.6M601.3,358.3v2.6" stroke="#555" stroke-width="1.0"/>
<path d="M597.3,359.7h2.6M598.6,358.4v2.6" stroke="#555" stroke-width="1.0"/>
<path d="M633.3,362.8h2.6M634.6,361.5v2.6" stroke="#555" stroke-width="1.0"/>
<path d="M609.0,356.9h2.6M610.3,355.6v2.6" stroke="#555" stroke-width="1.0"/>
<path d="M615.0,352.8h2.6M616.3,351.5v2.6" stroke="#555" stroke-width="1.0"/>
<path d="M611.2,360.2h2.6M612.5,358.9v2.6" stroke="#555" stroke-width="1.0"/>
<path d="M632.4,369.5h2.6M633.7,368.2v2.6" stroke="#555" stroke-width="1.0"/>
<path d="M626.9,352.5h2.6M628.2,351.2v2.6" stroke="#555" stroke-width="1.0"/>
<path d="M599.8,352.1h2.6M601.1,350.8v2.6" stroke="#555" stroke-width="1.0"/>
<path d="M608.4,361.2h2.6M609.7,359.9v2.6" stroke="#555" stroke-width="1.0"/>
<path d="M618.6,359.6h2.6M619.9,358.3v2.6" stroke="#555" stroke-width="1.0"/>
<path d="M607.4,364.3h2.6M608.7,363.0v2.6" stroke="#555" stroke-width="1.0"/>
<path d="M608.7,358.6h2.6M610.0,357.3v2.6" stroke="#555" stroke-width="1.0"/>
<path d="M592.0,356.6h2.6M593.3,355.3v2.6" stroke="#555" stroke-width="1.0"/>
<path d="M611.7,356.4h2.6M613.0,355.1v2.6" stroke="#555" stroke-width="1.0"/>
<path d="M610.1,358.6h2.6M611.4,357.3v2.6" stroke="#555" stroke-width="1.0"/>
<path d="M687.0,336.2h2.6M688.3,334.9v2.6" stroke="#5e5e5e" stroke-width="1.0"/>
<path d="M687.4,327.6h2.6M688.7,326.3v2.6" stroke="#5e5e5e" stroke-width="1.0"/>
<path d="M675.9,320.3h2.6M677.2,319.0v2.6" stroke="#5e5e5e" stroke-width="1.0"/>
<path d="M675.1,324.6h2.6M676.4,323.3v2.6" stroke="#5e5e5e" stroke-width="1.0"/>
<path d="M687.2,330.7h2.6M688.5,329.4v2.6" stroke="#5e5e5e" stroke-width="1.0"/>
<path d="M685.5,333.0h2.6M686.8,331.7v2.6" stroke="#5e5e5e" stroke-width="1.0"/>
<path d="M679.0,321.9h2.6M680.3,320.6v2.6" stroke="#5e5e5e" stroke-width="1.0"/>
<path d="M677.8,326.0h2.6M679.1,324.7v2.6" stroke="#5e5e5e" stroke-width="1.0"/>
<path d="M674.9,320.2h2.6M676.2,318.9v2.6" stroke="#5e5e5e" stroke-width="1.0"/>
<path d="M678.8,324.6h2.6M680.1,323.3v2.6" stroke="#5e5e5e" stroke-width="1.0"/>
<path d="M687.3,331.7h2.6M688.6,330.4v2.6" stroke="#5e5e5e" stroke-width="1.0"/>
<path d="M675.1,319.1h2.6M676.4,317.8v2.6" stroke="#5e5e5e" stroke-width="1.0"/>
<path d="M686.9,330.9h2.6M688.2,329.6v2.6" stroke="#5e5e5e" stroke-width="1.0"/>
<path d="M686.7,332.0h2.6M688.0,330.7v2.6" stroke="#5e5e5e" stroke-width="1.0"/>
<path d="M689.2,336.0h2.6M690.5,334.7v2.6" stroke="#5e5e5e" stroke-width="1.0"/>
<path d="M688.9,339.2h2.6M690.2,337.9v2.6" stroke="#5e5e5e" stroke-width="1.0"/>
<path d="M683.0,324.3h2.6M684.3,323.0v2.6" stroke="#5e5e5e" stroke-width="1.0"/>
<path d="M675.1,323.6h2.6M676.4,322.3v2.6" stroke="#5e5e5e" stroke-width="1.0"/>
<path d="M689.0,336.3h2.6M690.3,335.0v2.6" stroke="#5e5e5e" stroke-width="1.0"/>
<path d="M685.0,325.0h2.6M686.3,323.7v2.6" stroke="#5e5e5e" stroke-width="1.0"/>
<path d="M694.20,343.90 C694.53,344.62 694.27,346.93 696.20,348.20 C698.13,349.47 702.10,350.32 705.80,351.50 C709.50,352.68 714.20,354.25 718.40,355.30 C722.60,356.35 726.80,357.18 731.00,357.80 C735.20,358.42 739.38,358.88 743.60,359.00 C747.82,359.12 753.77,358.92 756.30,358.50 C758.83,358.08 758.38,356.83 758.80,356.50" stroke="#222" stroke-width="1.5" fill="none" stroke-linejoin="round" stroke-linecap="butt"/>
<path d="M693.3,344.2h2.4M694.5,343.0v2.4" stroke="#3a3a3a" stroke-width="1.0"/>
<path d="M694.5,346.9h2.4M695.7,345.7v2.4" stroke="#3a3a3a" stroke-width="1.0"/>
<path d="M695.6,348.4h2.4M696.8,347.2v2.4" stroke="#3a3a3a" stroke-width="1.0"/>
<path d="M696.5,348.8h2.4M697.7,347.6v2.4" stroke="#3a3a3a" stroke-width="1.0"/>
<path d="M697.6,348.6h2.4M698.8,347.4v2.4" stroke="#3a3a3a" stroke-width="1.0"/>
<path d="M698.4,349.1h2.4M699.6,347.9v2.4" stroke="#3a3a3a" stroke-width="1.0"/>
<path d="M699.6,350.2h2.4M700.8,349.0v2.4" stroke="#3a3a3a" stroke-width="1.0"/>
<path d="M700.6,350.5h2.4M701.8,349.3v2.4" stroke="#3a3a3a" stroke-width="1.0"/>
<path d="M701.7,350.3h2.4M702.9,349.1v2.4" stroke="#3a3a3a" stroke-width="1.0"/>
<path d="M702.8,351.2h2.4M704.0,350.0v2.4" stroke="#3a3a3a" stroke-width="1.0"/>
<path d="M703.8,351.2h2.4M705.0,350.0v2.4" stroke="#3a3a3a" stroke-width="1.0"/>
<path d="M705.0,351.3h2.4M706.2,350.1v2.4" stroke="#3a3a3a" stroke-width="1.0"/>
<path d="M706.0,351.9h2.4M707.2,350.7v2.4" stroke="#3a3a3a" stroke-width="1.0"/>
<path d="M707.1,352.4h2.4M708.3,351.2v2.4" stroke="#3a3a3a" stroke-width="1.0"/>
<path d="M708.0,352.5h2.4M709.2,351.3v2.4" stroke="#3a3a3a" stroke-width="1.0"/>
<path d="M709.1,352.4h2.4M710.3,351.2v2.4" stroke="#3a3a3a" stroke-width="1.0"/>
<path d="M710.2,353.7h2.4M711.4,352.5v2.4" stroke="#3a3a3a" stroke-width="1.0"/>
<path d="M711.3,353.4h2.4M712.5,352.2v2.4" stroke="#3a3a3a" stroke-width="1.0"/>
<path d="M712.3,353.8h2.4M713.5,352.6v2.4" stroke="#3a3a3a" stroke-width="1.0"/>
<path d="M713.3,353.9h2.4M714.5,352.7v2.4" stroke="#3a3a3a" stroke-width="1.0"/>
<path d="M714.6,354.4h2.4M715.8,353.2v2.4" stroke="#3a3a3a" stroke-width="1.0"/>
<path d="M715.5,354.9h2.4M716.7,353.7v2.4" stroke="#3a3a3a" stroke-width="1.0"/>
<path d="M716.3,354.9h2.4M717.5,353.7v2.4" stroke="#3a3a3a" stroke-width="1.0"/>
<path d="M717.4,355.7h2.4M718.6,354.5v2.4" stroke="#3a3a3a" stroke-width="1.0"/>
<path d="M718.3,355.1h2.4M719.5,353.9v2.4" stroke="#3a3a3a" stroke-width="1.0"/>
<path d="M719.6,355.3h2.4M720.8,354.1v2.4" stroke="#3a3a3a" stroke-width="1.0"/>
<path d="M720.6,356.0h2.4M721.8,354.8v2.4" stroke="#3a3a3a" stroke-width="1.0"/>
<path d="M721.9,356.1h2.4M723.1,354.9v2.4" stroke="#3a3a3a" stroke-width="1.0"/>
<path d="M722.8,356.2h2.4M724.0,355.0v2.4" stroke="#3a3a3a" stroke-width="1.0"/>
<path d="M723.8,356.3h2.4M725.0,355.1v2.4" stroke="#3a3a3a" stroke-width="1.0"/>
<path d="M725.1,356.9h2.4M726.3,355.7v2.4" stroke="#3a3a3a" stroke-width="1.0"/>
<path d="M726.2,356.9h2.4M727.4,355.7v2.4" stroke="#3a3a3a" stroke-width="1.0"/>
<path d="M727.4,357.7h2.4M728.6,356.5v2.4" stroke="#3a3a3a" stroke-width="1.0"/>
<path d="M728.3,358.0h2.4M729.5,356.8v2.4" stroke="#3a3a3a" stroke-width="1.0"/>
<path d="M729.2,357.9h2.4M730.4,356.7v2.4" stroke="#3a3a3a" stroke-width="1.0"/>
<path d="M730.5,357.8h2.4M731.7,356.6v2.4" stroke="#3a3a3a" stroke-width="1.0"/>
<path d="M731.8,357.9h2.4M733.0,356.7v2.4" stroke="#3a3a3a" stroke-width="1.0"/>
<path d="M732.8,358.5h2.4M734.0,357.3v2.4" stroke="#3a3a3a" stroke-width="1.0"/>
<path d="M733.9,357.7h2.4M735.1,356.5v2.4" stroke="#3a3a3a" stroke-width="1.0"/>
<path d="M734.7,358.3h2.4M735.9,357.1v2.4" stroke="#3a3a3a" stroke-width="1.0"/>
<path d="M735.7,357.9h2.4M736.9,356.7v2.4" stroke="#3a3a3a" stroke-width="1.0"/>
<path d="M736.9,358.3h2.4M738.1,357.1v2.4" stroke="#3a3a3a" stroke-width="1.0"/>
<path d="M738.2,358.5h2.4M739.4,357.3v2.4" stroke="#3a3a3a" stroke-width="1.0"/>
<path d="M739.1,358.6h2.4M740.3,357.4v2.4" stroke="#3a3a3a" stroke-width="1.0"/>
<path d="M740.3,359.2h2.4M741.5,358.0v2.4" stroke="#3a3a3a" stroke-width="1.0"/>
<path d="M741.4,358.7h2.4M742.6,357.5v2.4" stroke="#3a3a3a" stroke-width="1.0"/>
<path d="M742.4,358.8h2.4M743.6,357.6v2.4" stroke="#3a3a3a" stroke-width="1.0"/>
<path d="M743.4,358.5h2.4M744.6,357.3v2.4" stroke="#3a3a3a" stroke-width="1.0"/>
<path d="M744.2,359.4h2.4M745.4,358.2v2.4" stroke="#3a3a3a" stroke-width="1.0"/>
<path d="M745.4,358.6h2.4M746.6,357.4v2.4" stroke="#3a3a3a" stroke-width="1.0"/>
<path d="M746.5,358.4h2.4M747.7,357.2v2.4" stroke="#3a3a3a" stroke-width="1.0"/>
<path d="M747.7,358.9h2.4M748.9,357.7v2.4" stroke="#3a3a3a" stroke-width="1.0"/>
<path d="M748.9,358.7h2.4M750.1,357.5v2.4" stroke="#3a3a3a" stroke-width="1.0"/>
<path d="M749.9,359.0h2.4M751.1,357.8v2.4" stroke="#3a3a3a" stroke-width="1.0"/>
<path d="M750.9,358.2h2.4M752.1,357.0v2.4" stroke="#3a3a3a" stroke-width="1.0"/>
<path d="M751.7,359.1h2.4M752.9,357.9v2.4" stroke="#3a3a3a" stroke-width="1.0"/>
<path d="M752.7,358.2h2.4M753.9,357.0v2.4" stroke="#3a3a3a" stroke-width="1.0"/>
<path d="M753.7,358.2h2.4M754.9,357.0v2.4" stroke="#3a3a3a" stroke-width="1.0"/>
<path d="M754.7,358.8h2.4M755.9,357.6v2.4" stroke="#3a3a3a" stroke-width="1.0"/>
<path d="M755.7,358.0h2.4M756.9,356.8v2.4" stroke="#3a3a3a" stroke-width="1.0"/>
<path d="M756.9,357.4h2.4M758.1,356.2v2.4" stroke="#3a3a3a" stroke-width="1.0"/>
</g>
<g stroke="#000" stroke-opacity="0.5" stroke-width="1" fill="none">
<rect x="49.5" y="0.5" width="202" height="202"/>
<line x1="55.16" y1="202.5" x2="55.16" y2="200.5" />
<line x1="55.16" y1="0.5" x2="55.16" y2="2.5" />
<line x1="61.12" y1="202.5" x2="61.12" y2="200.5" />
<line x1="61.12" y1="0.5" x2="61.12" y2="2.5" />
<line x1="67.08" y1="202.5" x2="67.08" y2="200.5" />
<line x1="67.08" y1="0.5" x2="67.08" y2="2.5" />
<line x1="73.04" y1="202.5" x2="73.04" y2="200.5" />
<line x1="73.04" y1="0.5" x2="73.04" y2="2.5" />
<line x1="79.00" y1="202.5" x2="79.00" y2="198.5" />
<line x1="79.00" y1="0.5" x2="79.00" y2="4.5" />
<line x1="84.96" y1="202.5" x2="84.96" y2="200.5" />
<line x1="84.96" y1="0.5" x2="84.96" y2="2.5" />
<line x1="90.92" y1="202.5" x2="90.92" y2="200.5" />
<line x1="90.92" y1="0.5" x2="90.92" y2="2.5" />
<line x1="96.88" y1="202.5" x2="96.88" y2="200.5" />
<line x1="96.88" y1="0.5" x2="96.88" y2="2.5" />
<line x1="102.84" y1="202.5" x2="102.84" y2="200.5" />
<line x1="102.84" y1="0.5" x2="102.84" y2="2.5" />
<line x1="108.80" y1="202.5" x2="108.80" y2="198.5" />
<line x1="108.80" y1="0.5" x2="108.80" y2="4.5" />
<line x1="114.76" y1="202.5" x2="114.76" y2="200.5" />
<line x1="114.76" y1="0.5" x2="114.76" y2="2.5" />
<line x1="120.72" y1="202.5" x2="120.72" y2="200.5" />
<line x1="120.72" y1="0.5" x2="120.72" y2="2.5" />
<line x1="126.68" y1="202.5" x2="126.68" y2="200.5" />
<line x1="126.68" y1="0.5" x2="126.68" y2="2.5" />
<line x1="132.64" y1="202.5" x2="132.64" y2="200.5" />
<line x1="132.64" y1="0.5" x2="132.64" y2="2.5" />
<line x1="138.60" y1="202.5" x2="138.60" y2="198.5" />
<line x1="138.60" y1="0.5" x2="138.60" y2="4.5" />
<line x1="144.56" y1="202.5" x2="144.56" y2="200.5" />
<line x1="144.56" y1="0.5" x2="144.56" y2="2.5" />
<line x1="150.52" y1="202.5" x2="150.52" y2="200.5" />
<line x1="150.52" y1="0.5" x2="150.52" y2="2.5" />
<line x1="156.48" y1="202.5" x2="156.48" y2="200.5" />
<line x1="156.48" y1="0.5" x2="156.48" y2="2.5" />
<line x1="162.44" y1="202.5" x2="162.44" y2="200.5" />
<line x1="162.44" y1="0.5" x2="162.44" y2="2.5" />
<line x1="168.40" y1="202.5" x2="168.40" y2="198.5" />
<line x1="168.40" y1="0.5" x2="168.40" y2="4.5" />
<line x1="174.36" y1="202.5" x2="174.36" y2="200.5" />
<line x1="174.36" y1="0.5" x2="174.36" y2="2.5" />
<line x1="180.32" y1="202.5" x2="180.32" y2="200.5" />
<line x1="180.32" y1="0.5" x2="180.32" y2="2.5" />
<line x1="186.28" y1="202.5" x2="186.28" y2="200.5" />
<line x1="186.28" y1="0.5" x2="186.28" y2="2.5" />
<line x1="192.24" y1="202.5" x2="192.24" y2="200.5" />
<line x1="192.24" y1="0.5" x2="192.24" y2="2.5" />
<line x1="198.20" y1="202.5" x2="198.20" y2="198.5" />
<line x1="198.20" y1="0.5" x2="198.20" y2="4.5" />
<line x1="204.16" y1="202.5" x2="204.16" y2="200.5" />
<line x1="204.16" y1="0.5" x2="204.16" y2="2.5" />
<line x1="210.12" y1="202.5" x2="210.12" y2="200.5" />
<line x1="210.12" y1="0.5" x2="210.12" y2="2.5" />
<line x1="216.08" y1="202.5" x2="216.08" y2="200.5" />
<line x1="216.08" y1="0.5" x2="216.08" y2="2.5" />
<line x1="222.04" y1="202.5" x2="222.04" y2="200.5" />
<line x1="222.04" y1="0.5" x2="222.04" y2="2.5" />
<line x1="228.00" y1="202.5" x2="228.00" y2="198.5" />
<line x1="228.00" y1="0.5" x2="228.00" y2="4.5" />
<line x1="233.96" y1="202.5" x2="233.96" y2="200.5" />
<line x1="233.96" y1="0.5" x2="233.96" y2="2.5" />
<line x1="239.92" y1="202.5" x2="239.92" y2="200.5" />
<line x1="239.92" y1="0.5" x2="239.92" y2="2.5" />
<line x1="245.88" y1="202.5" x2="245.88" y2="200.5" />
<line x1="245.88" y1="0.5" x2="245.88" y2="2.5" />
<line x1="49.5" y1="197.38" x2="51.5" y2="197.38" />
<line x1="251.5" y1="197.38" x2="249.5" y2="197.38" />
<line x1="49.5" y1="187.90" x2="51.5" y2="187.90" />
<line x1="251.5" y1="187.90" x2="249.5" y2="187.90" />
<line x1="49.5" y1="178.41" x2="53.5" y2="178.41" />
<line x1="251.5" y1="178.41" x2="247.5" y2="178.41" />
<line x1="49.5" y1="168.93" x2="51.5" y2="168.93" />
<line x1="251.5" y1="168.93" x2="249.5" y2="168.93" />
<line x1="49.5" y1="159.44" x2="51.5" y2="159.44" />
<line x1="251.5" y1="159.44" x2="249.5" y2="159.44" />
<line x1="49.5" y1="149.96" x2="51.5" y2="149.96" />
<line x1="251.5" y1="149.96" x2="249.5" y2="149.96" />
<line x1="49.5" y1="140.47" x2="53.5" y2="140.47" />
<line x1="251.5" y1="140.47" x2="247.5" y2="140.47" />
<line x1="49.5" y1="130.99" x2="51.5" y2="130.99" />
<line x1="251.5" y1="130.99" x2="249.5" y2="130.99" />
<line x1="49.5" y1="121.50" x2="51.5" y2="121.50" />
<line x1="251.5" y1="121.50" x2="249.5" y2="121.50" />
<line x1="49.5" y1="112.01" x2="51.5" y2="112.01" />
<line x1="251.5" y1="112.01" x2="249.5" y2="112.01" />
<line x1="49.5" y1="102.53" x2="53.5" y2="102.53" />
<line x1="251.5" y1="102.53" x2="247.5" y2="102.53" />
<line x1="49.5" y1="93.04" x2="51.5" y2="93.04" />
<line x1="251.5" y1="93.04" x2="249.5" y2="93.04" />
<line x1="49.5" y1="83.56" x2="51.5" y2="83.56" />
<line x1="251.5" y1="83.56" x2="249.5" y2="83.56" />
<line x1="49.5" y1="74.07" x2="51.5" y2="74.07" />
<line x1="251.5" y1="74.07" x2="249.5" y2="74.07" />
<line x1="49.5" y1="64.59" x2="53.5" y2="64.59" />
<line x1="251.5" y1="64.59" x2="247.5" y2="64.59" />
<line x1="49.5" y1="55.11" x2="51.5" y2="55.11" />
<line x1="251.5" y1="55.11" x2="249.5" y2="55.11" />
<line x1="49.5" y1="45.62" x2="51.5" y2="45.62" />
<line x1="251.5" y1="45.62" x2="249.5" y2="45.62" />
<line x1="49.5" y1="36.13" x2="51.5" y2="36.13" />
<line x1="251.5" y1="36.13" x2="249.5" y2="36.13" />
<line x1="49.5" y1="26.65" x2="53.5" y2="26.65" />
<line x1="251.5" y1="26.65" x2="247.5" y2="26.65" />
<line x1="49.5" y1="17.16" x2="51.5" y2="17.16" />
<line x1="251.5" y1="17.16" x2="249.5" y2="17.16" />
<line x1="49.5" y1="7.68" x2="51.5" y2="7.68" />
<line x1="251.5" y1="7.68" x2="249.5" y2="7.68" />
<rect x="303.5" y="0.5" width="202" height="202"/>
<line x1="309.16" y1="202.5" x2="309.16" y2="200.5" />
<line x1="309.16" y1="0.5" x2="309.16" y2="2.5" />
<line x1="315.12" y1="202.5" x2="315.12" y2="200.5" />
<line x1="315.12" y1="0.5" x2="315.12" y2="2.5" />
<line x1="321.08" y1="202.5" x2="321.08" y2="200.5" />
<line x1="321.08" y1="0.5" x2="321.08" y2="2.5" />
<line x1="327.04" y1="202.5" x2="327.04" y2="200.5" />
<line x1="327.04" y1="0.5" x2="327.04" y2="2.5" />
<line x1="333.00" y1="202.5" x2="333.00" y2="198.5" />
<line x1="333.00" y1="0.5" x2="333.00" y2="4.5" />
<line x1="338.96" y1="202.5" x2="338.96" y2="200.5" />
<line x1="338.96" y1="0.5" x2="338.96" y2="2.5" />
<line x1="344.92" y1="202.5" x2="344.92" y2="200.5" />
<line x1="344.92" y1="0.5" x2="344.92" y2="2.5" />
<line x1="350.88" y1="202.5" x2="350.88" y2="200.5" />
<line x1="350.88" y1="0.5" x2="350.88" y2="2.5" />
<line x1="356.84" y1="202.5" x2="356.84" y2="200.5" />
<line x1="356.84" y1="0.5" x2="356.84" y2="2.5" />
<line x1="362.80" y1="202.5" x2="362.80" y2="198.5" />
<line x1="362.80" y1="0.5" x2="362.80" y2="4.5" />
<line x1="368.76" y1="202.5" x2="368.76" y2="200.5" />
<line x1="368.76" y1="0.5" x2="368.76" y2="2.5" />
<line x1="374.72" y1="202.5" x2="374.72" y2="200.5" />
<line x1="374.72" y1="0.5" x2="374.72" y2="2.5" />
<line x1="380.68" y1="202.5" x2="380.68" y2="200.5" />
<line x1="380.68" y1="0.5" x2="380.68" y2="2.5" />
<line x1="386.64" y1="202.5" x2="386.64" y2="200.5" />
<line x1="386.64" y1="0.5" x2="386.64" y2="2.5" />
<line x1="392.60" y1="202.5" x2="392.60" y2="198.5" />
<line x1="392.60" y1="0.5" x2="392.60" y2="4.5" />
<line x1="398.56" y1="202.5" x2="398.56" y2="200.5" />
<line x1="398.56" y1="0.5" x2="398.56" y2="2.5" />
<line x1="404.52" y1="202.5" x2="404.52" y2="200.5" />
<line x1="404.52" y1="0.5" x2="404.52" y2="2.5" />
<line x1="410.48" y1="202.5" x2="410.48" y2="200.5" />
<line x1="410.48" y1="0.5" x2="410.48" y2="2.5" />
<line x1="416.44" y1="202.5" x2="416.44" y2="200.5" />
<line x1="416.44" y1="0.5" x2="416.44" y2="2.5" />
<line x1="422.40" y1="202.5" x2="422.40" y2="198.5" />
<line x1="422.40" y1="0.5" x2="422.40" y2="4.5" />
<line x1="428.36" y1="202.5" x2="428.36" y2="200.5" />
<line x1="428.36" y1="0.5" x2="428.36" y2="2.5" />
<line x1="434.32" y1="202.5" x2="434.32" y2="200.5" />
<line x1="434.32" y1="0.5" x2="434.32" y2="2.5" />
<line x1="440.28" y1="202.5" x2="440.28" y2="200.5" />
<line x1="440.28" y1="0.5" x2="440.28" y2="2.5" />
<line x1="446.24" y1="202.5" x2="446.24" y2="200.5" />
<line x1="446.24" y1="0.5" x2="446.24" y2="2.5" />
<line x1="452.20" y1="202.5" x2="452.20" y2="198.5" />
<line x1="452.20" y1="0.5" x2="452.20" y2="4.5" />
<line x1="458.16" y1="202.5" x2="458.16" y2="200.5" />
<line x1="458.16" y1="0.5" x2="458.16" y2="2.5" />
<line x1="464.12" y1="202.5" x2="464.12" y2="200.5" />
<line x1="464.12" y1="0.5" x2="464.12" y2="2.5" />
<line x1="470.08" y1="202.5" x2="470.08" y2="200.5" />
<line x1="470.08" y1="0.5" x2="470.08" y2="2.5" />
<line x1="476.04" y1="202.5" x2="476.04" y2="200.5" />
<line x1="476.04" y1="0.5" x2="476.04" y2="2.5" />
<line x1="482.00" y1="202.5" x2="482.00" y2="198.5" />
<line x1="482.00" y1="0.5" x2="482.00" y2="4.5" />
<line x1="487.96" y1="202.5" x2="487.96" y2="200.5" />
<line x1="487.96" y1="0.5" x2="487.96" y2="2.5" />
<line x1="493.92" y1="202.5" x2="493.92" y2="200.5" />
<line x1="493.92" y1="0.5" x2="493.92" y2="2.5" />
<line x1="499.88" y1="202.5" x2="499.88" y2="200.5" />
<line x1="499.88" y1="0.5" x2="499.88" y2="2.5" />
<line x1="303.5" y1="197.38" x2="305.5" y2="197.38" />
<line x1="505.5" y1="197.38" x2="503.5" y2="197.38" />
<line x1="303.5" y1="187.90" x2="305.5" y2="187.90" />
<line x1="505.5" y1="187.90" x2="503.5" y2="187.90" />
<line x1="303.5" y1="178.41" x2="307.5" y2="178.41" />
<line x1="505.5" y1="178.41" x2="501.5" y2="178.41" />
<line x1="303.5" y1="168.93" x2="305.5" y2="168.93" />
<line x1="505.5" y1="168.93" x2="503.5" y2="168.93" />
<line x1="303.5" y1="159.44" x2="305.5" y2="159.44" />
<line x1="505.5" y1="159.44" x2="503.5" y2="159.44" />
<line x1="303.5" y1="149.96" x2="305.5" y2="149.96" />
<line x1="505.5" y1="149.96" x2="503.5" y2="149.96" />
<line x1="303.5" y1="140.47" x2="307.5" y2="140.47" />
<line x1="505.5" y1="140.47" x2="501.5" y2="140.47" />
<line x1="303.5" y1="130.99" x2="305.5" y2="130.99" />
<line x1="505.5" y1="130.99" x2="503.5" y2="130.99" />
<line x1="303.5" y1="121.50" x2="305.5" y2="121.50" />
<line x1="505.5" y1="121.50" x2="503.5" y2="121.50" />
<line x1="303.5" y1="112.01" x2="305.5" y2="112.01" />
<line x1="505.5" y1="112.01" x2="503.5" y2="112.01" />
<line x1="303.5" y1="102.53" x2="307.5" y2="102.53" />
<line x1="505.5" y1="102.53" x2="501.5" y2="102.53" />
<line x1="303.5" y1="93.04" x2="305.5" y2="93.04" />
<line x1="505.5" y1="93.04" x2="503.5" y2="93.04" />
<line x1="303.5" y1="83.56" x2="305.5" y2="83.56" />
<line x1="505.5" y1="83.56" x2="503.5" y2="83.56" />
<line x1="303.5" y1="74.07" x2="305.5" y2="74.07" />
<line x1="505.5" y1="74.07" x2="503.5" y2="74.07" />
<line x1="303.5" y1="64.59" x2="307.5" y2="64.59" />
<line x1="505.5" y1="64.59" x2="501.5" y2="64.59" />
<line x1="303.5" y1="55.11" x2="305.5" y2="55.11" />
<line x1="505.5" y1="55.11" x2="503.5" y2="55.11" />
<line x1="303.5" y1="45.62" x2="305.5" y2="45.62" />
<line x1="505.5" y1="45.62" x2="503.5" y2="45.62" />
<line x1="303.5" y1="36.13" x2="305.5" y2="36.13" />
<line x1="505.5" y1="36.13" x2="503.5" y2="36.13" />
<line x1="303.5" y1="26.65" x2="307.5" y2="26.65" />
<line x1="505.5" y1="26.65" x2="501.5" y2="26.65" />
<line x1="303.5" y1="17.16" x2="305.5" y2="17.16" />
<line x1="505.5" y1="17.16" x2="503.5" y2="17.16" />
<line x1="303.5" y1="7.68" x2="305.5" y2="7.68" />
<line x1="505.5" y1="7.68" x2="503.5" y2="7.68" />
<rect x="557.5" y="0.5" width="202" height="202"/>
<line x1="563.16" y1="202.5" x2="563.16" y2="200.5" />
<line x1="563.16" y1="0.5" x2="563.16" y2="2.5" />
<line x1="569.12" y1="202.5" x2="569.12" y2="200.5" />
<line x1="569.12" y1="0.5" x2="569.12" y2="2.5" />
<line x1="575.08" y1="202.5" x2="575.08" y2="200.5" />
<line x1="575.08" y1="0.5" x2="575.08" y2="2.5" />
<line x1="581.04" y1="202.5" x2="581.04" y2="200.5" />
<line x1="581.04" y1="0.5" x2="581.04" y2="2.5" />
<line x1="587.00" y1="202.5" x2="587.00" y2="198.5" />
<line x1="587.00" y1="0.5" x2="587.00" y2="4.5" />
<line x1="592.96" y1="202.5" x2="592.96" y2="200.5" />
<line x1="592.96" y1="0.5" x2="592.96" y2="2.5" />
<line x1="598.92" y1="202.5" x2="598.92" y2="200.5" />
<line x1="598.92" y1="0.5" x2="598.92" y2="2.5" />
<line x1="604.88" y1="202.5" x2="604.88" y2="200.5" />
<line x1="604.88" y1="0.5" x2="604.88" y2="2.5" />
<line x1="610.84" y1="202.5" x2="610.84" y2="200.5" />
<line x1="610.84" y1="0.5" x2="610.84" y2="2.5" />
<line x1="616.80" y1="202.5" x2="616.80" y2="198.5" />
<line x1="616.80" y1="0.5" x2="616.80" y2="4.5" />
<line x1="622.76" y1="202.5" x2="622.76" y2="200.5" />
<line x1="622.76" y1="0.5" x2="622.76" y2="2.5" />
<line x1="628.72" y1="202.5" x2="628.72" y2="200.5" />
<line x1="628.72" y1="0.5" x2="628.72" y2="2.5" />
<line x1="634.68" y1="202.5" x2="634.68" y2="200.5" />
<line x1="634.68" y1="0.5" x2="634.68" y2="2.5" />
<line x1="640.64" y1="202.5" x2="640.64" y2="200.5" />
<line x1="640.64" y1="0.5" x2="640.64" y2="2.5" />
<line x1="646.60" y1="202.5" x2="646.60" y2="198.5" />
<line x1="646.60" y1="0.5" x2="646.60" y2="4.5" />
<line x1="652.56" y1="202.5" x2="652.56" y2="200.5" />
<line x1="652.56" y1="0.5" x2="652.56" y2="2.5" />
<line x1="658.52" y1="202.5" x2="658.52" y2="200.5" />
<line x1="658.52" y1="0.5" x2="658.52" y2="2.5" />
<line x1="664.48" y1="202.5" x2="664.48" y2="200.5" />
<line x1="664.48" y1="0.5" x2="664.48" y2="2.5" />
<line x1="670.44" y1="202.5" x2="670.44" y2="200.5" />
<line x1="670.44" y1="0.5" x2="670.44" y2="2.5" />
<line x1="676.40" y1="202.5" x2="676.40" y2="198.5" />
<line x1="676.40" y1="0.5" x2="676.40" y2="4.5" />
<line x1="682.36" y1="202.5" x2="682.36" y2="200.5" />
<line x1="682.36" y1="0.5" x2="682.36" y2="2.5" />
<line x1="688.32" y1="202.5" x2="688.32" y2="200.5" />
<line x1="688.32" y1="0.5" x2="688.32" y2="2.5" />
<line x1="694.28" y1="202.5" x2="694.28" y2="200.5" />
<line x1="694.28" y1="0.5" x2="694.28" y2="2.5" />
<line x1="700.24" y1="202.5" x2="700.24" y2="200.5" />
<line x1="700.24" y1="0.5" x2="700.24" y2="2.5" />
<line x1="706.20" y1="202.5" x2="706.20" y2="198.5" />
<line x1="706.20" y1="0.5" x2="706.20" y2="4.5" />
<line x1="712.16" y1="202.5" x2="712.16" y2="200.5" />
<line x1="712.16" y1="0.5" x2="712.16" y2="2.5" />
<line x1="718.12" y1="202.5" x2="718.12" y2="200.5" />
<line x1="718.12" y1="0.5" x2="718.12" y2="2.5" />
<line x1="724.08" y1="202.5" x2="724.08" y2="200.5" />
<line x1="724.08" y1="0.5" x2="724.08" y2="2.5" />
<line x1="730.04" y1="202.5" x2="730.04" y2="200.5" />
<line x1="730.04" y1="0.5" x2="730.04" y2="2.5" />
<line x1="736.00" y1="202.5" x2="736.00" y2="198.5" />
<line x1="736.00" y1="0.5" x2="736.00" y2="4.5" />
<line x1="741.96" y1="202.5" x2="741.96" y2="200.5" />
<line x1="741.96" y1="0.5" x2="741.96" y2="2.5" />
<line x1="747.92" y1="202.5" x2="747.92" y2="200.5" />
<line x1="747.92" y1="0.5" x2="747.92" y2="2.5" />
<line x1="753.88" y1="202.5" x2="753.88" y2="200.5" />
<line x1="753.88" y1="0.5" x2="753.88" y2="2.5" />
<line x1="557.5" y1="197.38" x2="559.5" y2="197.38" />
<line x1="759.5" y1="197.38" x2="757.5" y2="197.38" />
<line x1="557.5" y1="187.90" x2="559.5" y2="187.90" />
<line x1="759.5" y1="187.90" x2="757.5" y2="187.90" />
<line x1="557.5" y1="178.41" x2="561.5" y2="178.41" />
<line x1="759.5" y1="178.41" x2="755.5" y2="178.41" />
<line x1="557.5" y1="168.93" x2="559.5" y2="168.93" />
<line x1="759.5" y1="168.93" x2="757.5" y2="168.93" />
<line x1="557.5" y1="159.44" x2="559.5" y2="159.44" />
<line x1="759.5" y1="159.44" x2="757.5" y2="159.44" />
<line x1="557.5" y1="149.96" x2="559.5" y2="149.96" />
<line x1="759.5" y1="149.96" x2="757.5" y2="149.96" />
<line x1="557.5" y1="140.47" x2="561.5" y2="140.47" />
<line x1="759.5" y1="140.47" x2="755.5" y2="140.47" />
<line x1="557.5" y1="130.99" x2="559.5" y2="130.99" />
<line x1="759.5" y1="130.99" x2="757.5" y2="130.99" />
<line x1="557.5" y1="121.50" x2="559.5" y2="121.50" />
<line x1="759.5" y1="121.50" x2="757.5" y2="121.50" />
<line x1="557.5" y1="112.01" x2="559.5" y2="112.01" />
<line x1="759.5" y1="112.01" x2="757.5" y2="112.01" />
<line x1="557.5" y1="102.53" x2="561.5" y2="102.53" />
<line x1="759.5" y1="102.53" x2="755.5" y2="102.53" />
<line x1="557.5" y1="93.04" x2="559.5" y2="93.04" />
<line x1="759.5" y1="93.04" x2="757.5" y2="93.04" />
<line x1="557.5" y1="83.56" x2="559.5" y2="83.56" />
<line x1="759.5" y1="83.56" x2="757.5" y2="83.56" />
<line x1="557.5" y1="74.07" x2="559.5" y2="74.07" />
<line x1="759.5" y1="74.07" x2="757.5" y2="74.07" />
<line x1="557.5" y1="64.59" x2="561.5" y2="64.59" />
<line x1="759.5" y1="64.59" x2="755.5" y2="64.59" />
<line x1="557.5" y1="55.11" x2="559.5" y2="55.11" />
<line x1="759.5" y1="55.11" x2="757.5" y2="55.11" />
<line x1="557.5" y1="45.62" x2="559.5" y2="45.62" />
<line x1="759.5" y1="45.62" x2="757.5" y2="45.62" />
<line x1="557.5" y1="36.13" x2="559.5" y2="36.13" />
<line x1="759.5" y1="36.13" x2="757.5" y2="36.13" />
<line x1="557.5" y1="26.65" x2="561.5" y2="26.65" />
<line x1="759.5" y1="26.65" x2="755.5" y2="26.65" />
<line x1="557.5" y1="17.16" x2="559.5" y2="17.16" />
<line x1="759.5" y1="17.16" x2="757.5" y2="17.16" />
<line x1="557.5" y1="7.68" x2="559.5" y2="7.68" />
<line x1="759.5" y1="7.68" x2="757.5" y2="7.68" />
<rect x="49.5" y="247.5" width="202" height="202"/>
<line x1="55.16" y1="449.5" x2="55.16" y2="447.5" />
<line x1="55.16" y1="247.5" x2="55.16" y2="249.5" />
<line x1="61.12" y1="449.5" x2="61.12" y2="447.5" />
<line x1="61.12" y1="247.5" x2="61.12" y2="249.5" />
<line x1="67.08" y1="449.5" x2="67.08" y2="447.5" />
<line x1="67.08" y1="247.5" x2="67.08" y2="249.5" />
<line x1="73.04" y1="449.5" x2="73.04" y2="447.5" />
<line x1="73.04" y1="247.5" x2="73.04" y2="249.5" />
<line x1="79.00" y1="449.5" x2="79.00" y2="445.5" />
<line x1="79.00" y1="247.5" x2="79.00" y2="251.5" />
<line x1="84.96" y1="449.5" x2="84.96" y2="447.5" />
<line x1="84.96" y1="247.5" x2="84.96" y2="249.5" />
<line x1="90.92" y1="449.5" x2="90.92" y2="447.5" />
<line x1="90.92" y1="247.5" x2="90.92" y2="249.5" />
<line x1="96.88" y1="449.5" x2="96.88" y2="447.5" />
<line x1="96.88" y1="247.5" x2="96.88" y2="249.5" />
<line x1="102.84" y1="449.5" x2="102.84" y2="447.5" />
<line x1="102.84" y1="247.5" x2="102.84" y2="249.5" />
<line x1="108.80" y1="449.5" x2="108.80" y2="445.5" />
<line x1="108.80" y1="247.5" x2="108.80" y2="251.5" />
<line x1="114.76" y1="449.5" x2="114.76" y2="447.5" />
<line x1="114.76" y1="247.5" x2="114.76" y2="249.5" />
<line x1="120.72" y1="449.5" x2="120.72" y2="447.5" />
<line x1="120.72" y1="247.5" x2="120.72" y2="249.5" />
<line x1="126.68" y1="449.5" x2="126.68" y2="447.5" />
<line x1="126.68" y1="247.5" x2="126.68" y2="249.5" />
<line x1="132.64" y1="449.5" x2="132.64" y2="447.5" />
<line x1="132.64" y1="247.5" x2="132.64" y2="249.5" />
<line x1="138.60" y1="449.5" x2="138.60" y2="445.5" />
<line x1="138.60" y1="247.5" x2="138.60" y2="251.5" />
<line x1="144.56" y1="449.5" x2="144.56" y2="447.5" />
<line x1="144.56" y1="247.5" x2="144.56" y2="249.5" />
<line x1="150.52" y1="449.5" x2="150.52" y2="447.5" />
<line x1="150.52" y1="247.5" x2="150.52" y2="249.5" />
<line x1="156.48" y1="449.5" x2="156.48" y2="447.5" />
<line x1="156.48" y1="247.5" x2="156.48" y2="249.5" />
<line x1="162.44" y1="449.5" x2="162.44" y2="447.5" />
<line x1="162.44" y1="247.5" x2="162.44" y2="249.5" />
<line x1="168.40" y1="449.5" x2="168.40" y2="445.5" />
<line x1="168.40" y1="247.5" x2="168.40" y2="251.5" />
<line x1="174.36" y1="449.5" x2="174.36" y2="447.5" />
<line x1="174.36" y1="247.5" x2="174.36" y2="249.5" />
<line x1="180.32" y1="449.5" x2="180.32" y2="447.5" />
<line x1="180.32" y1="247.5" x2="180.32" y2="249.5" />
<line x1="186.28" y1="449.5" x2="186.28" y2="447.5" />
<line x1="186.28" y1="247.5" x2="186.28" y2="249.5" />
<line x1="192.24" y1="449.5" x2="192.24" y2="447.5" />
<line x1="192.24" y1="247.5" x2="192.24" y2="249.5" />
<line x1="198.20" y1="449.5" x2="198.20" y2="445.5" />
<line x1="198.20" y1="247.5" x2="198.20" y2="251.5" />
<line x1="204.16" y1="449.5" x2="204.16" y2="447.5" />
<line x1="204.16" y1="247.5" x2="204.16" y2="249.5" />
<line x1="210.12" y1="449.5" x2="210.12" y2="447.5" />
<line x1="210.12" y1="247.5" x2="210.12" y2="249.5" />
<line x1="216.08" y1="449.5" x2="216.08" y2="447.5" />
<line x1="216.08" y1="247.5" x2="216.08" y2="249.5" />
<line x1="222.04" y1="449.5" x2="222.04" y2="447.5" />
<line x1="222.04" y1="247.5" x2="222.04" y2="249.5" />
<line x1="228.00" y1="449.5" x2="228.00" y2="445.5" />
<line x1="228.00" y1="247.5" x2="228.00" y2="251.5" />
<line x1="233.96" y1="449.5" x2="233.96" y2="447.5" />
<line x1="233.96" y1="247.5" x2="233.96" y2="249.5" />
<line x1="239.92" y1="449.5" x2="239.92" y2="447.5" />
<line x1="239.92" y1="247.5" x2="239.92" y2="249.5" />
<line x1="245.88" y1="449.5" x2="245.88" y2="447.5" />
<line x1="245.88" y1="247.5" x2="245.88" y2="249.5" />
<line x1="49.5" y1="445.49" x2="51.5" y2="445.49" />
<line x1="251.5" y1="445.49" x2="249.5" y2="445.49" />
<line x1="49.5" y1="441.44" x2="51.5" y2="441.44" />
<line x1="251.5" y1="441.44" x2="249.5" y2="441.44" />
<line x1="49.5" y1="437.40" x2="51.5" y2="437.40" />
<line x1="251.5" y1="437.40" x2="249.5" y2="437.40" />
<line x1="49.5" y1="433.35" x2="51.5" y2="433.35" />
<line x1="251.5" y1="433.35" x2="249.5" y2="433.35" />
<line x1="49.5" y1="429.30" x2="53.5" y2="429.30" />
<line x1="251.5" y1="429.30" x2="247.5" y2="429.30" />
<line x1="49.5" y1="425.25" x2="51.5" y2="425.25" />
<line x1="251.5" y1="425.25" x2="249.5" y2="425.25" />
<line x1="49.5" y1="421.21" x2="51.5" y2="421.21" />
<line x1="251.5" y1="421.21" x2="249.5" y2="421.21" />
<line x1="49.5" y1="417.16" x2="51.5" y2="417.16" />
<line x1="251.5" y1="417.16" x2="249.5" y2="417.16" />
<line x1="49.5" y1="413.11" x2="51.5" y2="413.11" />
<line x1="251.5" y1="413.11" x2="249.5" y2="413.11" />
<line x1="49.5" y1="409.06" x2="51.5" y2="409.06" />
<line x1="251.5" y1="409.06" x2="249.5" y2="409.06" />
<line x1="49.5" y1="405.02" x2="51.5" y2="405.02" />
<line x1="251.5" y1="405.02" x2="249.5" y2="405.02" />
<line x1="49.5" y1="400.97" x2="51.5" y2="400.97" />
<line x1="251.5" y1="400.97" x2="249.5" y2="400.97" />
<line x1="49.5" y1="396.92" x2="51.5" y2="396.92" />
<line x1="251.5" y1="396.92" x2="249.5" y2="396.92" />
<line x1="49.5" y1="392.87" x2="51.5" y2="392.87" />
<line x1="251.5" y1="392.87" x2="249.5" y2="392.87" />
<line x1="49.5" y1="388.83" x2="53.5" y2="388.83" />
<line x1="251.5" y1="388.83" x2="247.5" y2="388.83" />
<line x1="49.5" y1="384.78" x2="51.5" y2="384.78" />
<line x1="251.5" y1="384.78" x2="249.5" y2="384.78" />
<line x1="49.5" y1="380.73" x2="51.5" y2="380.73" />
<line x1="251.5" y1="380.73" x2="249.5" y2="380.73" />
<line x1="49.5" y1="376.68" x2="51.5" y2="376.68" />
<line x1="251.5" y1="376.68" x2="249.5" y2="376.68" />
<line x1="49.5" y1="372.64" x2="51.5" y2="372.64" />
<line x1="251.5" y1="372.64" x2="249.5" y2="372.64" />
<line x1="49.5" y1="368.59" x2="51.5" y2="368.59" />
<line x1="251.5" y1="368.59" x2="249.5" y2="368.59" />
<line x1="49.5" y1="364.54" x2="51.5" y2="364.54" />
<line x1="251.5" y1="364.54" x2="249.5" y2="364.54" />
<line x1="49.5" y1="360.49" x2="51.5" y2="360.49" />
<line x1="251.5" y1="360.49" x2="249.5" y2="360.49" />
<line x1="49.5" y1="356.45" x2="51.5" y2="356.45" />
<line x1="251.5" y1="356.45" x2="249.5" y2="356.45" />
<line x1="49.5" y1="352.40" x2="51.5" y2="352.40" />
<line x1="251.5" y1="352.40" x2="249.5" y2="352.40" />
<line x1="49.5" y1="348.35" x2="53.5" y2="348.35" />
<line x1="251.5" y1="348.35" x2="247.5" y2="348.35" />
<line x1="49.5" y1="344.30" x2="51.5" y2="344.30" />
<line x1="251.5" y1="344.30" x2="249.5" y2="344.30" />
<line x1="49.5" y1="340.25" x2="51.5" y2="340.25" />
<line x1="251.5" y1="340.25" x2="249.5" y2="340.25" />
<line x1="49.5" y1="336.21" x2="51.5" y2="336.21" />
<line x1="251.5" y1="336.21" x2="249.5" y2="336.21" />
<line x1="49.5" y1="332.16" x2="51.5" y2="332.16" />
<line x1="251.5" y1="332.16" x2="249.5" y2="332.16" />
<line x1="49.5" y1="328.11" x2="51.5" y2="328.11" />
<line x1="251.5" y1="328.11" x2="249.5" y2="328.11" />
<line x1="49.5" y1="324.06" x2="51.5" y2="324.06" />
<line x1="251.5" y1="324.06" x2="249.5" y2="324.06" />
<line x1="49.5" y1="320.02" x2="51.5" y2="320.02" />
<line x1="251.5" y1="320.02" x2="249.5" y2="320.02" />
<line x1="49.5" y1="315.97" x2="51.5" y2="315.97" />
<line x1="251.5" y1="315.97" x2="249.5" y2="315.97" />
<line x1="49.5" y1="311.92" x2="51.5" y2="311.92" />
<line x1="251.5" y1="311.92" x2="249.5" y2="311.92" />
<line x1="49.5" y1="307.88" x2="53.5" y2="307.88" />
<line x1="251.5" y1="307.88" x2="247.5" y2="307.88" />
<line x1="49.5" y1="303.83" x2="51.5" y2="303.83" />
<line x1="251.5" y1="303.83" x2="249.5" y2="303.83" />
<line x1="49.5" y1="299.78" x2="51.5" y2="299.78" />
<line x1="251.5" y1="299.78" x2="249.5" y2="299.78" />
<line x1="49.5" y1="295.73" x2="51.5" y2="295.73" />
<line x1="251.5" y1="295.73" x2="249.5" y2="295.73" />
<line x1="49.5" y1="291.69" x2="51.5" y2="291.69" />
<line x1="251.5" y1="291.69" x2="249.5" y2="291.69" />
<line x1="49.5" y1="287.64" x2="51.5" y2="287.64" />
<line x1="251.5" y1="287.64" x2="249.5" y2="287.64" />
<line x1="49.5" y1="283.59" x2="51.5" y2="283.59" />
<line x1="251.5" y1="283.59" x2="249.5" y2="283.59" />
<line x1="49.5" y1="279.54" x2="51.5" y2="279.54" />
<line x1="251.5" y1="279.54" x2="249.5" y2="279.54" />
<line x1="49.5" y1="275.50" x2="51.5" y2="275.50" />
<line x1="251.5" y1="275.50" x2="249.5" y2="275.50" />
<line x1="49.5" y1="271.45" x2="51.5" y2="271.45" />
<line x1="251.5" y1="271.45" x2="249.5" y2="271.45" />
<line x1="49.5" y1="267.40" x2="53.5" y2="267.40" />
<line x1="251.5" y1="267.40" x2="247.5" y2="267.40" />
<line x1="49.5" y1="263.35" x2="51.5" y2="263.35" />
<line x1="251.5" y1="263.35" x2="249.5" y2="263.35" />
<line x1="49.5" y1="259.31" x2="51.5" y2="259.31" />
<line x1="251.5" y1="259.31" x2="249.5" y2="259.31" />
<line x1="49.5" y1="255.26" x2="51.5" y2="255.26" />
<line x1="251.5" y1="255.26" x2="249.5" y2="255.26" />
<line x1="49.5" y1="251.21" x2="51.5" y2="251.21" />
<line x1="251.5" y1="251.21" x2="249.5" y2="251.21" />
<rect x="303.5" y="247.5" width="202" height="202"/>
<line x1="309.16" y1="449.5" x2="309.16" y2="447.5" />
<line x1="309.16" y1="247.5" x2="309.16" y2="249.5" />
<line x1="315.12" y1="449.5" x2="315.12" y2="447.5" />
<line x1="315.12" y1="247.5" x2="315.12" y2="249.5" />
<line x1="321.08" y1="449.5" x2="321.08" y2="447.5" />
<line x1="321.08" y1="247.5" x2="321.08" y2="249.5" />
<line x1="327.04" y1="449.5" x2="327.04" y2="447.5" />
<line x1="327.04" y1="247.5" x2="327.04" y2="249.5" />
<line x1="333.00" y1="449.5" x2="333.00" y2="445.5" />
<line x1="333.00" y1="247.5" x2="333.00" y2="251.5" />
<line x1="338.96" y1="449.5" x2="338.96" y2="447.5" />
<line x1="338.96" y1="247.5" x2="338.96" y2="249.5" />
<line x1="344.92" y1="449.5" x2="344.92" y2="447.5" />
<line x1="344.92" y1="247.5" x2="344.92" y2="249.5" />
<line x1="350.88" y1="449.5" x2="350.88" y2="447.5" />
<line x1="350.88" y1="247.5" x2="350.88" y2="249.5" />
<line x1="356.84" y1="449.5" x2="356.84" y2="447.5" />
<line x1="356.84" y1="247.5" x2="356.84" y2="249.5" />
<line x1="362.80" y1="449.5" x2="362.80" y2="445.5" />
<line x1="362.80" y1="247.5" x2="362.80" y2="251.5" />
<line x1="368.76" y1="449.5" x2="368.76" y2="447.5" />
<line x1="368.76" y1="247.5" x2="368.76" y2="249.5" />
<line x1="374.72" y1="449.5" x2="374.72" y2="447.5" />
<line x1="374.72" y1="247.5" x2="374.72" y2="249.5" />
<line x1="380.68" y1="449.5" x2="380.68" y2="447.5" />
<line x1="380.68" y1="247.5" x2="380.68" y2="249.5" />
<line x1="386.64" y1="449.5" x2="386.64" y2="447.5" />
<line x1="386.64" y1="247.5" x2="386.64" y2="249.5" />
<line x1="392.60" y1="449.5" x2="392.60" y2="445.5" />
<line x1="392.60" y1="247.5" x2="392.60" y2="251.5" />
<line x1="398.56" y1="449.5" x2="398.56" y2="447.5" />
<line x1="398.56" y1="247.5" x2="398.56" y2="249.5" />
<line x1="404.52" y1="449.5" x2="404.52" y2="447.5" />
<line x1="404.52" y1="247.5" x2="404.52" y2="249.5" />
<line x1="410.48" y1="449.5" x2="410.48" y2="447.5" />
<line x1="410.48" y1="247.5" x2="410.48" y2="249.5" />
<line x1="416.44" y1="449.5" x2="416.44" y2="447.5" />
<line x1="416.44" y1="247.5" x2="416.44" y2="249.5" />
<line x1="422.40" y1="449.5" x2="422.40" y2="445.5" />
<line x1="422.40" y1="247.5" x2="422.40" y2="251.5" />
<line x1="428.36" y1="449.5" x2="428.36" y2="447.5" />
<line x1="428.36" y1="247.5" x2="428.36" y2="249.5" />
<line x1="434.32" y1="449.5" x2="434.32" y2="447.5" />
<line x1="434.32" y1="247.5" x2="434.32" y2="249.5" />
<line x1="440.28" y1="449.5" x2="440.28" y2="447.5" />
<line x1="440.28" y1="247.5" x2="440.28" y2="249.5" />
<line x1="446.24" y1="449.5" x2="446.24" y2="447.5" />
<line x1="446.24" y1="247.5" x2="446.24" y2="249.5" />
<line x1="452.20" y1="449.5" x2="452.20" y2="445.5" />
<line x1="452.20" y1="247.5" x2="452.20" y2="251.5" />
<line x1="458.16" y1="449.5" x2="458.16" y2="447.5" />
<line x1="458.16" y1="247.5" x2="458.16" y2="249.5" />
<line x1="464.12" y1="449.5" x2="464.12" y2="447.5" />
<line x1="464.12" y1="247.5" x2="464.12" y2="249.5" />
<line x1="470.08" y1="449.5" x2="470.08" y2="447.5" />
<line x1="470.08" y1="247.5" x2="470.08" y2="249.5" />
<line x1="476.04" y1="449.5" x2="476.04" y2="447.5" />
<line x1="476.04" y1="247.5" x2="476.04" y2="249.5" />
<line x1="482.00" y1="449.5" x2="482.00" y2="445.5" />
<line x1="482.00" y1="247.5" x2="482.00" y2="251.5" />
<line x1="487.96" y1="449.5" x2="487.96" y2="447.5" />
<line x1="487.96" y1="247.5" x2="487.96" y2="249.5" />
<line x1="493.92" y1="449.5" x2="493.92" y2="447.5" />
<line x1="493.92" y1="247.5" x2="493.92" y2="249.5" />
<line x1="499.88" y1="449.5" x2="499.88" y2="447.5" />
<line x1="499.88" y1="247.5" x2="499.88" y2="249.5" />
<line x1="303.5" y1="439.88" x2="305.5" y2="439.88" />
<line x1="505.5" y1="439.88" x2="503.5" y2="439.88" />
<line x1="303.5" y1="430.70" x2="307.5" y2="430.70" />
<line x1="505.5" y1="430.70" x2="501.5" y2="430.70" />
<line x1="303.5" y1="421.52" x2="305.5" y2="421.52" />
<line x1="505.5" y1="421.52" x2="503.5" y2="421.52" />
<line x1="303.5" y1="412.35" x2="305.5" y2="412.35" />
<line x1="505.5" y1="412.35" x2="503.5" y2="412.35" />
<line x1="303.5" y1="403.18" x2="305.5" y2="403.18" />
<line x1="505.5" y1="403.18" x2="503.5" y2="403.18" />
<line x1="303.5" y1="394.00" x2="307.5" y2="394.00" />
<line x1="505.5" y1="394.00" x2="501.5" y2="394.00" />
<line x1="303.5" y1="384.82" x2="305.5" y2="384.82" />
<line x1="505.5" y1="384.82" x2="503.5" y2="384.82" />
<line x1="303.5" y1="375.65" x2="305.5" y2="375.65" />
<line x1="505.5" y1="375.65" x2="503.5" y2="375.65" />
<line x1="303.5" y1="366.48" x2="305.5" y2="366.48" />
<line x1="505.5" y1="366.48" x2="503.5" y2="366.48" />
<line x1="303.5" y1="357.30" x2="307.5" y2="357.30" />
<line x1="505.5" y1="357.30" x2="501.5" y2="357.30" />
<line x1="303.5" y1="348.12" x2="305.5" y2="348.12" />
<line x1="505.5" y1="348.12" x2="503.5" y2="348.12" />
<line x1="303.5" y1="338.95" x2="305.5" y2="338.95" />
<line x1="505.5" y1="338.95" x2="503.5" y2="338.95" />
<line x1="303.5" y1="329.77" x2="305.5" y2="329.77" />
<line x1="505.5" y1="329.77" x2="503.5" y2="329.77" />
<line x1="303.5" y1="320.60" x2="307.5" y2="320.60" />
<line x1="505.5" y1="320.60" x2="501.5" y2="320.60" />
<line x1="303.5" y1="311.43" x2="305.5" y2="311.43" />
<line x1="505.5" y1="311.43" x2="503.5" y2="311.43" />
<line x1="303.5" y1="302.25" x2="305.5" y2="302.25" />
<line x1="505.5" y1="302.25" x2="503.5" y2="302.25" />
<line x1="303.5" y1="293.07" x2="305.5" y2="293.07" />
<line x1="505.5" y1="293.07" x2="503.5" y2="293.07" />
<line x1="303.5" y1="283.90" x2="307.5" y2="283.90" />
<line x1="505.5" y1="283.90" x2="501.5" y2="283.90" />
<line x1="303.5" y1="274.73" x2="305.5" y2="274.73" />
<line x1="505.5" y1="274.73" x2="503.5" y2="274.73" />
<line x1="303.5" y1="265.55" x2="305.5" y2="265.55" />
<line x1="505.5" y1="265.55" x2="503.5" y2="265.55" />
<line x1="303.5" y1="256.38" x2="305.5" y2="256.38" />
<line x1="505.5" y1="256.38" x2="503.5" y2="256.38" />
<rect x="557.5" y="247.5" width="202" height="202"/>
<line x1="563.16" y1="449.5" x2="563.16" y2="447.5" />
<line x1="563.16" y1="247.5" x2="563.16" y2="249.5" />
<line x1="569.12" y1="449.5" x2="569.12" y2="447.5" />
<line x1="569.12" y1="247.5" x2="569.12" y2="249.5" />
<line x1="575.08" y1="449.5" x2="575.08" y2="447.5" />
<line x1="575.08" y1="247.5" x2="575.08" y2="249.5" />
<line x1="581.04" y1="449.5" x2="581.04" y2="447.5" />
<line x1="581.04" y1="247.5" x2="581.04" y2="249.5" />
<line x1="587.00" y1="449.5" x2="587.00" y2="445.5" />
<line x1="587.00" y1="247.5" x2="587.00" y2="251.5" />
<line x1="592.96" y1="449.5" x2="592.96" y2="447.5" />
<line x1="592.96" y1="247.5" x2="592.96" y2="249.5" />
<line x1="598.92" y1="449.5" x2="598.92" y2="447.5" />
<line x1="598.92" y1="247.5" x2="598.92" y2="249.5" />
<line x1="604.88" y1="449.5" x2="604.88" y2="447.5" />
<line x1="604.88" y1="247.5" x2="604.88" y2="249.5" />
<line x1="610.84" y1="449.5" x2="610.84" y2="447.5" />
<line x1="610.84" y1="247.5" x2="610.84" y2="249.5" />
<line x1="616.80" y1="449.5" x2="616.80" y2="445.5" />
<line x1="616.80" y1="247.5" x2="616.80" y2="251.5" />
<line x1="622.76" y1="449.5" x2="622.76" y2="447.5" />
<line x1="622.76" y1="247.5" x2="622.76" y2="249.5" />
<line x1="628.72" y1="449.5" x2="628.72" y2="447.5" />
<line x1="628.72" y1="247.5" x2="628.72" y2="249.5" />
<line x1="634.68" y1="449.5" x2="634.68" y2="447.5" />
<line x1="634.68" y1="247.5" x2="634.68" y2="249.5" />
<line x1="640.64" y1="449.5" x2="640.64" y2="447.5" />
<line x1="640.64" y1="247.5" x2="640.64" y2="249.5" />
<line x1="646.60" y1="449.5" x2="646.60" y2="445.5" />
<line x1="646.60" y1="247.5" x2="646.60" y2="251.5" />
<line x1="652.56" y1="449.5" x2="652.56" y2="447.5" />
<line x1="652.56" y1="247.5" x2="652.56" y2="249.5" />
<line x1="658.52" y1="449.5" x2="658.52" y2="447.5" />
<line x1="658.52" y1="247.5" x2="658.52" y2="249.5" />
<line x1="664.48" y1="449.5" x2="664.48" y2="447.5" />
<line x1="664.48" y1="247.5" x2="664.48" y2="249.5" />
<line x1="670.44" y1="449.5" x2="670.44" y2="447.5" />
<line x1="670.44" y1="247.5" x2="670.44" y2="249.5" />
<line x1="676.40" y1="449.5" x2="676.40" y2="445.5" />
<line x1="676.40" y1="247.5" x2="676.40" y2="251.5" />
<line x1="682.36" y1="449.5" x2="682.36" y2="447.5" />
<line x1="682.36" y1="247.5" x2="682.36" y2="249.5" />
<line x1="688.32" y1="449.5" x2="688.32" y2="447.5" />
<line x1="688.32" y1="247.5" x2="688.32" y2="249.5" />
<line x1="694.28" y1="449.5" x2="694.28" y2="447.5" />
<line x1="694.28" y1="247.5" x2="694.28" y2="249.5" />
<line x1="700.24" y1="449.5" x2="700.24" y2="447.5" />
<line x1="700.24" y1="247.5" x2="700.24" y2="249.5" />
<line x1="706.20" y1="449.5" x2="706.20" y2="445.5" />
<line x1="706.20" y1="247.5" x2="706.20" y2="251.5" />
<line x1="712.16" y1="449.5" x2="712.16" y2="447.5" />
<line x1="712.16" y1="247.5" x2="712.16" y2="249.5" />
<line x1="718.12" y1="449.5" x2="718.12" y2="447.5" />
<line x1="718.12" y1="247.5" x2="718.12" y2="249.5" />
<line x1="724.08" y1="449.5" x2="724.08" y2="447.5" />
<line x1="724.08" y1="247.5" x2="724.08" y2="249.5" />
<line x1="730.04" y1="449.5" x2="730.04" y2="447.5" />
<line x1="730.04" y1="247.5" x2="730.04" y2="249.5" />
<line x1="736.00" y1="449.5" x2="736.00" y2="445.5" />
<line x1="736.00" y1="247.5" x2="736.00" y2="251.5" />
<line x1="741.96" y1="449.5" x2="741.96" y2="447.5" />
<line x1="741.96" y1="247.5" x2="741.96" y2="249.5" />
<line x1="747.92" y1="449.5" x2="747.92" y2="447.5" />
<line x1="747.92" y1="247.5" x2="747.92" y2="249.5" />
<line x1="753.88" y1="449.5" x2="753.88" y2="447.5" />
<line x1="753.88" y1="247.5" x2="753.88" y2="249.5" />
<line x1="557.5" y1="436.70" x2="561.5" y2="436.70" />
<line x1="759.5" y1="436.70" x2="755.5" y2="436.70" />
<line x1="557.5" y1="424.08" x2="559.5" y2="424.08" />
<line x1="759.5" y1="424.08" x2="757.5" y2="424.08" />
<line x1="557.5" y1="411.46" x2="559.5" y2="411.46" />
<line x1="759.5" y1="411.46" x2="757.5" y2="411.46" />
<line x1="557.5" y1="398.84" x2="559.5" y2="398.84" />
<line x1="759.5" y1="398.84" x2="757.5" y2="398.84" />
<line x1="557.5" y1="386.22" x2="559.5" y2="386.22" />
<line x1="759.5" y1="386.22" x2="757.5" y2="386.22" />
<line x1="557.5" y1="373.60" x2="561.5" y2="373.60" />
<line x1="759.5" y1="373.60" x2="755.5" y2="373.60" />
<line x1="557.5" y1="360.98" x2="559.5" y2="360.98" />
<line x1="759.5" y1="360.98" x2="757.5" y2="360.98" />
<line x1="557.5" y1="348.36" x2="559.5" y2="348.36" />
<line x1="759.5" y1="348.36" x2="757.5" y2="348.36" />
<line x1="557.5" y1="335.74" x2="559.5" y2="335.74" />
<line x1="759.5" y1="335.74" x2="757.5" y2="335.74" />
<line x1="557.5" y1="323.12" x2="559.5" y2="323.12" />
<line x1="759.5" y1="323.12" x2="757.5" y2="323.12" />
<line x1="557.5" y1="310.50" x2="561.5" y2="310.50" />
<line x1="759.5" y1="310.50" x2="755.5" y2="310.50" />
<line x1="557.5" y1="297.88" x2="559.5" y2="297.88" />
<line x1="759.5" y1="297.88" x2="757.5" y2="297.88" />
<line x1="557.5" y1="285.26" x2="559.5" y2="285.26" />
<line x1="759.5" y1="285.26" x2="757.5" y2="285.26" />
<line x1="557.5" y1="272.64" x2="559.5" y2="272.64" />
<line x1="759.5" y1="272.64" x2="757.5" y2="272.64" />
<line x1="557.5" y1="260.02" x2="559.5" y2="260.02" />
<line x1="759.5" y1="260.02" x2="757.5" y2="260.02" />
</g>
<g font-family="Liberation Sans, sans-serif" font-size="10.8" fill="#1a1a1a" stroke="#1a1a1a" stroke-width="0.15">
<text x="45.5" y="182.81" text-anchor="end">80</text>
<text x="45.5" y="144.87" text-anchor="end">100</text>
<text x="45.5" y="106.93" text-anchor="end">120</text>
<text x="45.5" y="68.99" text-anchor="end">140</text>
<text x="45.5" y="31.05" text-anchor="end">160</text>
<text x="299.5" y="182.81" text-anchor="end">80</text>
<text x="299.5" y="144.87" text-anchor="end">100</text>
<text x="299.5" y="106.93" text-anchor="end">120</text>
<text x="299.5" y="68.99" text-anchor="end">140</text>
<text x="299.5" y="31.05" text-anchor="end">160</text>
<text x="553.5" y="182.81" text-anchor="end">80</text>
<text x="553.5" y="144.87" text-anchor="end">100</text>
<text x="553.5" y="106.93" text-anchor="end">120</text>
<text x="553.5" y="68.99" text-anchor="end">140</text>
<text x="553.5" y="31.05" text-anchor="end">160</text>
<text x="45.5" y="433.70" text-anchor="end" textLength="26.4" lengthAdjust="spacingAndGlyphs">−200</text>
<text x="45.5" y="393.23" text-anchor="end" textLength="26.4" lengthAdjust="spacingAndGlyphs">−100</text>
<text x="45.5" y="352.75" text-anchor="end">0</text>
<text x="45.5" y="312.27" text-anchor="end">100</text>
<text x="45.5" y="271.80" text-anchor="end">200</text>
<text x="299.5" y="435.10" text-anchor="end">0</text>
<text x="299.5" y="398.40" text-anchor="end">20</text>
<text x="299.5" y="361.70" text-anchor="end">40</text>
<text x="299.5" y="325.00" text-anchor="end">60</text>
<text x="299.5" y="288.30" text-anchor="end">80</text>
<text x="299.5" y="254.50" text-anchor="end">100</text>
<text x="553.5" y="441.10" text-anchor="end">0</text>
<text x="553.5" y="378.00" text-anchor="end">50</text>
<text x="553.5" y="314.90" text-anchor="end">100</text>
<text x="553.5" y="254.50" text-anchor="end">150</text>
<text x="79.00" y="213.2" text-anchor="middle" textLength="29.4" lengthAdjust="spacingAndGlyphs">17:00</text>
<text x="108.80" y="213.2" text-anchor="middle" textLength="29.4" lengthAdjust="spacingAndGlyphs">17:10</text>
<text x="138.60" y="213.2" text-anchor="middle" textLength="29.4" lengthAdjust="spacingAndGlyphs">17:20</text>
<text x="168.40" y="213.2" text-anchor="middle" textLength="29.4" lengthAdjust="spacingAndGlyphs">17:30</text>
<text x="198.20" y="213.2" text-anchor="middle" textLength="29.4" lengthAdjust="spacingAndGlyphs">17:40</text>
<text x="228.00" y="213.2" text-anchor="middle" textLength="29.4" lengthAdjust="spacingAndGlyphs">17:50</text>
<text text-anchor="start" x="125.50" y="225.7" textLength="22.50" lengthAdjust="spacingAndGlyphs">Time</text>
<text text-anchor="start" x="153.70" y="225.7" textLength="21.50" lengthAdjust="spacingAndGlyphs">step</text>
<text x="79.00" y="459.7" text-anchor="middle" textLength="29.4" lengthAdjust="spacingAndGlyphs">17:00</text>
<text x="108.80" y="459.7" text-anchor="middle" textLength="29.4" lengthAdjust="spacingAndGlyphs">17:10</text>
<text x="138.60" y="459.7" text-anchor="middle" textLength="29.4" lengthAdjust="spacingAndGlyphs">17:20</text>
<text x="168.40" y="459.7" text-anchor="middle" textLength="29.4" lengthAdjust="spacingAndGlyphs">17:30</text>
<text x="198.20" y="459.7" text-anchor="middle" textLength="29.4" lengthAdjust="spacingAndGlyphs">17:40</text>
<text x="228.00" y="459.7" text-anchor="middle" textLength="29.4" lengthAdjust="spacingAndGlyphs">17:50</text>
<text text-anchor="start" x="125.50" y="472.9" textLength="22.50" lengthAdjust="spacingAndGlyphs">Time</text>
<text text-anchor="start" x="153.70" y="472.9" textLength="21.50" lengthAdjust="spacingAndGlyphs">step</text>
<text x="333.00" y="213.2" text-anchor="middle" textLength="29.4" lengthAdjust="spacingAndGlyphs">17:00</text>
<text x="362.80" y="213.2" text-anchor="middle" textLength="29.4" lengthAdjust="spacingAndGlyphs">17:10</text>
<text x="392.60" y="213.2" text-anchor="middle" textLength="29.4" lengthAdjust="spacingAndGlyphs">17:20</text>
<text x="422.40" y="213.2" text-anchor="middle" textLength="29.4" lengthAdjust="spacingAndGlyphs">17:30</text>
<text x="452.20" y="213.2" text-anchor="middle" textLength="29.4" lengthAdjust="spacingAndGlyphs">17:40</text>
<text x="482.00" y="213.2" text-anchor="middle" textLength="29.4" lengthAdjust="spacingAndGlyphs">17:50</text>
<text text-anchor="start" x="379.50" y="225.7" textLength="22.50" lengthAdjust="spacingAndGlyphs">Time</text>
<text text-anchor="start" x="407.70" y="225.7" textLength="21.50" lengthAdjust="spacingAndGlyphs">step</text>
<text x="333.00" y="459.7" text-anchor="middle" textLength="29.4" lengthAdjust="spacingAndGlyphs">17:00</text>
<text x="362.80" y="459.7" text-anchor="middle" textLength="29.4" lengthAdjust="spacingAndGlyphs">17:10</text>
<text x="392.60" y="459.7" text-anchor="middle" textLength="29.4" lengthAdjust="spacingAndGlyphs">17:20</text>
<text x="422.40" y="459.7" text-anchor="middle" textLength="29.4" lengthAdjust="spacingAndGlyphs">17:30</text>
<text x="452.20" y="459.7" text-anchor="middle" textLength="29.4" lengthAdjust="spacingAndGlyphs">17:40</text>
<text x="482.00" y="459.7" text-anchor="middle" textLength="29.4" lengthAdjust="spacingAndGlyphs">17:50</text>
<text text-anchor="start" x="379.50" y="472.9" textLength="22.50" lengthAdjust="spacingAndGlyphs">Time</text>
<text text-anchor="start" x="407.70" y="472.9" textLength="21.50" lengthAdjust="spacingAndGlyphs">step</text>
<text x="587.00" y="213.2" text-anchor="middle" textLength="29.4" lengthAdjust="spacingAndGlyphs">17:00</text>
<text x="616.80" y="213.2" text-anchor="middle" textLength="29.4" lengthAdjust="spacingAndGlyphs">17:10</text>
<text x="646.60" y="213.2" text-anchor="middle" textLength="29.4" lengthAdjust="spacingAndGlyphs">17:20</text>
<text x="676.40" y="213.2" text-anchor="middle" textLength="29.4" lengthAdjust="spacingAndGlyphs">17:30</text>
<text x="706.20" y="213.2" text-anchor="middle" textLength="29.4" lengthAdjust="spacingAndGlyphs">17:40</text>
<text x="736.00" y="213.2" text-anchor="middle" textLength="29.4" lengthAdjust="spacingAndGlyphs">17:50</text>
<text text-anchor="start" x="633.50" y="225.7" textLength="22.50" lengthAdjust="spacingAndGlyphs">Time</text>
<text text-anchor="start" x="661.70" y="225.7" textLength="21.50" lengthAdjust="spacingAndGlyphs">step</text>
<text x="587.00" y="459.7" text-anchor="middle" textLength="29.4" lengthAdjust="spacingAndGlyphs">17:00</text>
<text x="616.80" y="459.7" text-anchor="middle" textLength="29.4" lengthAdjust="spacingAndGlyphs">17:10</text>
<text x="646.60" y="459.7" text-anchor="middle" textLength="29.4" lengthAdjust="spacingAndGlyphs">17:20</text>
<text x="676.40" y="459.7" text-anchor="middle" textLength="29.4" lengthAdjust="spacingAndGlyphs">17:30</text>
<text x="706.20" y="459.7" text-anchor="middle" textLength="29.4" lengthAdjust="spacingAndGlyphs">17:40</text>
<text x="736.00" y="459.7" text-anchor="middle" textLength="29.4" lengthAdjust="spacingAndGlyphs">17:50</text>
<text text-anchor="start" x="633.50" y="472.9" textLength="22.50" lengthAdjust="spacingAndGlyphs">Time</text>
<text text-anchor="start" x="661.70" y="472.9" textLength="21.50" lengthAdjust="spacingAndGlyphs">step</text>
<text text-anchor="start" transform="translate(17.5,132.00) rotate(-90)" x="0" y="0" textLength="12.70" lengthAdjust="spacingAndGlyphs">slit</text>
<text text-anchor="start" transform="translate(17.5,111.80) rotate(-90)" x="0" y="0" textLength="41.20" lengthAdjust="spacingAndGlyphs">(arcsec)</text>
<text text-anchor="start" transform="translate(271.5,132.00) rotate(-90)" x="0" y="0" textLength="12.70" lengthAdjust="spacingAndGlyphs">slit</text>
<text text-anchor="start" transform="translate(271.5,111.80) rotate(-90)" x="0" y="0" textLength="41.20" lengthAdjust="spacingAndGlyphs">(arcsec)</text>
<text text-anchor="start" transform="translate(525.5,132.00) rotate(-90)" x="0" y="0" textLength="12.70" lengthAdjust="spacingAndGlyphs">slit</text>
<text text-anchor="start" transform="translate(525.5,111.80) rotate(-90)" x="0" y="0" textLength="41.20" lengthAdjust="spacingAndGlyphs">(arcsec)</text>
<text text-anchor="start" transform="translate(9.6,376.80) rotate(-90)" x="0" y="0" textLength="13.60" lengthAdjust="spacingAndGlyphs">vel</text>
<text text-anchor="start" transform="translate(9.6,358.50) rotate(-90)" x="0" y="0" textLength="37.90" lengthAdjust="spacingAndGlyphs">(km/s)</text>
<text text-anchor="start" transform="translate(271.5,369.50) rotate(-90)" x="0" y="0" textLength="42.10" lengthAdjust="spacingAndGlyphs">intensity</text>
<text text-anchor="start" transform="translate(525.7,377.50) rotate(-90)" x="0" y="0" textLength="15.40" lengthAdjust="spacingAndGlyphs">wid</text>
<text text-anchor="start" transform="translate(525.7,357.90) rotate(-90)" x="0" y="0" textLength="37.90" lengthAdjust="spacingAndGlyphs">(km/s)</text>
</g>
<g font-family="Liberation Sans, sans-serif" font-size="10.7" text-anchor="middle">
<text x="84.75" y="34.6" fill="#1a1a1a" stroke="#1a1a1a" stroke-width="0.15" textLength="21.5" lengthAdjust="spacingAndGlyphs">−40</text>
<text x="120.85" y="34.6" fill="#1a1a1a" stroke="#1a1a1a" stroke-width="0.15" textLength="20" lengthAdjust="spacingAndGlyphs">−20</text>
<text x="155" y="34.6" fill="#1a1a1a" stroke="#1a1a1a" stroke-width="0.15">0</text>
<text x="190.9" y="34.6" fill="#1a1a1a" stroke="#1a1a1a" stroke-width="0.15">20</text>
<text x="226.7" y="34.6" fill="#1a1a1a" stroke="#1a1a1a" stroke-width="0.15">40</text>
<text text-anchor="start" x="101.00" y="47.9" textLength="39.00" lengthAdjust="spacingAndGlyphs" fill="#1a1a1a" stroke="#1a1a1a" stroke-width="0.15">Doppler</text>
<text text-anchor="start" x="146.80" y="47.9" textLength="17.70" lengthAdjust="spacingAndGlyphs" fill="#1a1a1a" stroke="#1a1a1a" stroke-width="0.15">vel.</text>
<text text-anchor="start" x="171.60" y="47.9" textLength="37.40" lengthAdjust="spacingAndGlyphs" fill="#1a1a1a" stroke="#1a1a1a" stroke-width="0.15">[km/s]</text>
<text x="341.7" y="34.6" fill="#fff" stroke="#fff" stroke-width="0.15" textLength="21.4" lengthAdjust="spacingAndGlyphs">−10</text>
<text x="364.7" y="34.6" fill="#fff" stroke="#fff" stroke-width="0.15" textLength="13.4" lengthAdjust="spacingAndGlyphs">−5</text>
<text x="387.7" y="34.6" fill="#fff" stroke="#fff" stroke-width="0.15">0</text>
<text x="411" y="34.6" fill="#fff" stroke="#fff" stroke-width="0.15">5</text>
<text x="435" y="34.6" fill="#fff" stroke="#fff" stroke-width="0.15">10</text>
<text x="459.3" y="34.6" fill="#fff" stroke="#fff" stroke-width="0.15">15</text>
<text x="482.1" y="34.6" fill="#fff" stroke="#fff" stroke-width="0.15">20</text>
<text text-anchor="start" x="389.30" y="47.9" textLength="44.10" lengthAdjust="spacingAndGlyphs" fill="#fff" stroke="#fff" stroke-width="0.15">intensity</text>
<text x="596.7" y="34.6" fill="#fff" stroke="#fff" stroke-width="0.15" textLength="21.4" lengthAdjust="spacingAndGlyphs">−50</text>
<text x="631.5" y="34.6" fill="#fff" stroke="#fff" stroke-width="0.15">0</text>
<text x="666.7" y="34.6" fill="#fff" stroke="#fff" stroke-width="0.15">50</text>
<text x="703.1" y="34.6" fill="#fff" stroke="#fff" stroke-width="0.15">100</text>
<text x="738.9" y="34.6" fill="#fff" stroke="#fff" stroke-width="0.15">150</text>
<text text-anchor="start" x="622.60" y="47.9" textLength="17.20" lengthAdjust="spacingAndGlyphs" fill="#fff" stroke="#fff" stroke-width="0.15">line</text>
<text text-anchor="start" x="646.50" y="47.9" textLength="19.00" lengthAdjust="spacingAndGlyphs" fill="#fff" stroke="#fff" stroke-width="0.15">wid.</text>
<text text-anchor="start" x="673.40" y="47.9" textLength="38.60" lengthAdjust="spacingAndGlyphs" fill="#fff" stroke="#fff" stroke-width="0.15">[km/s]</text>
</g>
<path d="M60.800000000000004,7.2 Q54.6,14.45 60.800000000000004,21.7 M68.2,15.100000000000001 A2.4,3.25 0 1 1 63.4,15.100000000000001 A2.4,3.25 0 1 1 68.2,15.100000000000001 M68.25,11.900000000000002 V18.400000000000002 M71.6,7.2 Q77.8,14.45 71.6,21.7" fill="none" stroke="#111" stroke-width="1.3" stroke-linecap="round"/>
<path d="M316.59999999999997,7.2 Q310.4,14.45 316.59999999999997,21.7 M323.61,12.80 A2.7,3.1 0 1 0 323.61,17.40 M327.4,7.2 Q333.59999999999997,14.45 327.4,21.7" fill="none" stroke="#f2f2f2" stroke-width="1.3" stroke-linecap="round"/>
<path d="M568.8000000000001,7.2 Q562.6,14.45 568.8000000000001,21.7 M571.5500000000001,15.000000000000002 H577.1 A2.8,3.1 0 1 0 576.44,17.09 M579.6,7.2 Q585.8000000000001,14.45 579.6,21.7" fill="none" stroke="#f2f2f2" stroke-width="1.3" stroke-linecap="round"/>
<path d="M60.800000000000004,254.2 Q54.6,261.45 60.800000000000004,268.7 M69.4,261.8 A2.5,3.3 0 1 1 64.4,261.8 A2.5,3.3 0 1 1 69.4,261.8 M64.35000000000001,256.09999999999997 V265.40000000000003 M71.6,254.2 Q77.8,261.45 71.6,268.7" fill="none" stroke="#111" stroke-width="1.3" stroke-linecap="round"/>
<path d="M316.59999999999997,254.2 Q310.4,261.45 316.59999999999997,268.7 M323.99999999999994,262.0 A2.4,3.3 0 1 1 319.2,262.0 A2.4,3.3 0 1 1 323.99999999999994,262.0 M324.04999999999995,256.0 V265.6 M327.4,254.2 Q333.59999999999997,261.45 327.4,268.7" fill="none" stroke="#111" stroke-width="1.3" stroke-linecap="round"/>
<path d="M568.8000000000001,254.2 Q562.6,261.45 568.8000000000001,268.7 M572.4,265.0 V259.0 Q572.4,255.79999999999998 574.8,255.5 M571.1,259.2 H574.0 M576.6999999999999,254.2 Q582.9,261.45 576.6999999999999,268.7" fill="none" stroke="#111" stroke-width="1.3" stroke-linecap="round"/>
</svg>
</body></html>
